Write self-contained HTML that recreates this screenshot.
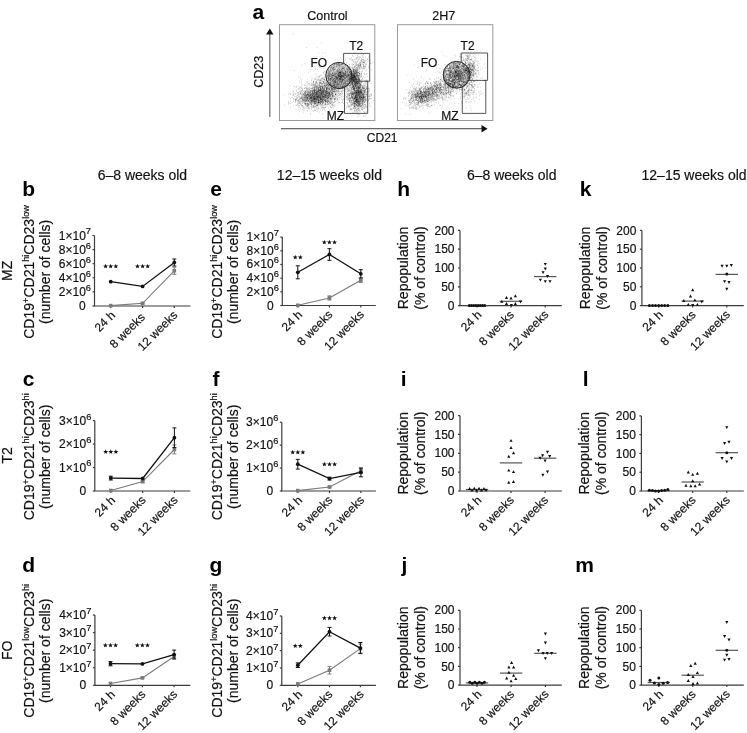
<!DOCTYPE html>
<html><head><meta charset="utf-8"><style>
html,body{margin:0;padding:0;background:#fff;}
body{width:747px;height:733px;overflow:hidden;}
svg{display:block;will-change:transform;}
</style></head><body>
<svg width="747" height="733" viewBox="0 0 747 733" font-family='"Liberation Sans", sans-serif'>
<rect width="747" height="733" fill="#fff"/>
<text x="258.30" y="18.50" font-size="21" text-anchor="middle" font-weight="bold" fill="#000">a</text>
<text x="327.50" y="20.10" font-size="12.5" text-anchor="middle" fill="#111" stroke="#111" stroke-width="0.18">Control</text>
<text x="443.80" y="20.10" font-size="12.5" text-anchor="middle" fill="#111" stroke="#111" stroke-width="0.18">2H7</text>
<rect x="279.5" y="24.7" width="95.3" height="95.8" fill="none" stroke="#999" stroke-width="1"/>
<rect x="397.5" y="24.7" width="95.3" height="95.8" fill="none" stroke="#999" stroke-width="1"/>
<path d="M269.8 117 V33" stroke="#777" stroke-width="1.3"/>
<path d="M269.8 28.6 L273.5 34.6 L266.1 34.6Z" fill="#111"/>
<path d="M281 128.7 H482" stroke="#666" stroke-width="1.3"/>
<path d="M487.6 128.7 L481.5 125 L481.5 132.4Z" fill="#111"/>
<text x="263.30" y="71.80" font-size="12.5" text-anchor="middle" fill="#111" stroke="#111" stroke-width="0.18" transform="rotate(-90 263.3 71.8)">CD23</text>
<text x="382.20" y="142.20" font-size="12" text-anchor="middle" fill="#111" stroke="#111" stroke-width="0.18">CD21</text>
<path transform="scale(0.1)" d="M3696 499h6m-156 24h6m-327 8h6m280 59h6m72 0h6m42 2h6m-18 4h6m44 0h6m-101 1h6m-6 2h6m33 13h6m-97 2h6m19 7h6m8 2h6m42 0h6m-236 11h6m27 0h6m-57 1h6m10 0h6m-30 4h6m2 1h6m-7 3h6m6 2h6m24 0h6m-34 5h6m44 0h6m40 1h6m-135 1h6m231 0h6m-143 1h6m-75 2h6m-15 1h6m257 0h6m-58 3h6m-229 1h6m216 1h6m-226 2h6m21 0h6m-33 3h6m271 0h6m-188 1h6m191 1h6m-344 2h6m28 1h6m189 0h6m91 0h6m-173 1h6m104 0h6m100 0h6m-205 1h6m-39 1h6m3 2h6m90 0h6m-195 2h6m-62 1h6m6 1h6m12 0h6m89 0h6m25 1h6m116 1h6m-269 2h6m93 1h6m44 0h6m84 0h6m-180 1h6m-43 1h6m99 2h6m-162 1h6m11 0h6m111 0h6m-58 2h6m22 0h6m127 0h6m-1 0h6m8 0h6m-130 1h6m-78 1h6m182 0h6m-95 1h6m-173 1h6m225 1h6m41 0h6m-311 1h6m124 0h6m1 1h6m-6 0h6m38 1h6m75 0h6m2 2h6m-130 1h6m55 0h6m75 0h6m-28 1h6m-234 1h6m72 0h6m152 0h6m-258 1h6m112 1h6m142 0h6m-295 1h6m219 0h6m25 0h6m-262 1h6m92 0h6m28 0h6m67 0h6m1 0h6m-206 1h6m1 2h6m67 0h6m199 0h6m-48 2h6m15 1h6m-51 1h6m-280 1h6m214 0h6m-82 1h6m10 0h6m103 0h6m-17 1h6m68 0h6m-150 1h6m112 0h6m20 0h6m-225 1h6m77 1h6m135 0h6m-177 1h6m-4 0h6m18 0h6m128 0h6m-280 1h6m109 1h6m-52 1h6m130 0h6m-86 2h6m-120 2h6m43 0h6m31 0h6m23 0h6m123 0h6m13 0h6m-152 1h6m-17 1h6m128 0h6m2 0h6m-53 1h6m-2 1h6m-162 1h6m216 1h6m34 0h6m-294 1h6m39 0h6m168 0h6m-121 1h6m4 0h6m-82 1h6m79 0h6m20 1h6m187 0h6m-158 1h6m-220 1h6m62 0h6m87 0h6m15 0h6m30 0h6m-234 1h6m138 0h6m-34 1h6m64 0h6m75 0h6m-237 1h6m9 0h6m172 0h6m-131 1h6m94 0h6m36 1h6m28 0h6m-5 0h6m70 0h6m-163 1h6m-247 1h6m279 0h6m-154 1h6m58 0h6m-171 1h6m27 0h6m89 0h6m100 0h6m-4 0h6m12 0h6m-97 1h6m-32 1h6m-4 0h6m43 0h6m0 0h6m59 0h6m18 0h6m6 0h6m-287 1h6m27 0h6m80 0h6m36 0h6m77 0h6m2 0h6m11 0h6m-283 1h6m104 0h6m79 0h6m40 0h6m-127 1h6m3 0h6m118 0h6m-283 1h6m238 0h6m60 0h6m-299 1h6m141 0h6m-74 1h6m135 0h6m43 0h6m-175 1h6m47 0h6m25 0h6m54 0h6m-186 1h6m29 0h6m148 0h6m-243 1h6m-1 0h6m99 0h6m8 0h6m4 0h6m-28 1h6m-29 1h6m35 0h6m69 0h6m-208 1h6m74 0h6m163 0h6m-260 1h6m94 0h6m104 0h6m-325 1h6m156 0h6m-2 0h6m35 0h6m-3 0h6m45 0h6m89 0h6m-271 1h6m101 0h6m14 0h6m-173 1h6m149 0h6m32 0h6m125 0h6m-159 1h6m32 0h6m81 0h6m-273 1h6m7 0h6m171 0h6m100 0h6m-420 1h6m224 0h6m129 0h6m-84 1h6m88 0h6m-2 0h6m0 0h6m-296 1h6m236 0h6m30 0h6m15 0h6m4 0h6m15 0h6m-261 1h6m70 0h6m111 0h6m-153 1h6m22 0h6m117 0h6m-1 0h6m-224 1h6m41 0h6m32 1h6m115 0h6m-155 1h6m0 0h6m79 0h6m95 0h6m-261 1h6m114 0h6m129 0h6m-342 2h6m-5 0h6m59 0h6m-5 0h6m12 0h6m51 0h6m129 0h6m80 0h6m-291 1h6m15 0h6m99 0h6m69 0h6m0 0h6m-213 1h6m88 0h6m10 0h6m96 0h6m9 0h6m-257 1h6m26 0h6m87 0h6m98 0h6m6 0h6m1 0h6m-121 2h6m101 0h6m39 0h6m58 0h6m-491 1h6m234 0h6m150 0h6m30 0h6m20 0h6m-448 1h6m275 0h6m79 0h6m-194 1h6m147 0h6m6 0h6m46 0h6m-217 1h6m44 0h6m-5 0h6m-3 0h6m-140 1h6m40 0h6m-1 0h6m68 0h6m185 0h6m-144 1h6m-69 1h6m109 0h6m60 0h6m-274 1h6m141 0h6m82 0h6m2 0h6m9 0h6m10 0h6m-169 1h6m-6 0h6m14 0h6m-156 1h6m109 0h6m197 0h6m-65 1h6m-16 1h6m-335 1h6m51 0h6m265 0h6m25 0h6m0 0h6m17 0h6m-258 1h6m92 0h6m-166 1h6m99 0h6m139 0h6m9 0h6m-177 1h6m-65 1h6m254 0h6m-132 1h6m-6 0h6m10 0h6m99 0h6m5 0h6m-228 1h6m72 0h6m15 1h6m55 0h6m2 0h6m-215 1h6m193 0h6m20 0h6m0 0h6m66 0h6m-18 1h6m-69 1h6m105 0h6m-321 1h6m22 0h6m166 0h6m-369 1h6m202 0h6m154 0h6m43 0h6m11 0h6m-472 1h6m331 0h6m92 0h6m-341 1h6m180 0h6m150 0h6m20 0h6m-320 1h6m85 0h6m67 0h6m124 0h6m-4 0h6m-364 1h6m197 0h6m68 0h6m-203 1h6m245 0h6m117 0h6m-297 1h6m95 0h6m-294 1h6m-210 1h6m319 0h6m221 0h6m13 0h6m-438 1h6m406 0h6m-417 1h6m122 0h6m76 0h6m46 0h6m-122 1h6m0 0h6m22 0h6m100 0h6m-122 1h6m26 0h6m28 0h6m-174 1h6m206 0h6m171 2h6m-464 1h6m363 0h6m-217 1h6m55 0h6m-132 1h6m329 0h6m-400 1h6m76 0h6m89 0h6m60 0h6m131 0h6m-339 1h6m-4 0h6m168 0h6m47 0h6m8 0h6m57 1h6m-322 1h6m33 0h6m223 0h6m90 0h6m0 0h6m-426 1h6m17 0h6m148 0h6m152 0h6m35 0h6m26 0h6m-151 1h6m-85 1h6m261 0h6m-500 1h6m98 0h6m87 0h6m155 0h6m-138 1h6m179 0h6m-399 1h6m108 0h6m127 0h6m141 0h6m-317 1h6m145 0h6m103 0h6m88 0h6m-189 1h6m141 0h6m-165 1h6m23 1h6m52 0h6m-3 0h6m-89 1h6m28 0h6m82 0h6m35 0h6m4 0h6m-241 1h6m-1 0h6m-219 1h6m452 0h6m-200 1h6m33 0h6m65 1h6m56 0h6m0 1h6m-232 1h6m25 0h6m102 0h6m-89 1h6m173 0h6m105 0h6m-526 1h6m308 1h6m131 0h6m-365 1h6m60 0h6m63 0h6m68 0h6m-86 1h6m182 0h6m32 0h6m-708 3h6m252 0h6m119 0h6m69 0h6m87 0h6m33 0h6m-375 1h6m386 0h6m30 0h6m-162 1h6m6 0h6m-33 1h6m227 0h6m16 0h6m-417 1h6m101 1h6m233 0h6m-360 1h6m214 0h6m-2 0h6m20 0h6m-307 1h6m76 0h6m0 0h6m39 0h6m-94 1h6m135 0h6m-4 0h6m4 0h6m10 0h6m43 0h6m-37 1h6m36 1h6m12 0h6m110 0h6m4 0h6m84 0h6m-422 1h6m268 0h6m3 0h6m47 0h6m-450 1h6m22 0h6m134 0h6m107 0h6m12 0h6m55 0h6m18 0h6m2 0h6m-376 1h6m477 0h6m-291 1h6m-218 1h6m157 0h6m226 0h6m83 0h6m-417 1h6m190 0h6m-5 0h6m-168 1h6m60 0h6m21 0h6m56 0h6m13 0h6m126 0h6m-422 1h6m35 0h6m10 0h6m28 0h6m89 0h6m41 0h6m191 0h6m9 0h6m-432 1h6m184 0h6m-137 1h6m143 0h6m197 0h6m-455 1h6m426 0h6m65 0h6m-348 1h6m-2 0h6m287 0h6m-467 1h6m146 0h6m35 0h6m265 0h6m-257 1h6m221 0h6m69 0h6m38 0h6m-511 1h6m84 0h6m5 0h6m51 0h6m249 0h6m74 0h6m-692 1h6m48 0h6m509 0h6m12 0h6m41 0h6m-549 1h6m24 0h6m30 0h6m29 0h6m36 0h6m247 0h6m57 0h6m-377 1h6m139 0h6m81 0h6m125 0h6m103 0h6m-529 1h6m210 0h6m222 0h6m-584 1h6m87 0h6m57 0h6m38 1h6m-163 1h6m205 0h6m47 0h6m244 0h6m41 0h6m-461 1h6m127 0h6m25 1h6m358 0h6m-426 1h6m426 0h6m-464 2h6m129 0h6m167 0h6m130 0h6m-488 2h6m432 0h6m-433 1h6m151 0h6m256 0h6m-386 1h6m213 0h6m74 0h6m108 0h6m-334 1h6m14 0h6m219 0h6m37 0h6m-639 1h6m121 0h6m106 0h6m19 0h6m31 0h6m55 0h6m11 0h6m33 0h6m91 0h6m1 0h6m7 0h6m-253 1h6m105 0h6m234 0h6m26 0h6m-338 1h6m-201 1h6m5 0h6m355 0h6m-474 1h6m161 0h6m126 0h6m58 0h6m190 0h6m-469 1h6m399 0h6m61 0h6m2 0h6m-381 1h6m16 0h6m321 0h6m-294 1h6m296 0h6m4 0h6m30 0h6m-448 1h6m507 0h6m-470 1h6m5 0h6m79 0h6m28 0h6m237 0h6m-564 1h6m-3 0h6m172 0h6m7 0h6m310 0h6m28 0h6m-601 1h6m162 0h6m164 0h6m-6 0h6m-4 0h6m237 0h6m56 0h6m-457 1h6m11 0h6m21 0h6m1 0h6m29 0h6m233 0h6m100 0h6m-467 1h6m-2 0h6m4 0h6m-93 1h6m397 0h6m-483 1h6m147 0h6m193 0h6m-275 1h6m11 0h6m4 0h6m110 0h6m265 0h6m94 0h6m-407 1h6m331 0h6m-3 0h6m35 0h6m12 0h6m-390 1h6m-137 1h6m23 0h6m54 0h6m66 0h6m23 0h6m98 0h6m263 0h6m12 0h6m-524 1h6m79 0h6m421 0h6m-476 1h6m58 0h6m57 0h6m201 0h6m54 0h6m46 0h6m-521 1h6m483 0h6m-472 1h6m67 0h6m322 1h6m8 0h6m-401 1h6m165 0h6m72 0h6m123 0h6m-574 1h6m231 0h6m34 0h6m333 0h6m79 0h6m-760 1h6m270 0h6m-2 0h6m100 0h6m-430 1h6m253 0h6m384 0h6m7 0h6m46 0h6m-51 1h6m-353 1h6m307 0h6m-2 0h6m-320 1h6m80 0h6m51 0h6m38 0h6m-294 1h6m83 0h6m51 0h6m1 0h6m17 0h6m274 0h6m-676 1h6m231 0h6m42 0h6m102 0h6m16 0h6m294 0h6m0 0h6m-567 1h6m168 0h6m17 0h6m3 0h6m0 0h6m0 0h6m104 0h6m97 0h6m61 0h6m0 0h6m6 0h6m16 0h6m-247 1h6m176 1h6m-506 1h6m157 0h6m201 0h6m-431 1h6m80 0h6m65 0h6m8 0h6m127 0h6m30 0h6m5 0h6m230 0h6m30 0h6m-355 1h6m10 0h6m197 0h6m-333 1h6m143 0h6m61 0h6m124 0h6m-286 1h6m25 0h6m263 0h6m76 0h6m2 0h6m27 0h6m-759 1h6m277 0h6m117 0h6m314 0h6m-445 1h6m118 0h6m52 0h6m37 0h6m61 0h6m200 0h6m-481 1h6m-4 0h6m9 0h6m17 0h6m387 0h6m-476 1h6m-172 1h6m36 0h6m1 0h6m20 0h6m13 0h6m431 0h6m50 0h6m-1 0h6m-548 1h6m87 0h6m104 0h6m-174 1h6m24 0h6m104 0h6m37 0h6m303 0h6m1 0h6m6 0h6m-510 1h6m69 0h6m38 0h6m15 0h6m54 0h6m304 0h6m65 0h6m-472 1h6m61 0h6m18 0h6m-319 1h6m110 0h6m47 0h6m28 0h6m-20 1h6m0 0h6m114 0h6m63 0h6m215 0h6m-499 1h6m242 0h6m170 0h6m38 0h6m146 0h6m-562 1h6m-4 0h6m65 0h6m89 0h6m181 0h6m82 0h6m-480 1h6m15 0h6m405 0h6m-510 1h6m161 0h6m-156 1h6m18 0h6m125 0h6m73 0h6m185 0h6m-327 1h6m33 0h6m51 0h6m74 0h6m292 0h6m-601 1h6m227 0h6m298 0h6m35 0h6m8 0h6m-563 1h6m20 0h6m176 0h6m32 0h6m-246 1h6m139 0h6m4 0h6m51 0h6m-173 1h6m6 0h6m76 0h6m65 0h6m256 0h6m-367 1h6m10 0h6m12 0h6m130 0h6m213 0h6m-482 1h6m95 0h6m349 0h6m-2 0h6m-457 1h6m116 0h6m8 0h6m-182 1h6m47 0h6m21 0h6m81 0h6m-1 0h6m253 0h6m79 0h6m3 0h6m-518 1h6m107 0h6m345 0h6m-334 1h6m279 0h6m-633 1h6m265 0h6m298 0h6m169 0h6m-605 1h6m89 0h6m101 0h6m-183 1h6m137 0h6m263 0h6m92 1h6m-351 1h6m20 0h6m372 0h6m-601 1h6m52 0h6m-5 0h6m48 0h6m15 0h6m210 0h6m137 0h6m-390 1h6m-47 1h6m166 0h6m40 0h6m-170 1h6m80 0h6m57 0h6m-134 1h6m68 0h6m3 0h6m97 0h6m-280 1h6m9 0h6m-1 0h6m17 0h6m112 0h6m27 0h6m244 0h6m45 0h6m-549 1h6m21 0h6m-5 0h6m23 0h6m90 0h6m323 0h6m14 0h6m0 0h6m-552 1h6m105 0h6m18 0h6m-152 1h6m108 0h6m86 0h6m319 0h6m-577 1h6m189 0h6m170 0h6m356 0h6m5 0h6m-583 1h6m84 0h6m63 0h6m15 0h6m186 0h6m-419 1h6m44 0h6m5 0h6m166 0h6m-230 1h6m104 0h6m103 0h6m208 0h6m142 0h6m-471 1h6m406 0h6m-659 1h6m235 0h6m3 0h6m112 0h6m239 0h6m28 0h6m31 0h6m-475 1h6m-3 0h6m37 0h6m343 0h6m7 0h6m-284 1h6m246 0h6m76 0h6m-507 1h6m50 0h6m10 0h6m312 0h6m-488 1h6m121 0h6m50 0h6m107 0h6m211 0h6m-543 1h6m305 0h6m187 0h6m27 0h6m-548 1h6m204 0h6m9 0h6m336 0h6m19 0h6m-50 1h6m21 0h6m-472 1h6m437 0h6m4 0h6m-571 1h6m-3 0h6m500 0h6m-498 1h6m107 0h6m22 0h6m242 0h6m118 0h6m52 0h6m-644 1h6m221 0h6m351 0h6m-1 0h6m-466 1h6m51 0h6m129 0h6m296 1h6m-600 1h6m132 0h6m169 0h6m207 0h6m4 0h6m91 0h6m-686 1h6m193 0h6m391 0h6m19 0h6m-603 2h6m55 0h6m67 0h6m63 0h6m27 0h6m-6 0h6m447 0h6m-525 1h6m29 0h6m95 0h6m346 0h6m-4 0h6m-550 1h6m23 0h6m12 0h6m455 0h6m-479 1h6m67 0h6m-100 1h6m14 0h6m87 0h6m26 0h6m11 0h6m45 0h6m226 0h6m14 0h6m6 0h6m-602 1h6m213 0h6m356 0h6m33 0h6m-382 1h6m-161 1h6m101 0h6m23 0h6m321 0h6m51 0h6m20 0h6m-98 2h6m60 0h6m-520 1h6m5 0h6m29 0h6m114 0h6m-221 1h6m70 0h6m30 0h6m388 0h6m48 0h6m-13 1h6m-488 1h6m69 0h6m91 0h6m63 0h6m235 0h6m25 0h6m-300 2h6m-339 1h6m171 0h6m98 0h6m16 0h6m170 0h6m-291 1h6m84 0h6m-115 1h6m316 0h6m25 0h6m-345 1h6m11 1h6m122 0h6m5 0h6m196 0h6m146 1h6m-678 1h6m134 0h6m416 0h6m-692 1h6m638 0h6m-663 1h6m256 1h6m16 0h6m439 1h6m-591 1h6m44 0h6m144 0h6m24 0h6m329 0h6m-607 1h6m158 0h6m368 0h6m-377 1h6m373 0h6m28 0h6m-523 1h6m490 1h6m-356 2h6m307 1h6m-378 1h6m447 0h6m-2 0h6m-541 3h6m173 0h6m13 0h6m301 0h6m83 0h6m-550 1h6m133 0h6m-71 1h6m359 1h6m-304 2h6m371 0h6m-421 1h6m-141 1h6m476 0h6m-558 1h6m606 0h6m-29 1h6m-435 1h6m-79 2h6m66 1h6m-157 1h6m553 0h6m15 0h6m-669 1h6m228 0h6m371 4h6m154 1h6m-169 1h6m60 1h6m-468 1h6m0 2h6m143 2h6m-177 1h6m78 0h6m12 0h6m299 1h6m-290 1h6m400 0h6m-17 1h6m-476 4h6m150 3h6m192 0h6m-301 1h6m262 1h6m35 1h6m0 0h6m27 1h6m-506 2h6m466 0h6m56 3h6m-678 1h6m190 8h6m407 0h6m-498 1h6m56 5h6m429 0h6m-11 6h6m38 0h6m41 1h6m-459 6h6m361 21h6m-466 2h6m481 1h6m52 19h6m-19 2h6m-64 2h6m-311 11h6" stroke="#000" stroke-width="6" stroke-opacity="0.44" fill="none"/>
<path transform="scale(0.1)" d="M3626 561h6m-106 1h6m59 7h6m25 1h6m-116 4h6m45 3h6m-67 7h6m161 0h6m-100 5h6m94 5h6m-65 3h6m-125 1h6m155 0h6m36 2h6m-73 3h6m-30 1h6m71 3h6m-47 1h6m-35 11h6m103 1h6m-167 1h6m24 0h6m31 1h6m-9 3h6m-28 2h6m32 2h6m-266 8h6m-4 2h6m57 2h6m103 0h6m-4 1h6m-224 2h6m52 0h6m9 0h6m-81 3h6m61 0h6m-85 2h6m78 0h6m19 1h6m84 0h6m46 2h6m-12 1h6m-247 2h6m133 1h6m127 1h6m46 0h6m-193 1h6m132 0h6m-144 1h6m-7 1h6m-88 4h6m1 1h6m50 1h6m-110 1h6m148 0h6m43 1h6m-247 2h6m253 1h6m66 0h6m-210 1h6m-5 2h6m-135 1h6m73 1h6m-98 2h6m26 1h6m-40 1h6m280 0h6m-145 1h6m-119 1h6m-101 1h6m148 0h6m41 0h6m-133 1h6m13 1h6m82 0h6m65 0h6m44 0h6m-118 1h6m-4 2h6m123 0h6m-1 1h6m66 0h6m-355 1h6m148 0h6m-2 0h6m21 0h6m-122 1h6m110 0h6m21 0h6m146 0h6m-238 2h6m-86 1h6m201 1h6m26 0h6m21 0h6m-66 1h6m-69 2h6m5 0h6m38 0h6m-4 0h6m-218 1h6m185 1h6m25 0h6m-93 1h6m21 0h6m-87 1h6m29 0h6m101 0h6m7 1h6m2 0h6m6 0h6m-113 1h6m58 0h6m-132 3h6m-82 1h6m36 1h6m60 0h6m47 1h6m-361 1h6m331 0h6m-181 1h6m164 0h6m-23 1h6m-170 1h6m254 1h6m-151 1h6m6 1h6m85 0h6m-58 1h6m-95 2h6m6 0h6m227 0h6m-224 1h6m11 0h6m67 0h6m87 0h6m-179 1h6m45 0h6m-162 1h6m24 0h6m75 0h6m99 0h6m-435 1h6m462 1h6m-219 1h6m-17 1h6m19 0h6m114 0h6m-172 2h6m156 1h6m21 0h6m-5 1h6m15 0h6m22 0h6m-270 1h6m92 0h6m207 0h6m-153 1h6m-165 1h6m41 0h6m208 0h6m-1 1h6m-201 2h6m144 0h6m-174 1h6m77 0h6m129 0h6m29 0h6m-573 1h6m270 0h6m72 0h6m35 0h6m18 0h6m103 0h6m-93 1h6m46 0h6m-32 1h6m9 0h6m-57 1h6m69 0h6m-54 1h6m84 0h6m-234 1h6m-64 1h6m46 0h6m-33 1h6m120 0h6m-155 1h6m143 0h6m-58 1h6m101 0h6m-227 1h6m80 0h6m43 0h6m89 0h6m-9 1h6m4 0h6m21 0h6m7 0h6m-252 1h6m-153 1h6m125 0h6m81 0h6m120 0h6m39 0h6m-216 1h6m45 0h6m87 0h6m32 0h6m-5 1h6m-4 0h6m62 0h6m-271 1h6m50 0h6m-1 0h6m13 0h6m-121 1h6m130 0h6m6 0h6m76 0h6m-136 1h6m20 0h6m89 0h6m63 0h6m-389 1h6m90 0h6m108 0h6m-1 0h6m62 0h6m57 0h6m-377 1h6m256 0h6m-235 1h6m158 0h6m39 0h6m63 0h6m58 0h6m-3 0h6m-142 1h6m3 0h6m-134 1h6m85 0h6m-17 1h6m157 0h6m0 0h6m-139 1h6m45 0h6m-3 0h6m109 0h6m-394 1h6m85 2h6m117 0h6m119 0h6m-212 1h6m28 0h6m34 0h6m86 0h6m-115 1h6m66 0h6m6 0h6m6 0h6m-5 1h6m-299 1h6m215 0h6m88 0h6m-4 0h6m77 0h6m10 0h6m-263 1h6m141 0h6m44 0h6m42 0h6m-51 1h6m-173 1h6m25 0h6m5 0h6m4 0h6m97 0h6m-1 0h6m-250 1h6m84 0h6m99 0h6m38 1h6m-303 1h6m314 0h6m13 0h6m-295 1h6m27 0h6m3 0h6m-5 0h6m100 0h6m116 1h6m-5 0h6m17 0h6m-44 1h6m-249 1h6m70 0h6m151 0h6m-130 1h6m13 0h6m11 0h6m-164 1h6m106 0h6m49 0h6m-86 1h6m123 0h6m20 0h6m-191 1h6m25 0h6m11 0h6m122 0h6m27 0h6m25 0h6m-294 1h6m23 0h6m64 0h6m117 0h6m13 1h6m-241 1h6m32 0h6m55 0h6m33 0h6m95 0h6m48 0h6m-207 1h6m-5 0h6m18 0h6m127 0h6m-126 1h6m73 0h6m-447 1h6m190 0h6m15 0h6m81 0h6m22 0h6m132 0h6m22 0h6m8 0h6m-284 1h6m26 0h6m161 0h6m-98 1h6m-3 0h6m24 0h6m57 0h6m15 0h6m58 0h6m-269 1h6m102 0h6m76 0h6m53 0h6m-88 1h6m-139 1h6m32 0h6m12 0h6m146 0h6m-366 1h6m22 0h6m186 0h6m24 1h6m17 0h6m17 0h6m-1 0h6m30 0h6m-535 1h6m261 0h6m221 0h6m-164 1h6m110 0h6m-235 1h6m17 0h6m297 0h6m-166 1h6m8 0h6m167 0h6m-401 1h6m1 0h6m82 0h6m222 0h6m13 1h6m35 0h6m-384 1h6m78 0h6m228 0h6m10 0h6m25 1h6m-290 1h6m92 0h6m0 0h6m79 0h6m119 0h6m-297 1h6m178 0h6m34 0h6m-202 1h6m-78 1h6m11 0h6m307 1h6m-365 1h6m117 0h6m46 1h6m64 0h6m33 0h6m24 0h6m7 0h6m-4 0h6m-169 1h6m85 0h6m42 0h6m5 1h6m-96 1h6m18 0h6m17 0h6m4 0h6m-5 0h6m-116 1h6m-10 1h6m-4 0h6m26 0h6m-108 1h6m58 0h6m46 0h6m49 0h6m-355 1h6m78 0h6m293 0h6m63 0h6m-271 1h6m163 0h6m-1 0h6m3 0h6m8 0h6m27 0h6m-349 1h6m63 0h6m31 0h6m8 0h6m-103 1h6m98 0h6m218 0h6m-289 1h6m150 0h6m103 0h6m-218 1h6m178 0h6m46 0h6m-404 1h6m248 0h6m122 0h6m-507 1h6m315 0h6m184 0h6m-262 1h6m110 0h6m110 0h6m-3 0h6m-116 2h6m11 0h6m15 0h6m54 0h6m-5 0h6m-447 1h6m8 0h6m244 0h6m16 0h6m77 1h6m39 1h6m-366 1h6m283 0h6m28 0h6m13 0h6m1 1h6m5 0h6m52 0h6m125 0h6m-258 1h6m1 0h6m-418 1h6m273 0h6m5 0h6m171 0h6m4 0h6m-284 1h6m255 0h6m20 0h6m4 0h6m-240 1h6m18 0h6m165 0h6m-219 1h6m82 0h6m12 0h6m178 0h6m-360 1h6m137 0h6m155 0h6m65 0h6m-288 1h6m192 1h6m-237 1h6m181 0h6m-190 1h6m126 0h6m166 0h6m-391 1h6m118 0h6m-89 1h6m129 0h6m-43 1h6m-320 1h6m248 0h6m142 0h6m-117 1h6m142 0h6m151 0h6m-357 1h6m88 0h6m126 0h6m67 0h6m-55 1h6m39 0h6m-428 1h6m163 0h6m103 0h6m1 0h6m-337 1h6m136 0h6m84 0h6m98 0h6m13 0h6m-136 1h6m280 0h6m-441 1h6m41 0h6m36 0h6m1 0h6m182 0h6m148 0h6m-447 1h6m233 0h6m112 0h6m-55 1h6m-330 1h6m25 0h6m152 0h6m19 0h6m60 0h6m-129 1h6m26 0h6m127 0h6m103 0h6m-539 1h6m78 0h6m279 0h6m161 0h6m-282 1h6m79 0h6m235 0h6m-349 1h6m241 0h6m61 0h6m-346 1h6m149 0h6m8 0h6m90 0h6m-200 1h6m217 0h6m-625 1h6m343 0h6m230 0h6m0 1h6m-134 1h6m-222 1h6m131 0h6m65 0h6m105 0h6m0 0h6m56 0h6m-258 1h6m-1 0h6m-138 1h6m186 0h6m-267 1h6m90 0h6m-84 1h6m-116 1h6m83 0h6m39 0h6m66 0h6m10 0h6m136 0h6m93 0h6m-220 1h6m-4 0h6m-48 1h6m116 0h6m129 0h6m-4 0h6m51 0h6m-57 1h6m30 0h6m-441 1h6m40 0h6m9 0h6m48 0h6m153 0h6m39 0h6m91 1h6m70 0h6m-576 1h6m52 0h6m23 1h6m130 2h6m61 0h6m328 0h6m-577 1h6m164 0h6m41 0h6m178 0h6m-288 1h6m3 0h6m19 0h6m-64 1h6m160 0h6m4 0h6m37 0h6m12 0h6m160 0h6m-550 1h6m255 0h6m213 0h6m-226 1h6m218 0h6m-425 1h6m71 0h6m8 0h6m59 0h6m348 0h6m-328 1h6m5 0h6m13 0h6m176 0h6m133 0h6m-648 1h6m390 0h6m200 0h6m-449 1h6m128 0h6m87 0h6m210 0h6m-449 1h6m107 0h6m16 0h6m186 0h6m69 0h6m-311 1h6m102 0h6m95 0h6m-506 1h6m544 0h6m70 0h6m-542 1h6m62 0h6m382 0h6m-4 0h6m68 0h6m-407 1h6m77 0h6m55 0h6m40 0h6m132 0h6m65 0h6m-273 1h6m333 0h6m-457 1h6m347 0h6m-369 1h6m357 0h6m-399 1h6m9 0h6m428 0h6m-497 1h6m230 0h6m39 0h6m-291 1h6m393 0h6m30 0h6m-522 1h6m21 0h6m97 0h6m38 0h6m297 0h6m-334 1h6m424 0h6m-493 2h6m22 0h6m16 0h6m-2 0h6m333 0h6m2 0h6m-537 1h6m-1 0h6m161 0h6m42 0h6m73 0h6m27 0h6m205 0h6m-1 0h6m-501 1h6m20 0h6m22 0h6m64 0h6m68 0h6m308 0h6m-179 1h6m-82 1h6m212 0h6m23 0h6m-514 1h6m100 0h6m68 0h6m206 0h6m123 0h6m0 0h6m-6 0h6m-537 1h6m590 0h6m-576 1h6m121 0h6m-176 1h6m406 0h6m51 0h6m-122 1h6m-61 1h6m176 0h6m39 0h6m19 0h6m58 0h6m-424 1h6m-4 0h6m-6 0h6m32 0h6m317 0h6m-7 1h6m-498 1h6m16 0h6m384 1h6m89 0h6m-539 1h6m103 0h6m3 0h6m95 0h6m234 0h6m32 0h6m77 0h6m-697 1h6m94 0h6m298 0h6m213 0h6m5 0h6m-534 1h6m28 0h6m22 0h6m47 0h6m85 0h6m287 0h6m-492 1h6m47 0h6m100 0h6m52 0h6m275 0h6m-630 1h6m22 0h6m61 0h6m203 0h6m-1 0h6m269 0h6m24 0h6m-523 1h6m72 0h6m408 0h6m3 0h6m-420 1h6m60 0h6m316 0h6m5 0h6m5 0h6m-531 1h6m170 0h6m2 0h6m-35 1h6m288 0h6m-5 0h6m85 0h6m-462 1h6m-2 0h6m19 2h6m0 0h6m52 0h6m88 0h6m250 0h6m-74 1h6m-573 1h6m7 0h6m165 0h6m154 0h6m245 0h6m8 0h6m-420 1h6m180 0h6m245 0h6m-646 1h6m270 0h6m360 0h6m-495 1h6m120 0h6m340 0h6m-487 1h6m77 0h6m35 0h6m492 0h6m-533 1h6m350 0h6m52 0h6m1 0h6m-488 1h6m51 0h6m-126 1h6m64 0h6m-5 0h6m25 0h6m-3 0h6m-144 1h6m145 0h6m532 0h6m-758 1h6m72 0h6m289 0h6m20 0h6m171 0h6m28 0h6m-373 1h6m53 0h6m33 0h6m232 0h6m-460 1h6m51 0h6m397 0h6m32 0h6m-404 1h6m36 0h6m333 0h6m4 0h6m-480 1h6m165 0h6m8 0h6m319 0h6m-572 1h6m33 0h6m24 0h6m71 0h6m116 0h6m81 0h6m220 0h6m20 0h6m-597 1h6m121 0h6m133 0h6m169 0h6m98 0h6m-672 1h6m71 0h6m119 0h6m54 0h6m433 0h6m-572 1h6m83 0h6m493 0h6m-559 1h6m73 0h6m58 0h6m44 0h6m178 0h6m94 0h6m126 0h6m-224 2h6m52 0h6m-342 1h6m54 0h6m249 0h6m24 0h6m28 0h6m-4 0h6m-437 1h6m1 0h6m-138 1h6m57 0h6m43 0h6m122 0h6m270 0h6m-508 1h6m62 0h6m8 0h6m106 0h6m67 0h6m237 0h6m-5 0h6m-477 1h6m36 0h6m47 0h6m339 0h6m91 0h6m-572 1h6m45 0h6m115 0h6m21 0h6m19 0h6m364 0h6m25 0h6m-556 1h6m140 0h6m41 0h6m-317 1h6m89 0h6m57 0h6m85 0h6m271 0h6m-384 1h6m148 0h6m228 0h6m-432 1h6m33 0h6m5 0h6m246 0h6m188 0h6m-457 1h6m78 0h6m8 0h6m386 0h6m-486 1h6m-1 0h6m393 0h6m54 0h6m-606 1h6m139 0h6m2 0h6m205 0h6m174 0h6m4 1h6m-629 1h6m77 0h6m233 0h6m240 0h6m51 0h6m23 0h6m-682 1h6m89 0h6m563 0h6m-496 1h6m170 0h6m292 0h6m27 0h6m-601 1h6m184 0h6m302 0h6m17 0h6m17 0h6m35 0h6m-726 1h6m5 0h6m144 0h6m23 0h6m40 0h6m27 0h6m91 0h6m32 0h6m28 0h6m250 0h6m-358 1h6m257 0h6m-469 1h6m44 0h6m154 0h6m65 0h6m160 0h6m-392 1h6m-3 0h6m160 0h6m-202 1h6m112 0h6m8 0h6m23 0h6m-246 1h6m-5 0h6m115 0h6m61 0h6m88 0h6m256 0h6m53 0h6m-520 1h6m33 0h6m36 0h6m13 0h6m289 0h6m-508 1h6m121 0h6m42 0h6m56 0h6m344 0h6m5 0h6m-330 1h6m77 0h6m174 0h6m175 0h6m-583 1h6m-133 1h6m173 0h6m280 0h6m156 0h6m-448 1h6m422 0h6m-398 1h6m196 0h6m91 0h6m-483 1h6m96 0h6m12 0h6m24 0h6m96 0h6m235 0h6m-521 1h6m210 0h6m252 0h6m-435 1h6m488 0h6m-557 1h6m89 0h6m36 0h6m437 0h6m-562 1h6m187 0h6m408 0h6m-698 1h6m239 0h6m57 0h6m-218 1h6m39 0h6m40 0h6m-3 0h6m433 0h6m41 0h6m54 0h6m-496 1h6m184 0h6m-333 1h6m29 0h6m100 0h6m426 0h6m-455 1h6m28 0h6m280 0h6m-559 1h6m226 0h6m382 0h6m36 0h6m-529 1h6m61 0h6m-117 1h6m68 0h6m37 0h6m-2 0h6m37 0h6m41 0h6m307 0h6m-629 1h6m57 0h6m14 0h6m86 0h6m-1 0h6m343 0h6m4 0h6m-418 1h6m-4 0h6m467 0h6m1 0h6m40 0h6m-576 2h6m145 0h6m53 0h6m310 0h6m86 1h6m-577 1h6m14 0h6m0 0h6m-84 1h6m1 1h6m478 0h6m79 0h6m-489 1h6m19 0h6m407 0h6m25 0h6m29 0h6m-584 1h6m13 0h6m148 1h6m453 0h6m-532 1h6m345 0h6m0 0h6m51 0h6m-531 1h6m93 0h6m9 0h6m15 0h6m442 0h6m-563 1h6m56 0h6m400 0h6m21 0h6m11 0h6m-364 1h6m336 0h6m-424 1h6m1 0h6m93 0h6m3 0h6m284 0h6m10 0h6m-450 1h6m123 0h6m362 0h6m13 0h6m-514 1h6m438 0h6m60 0h6m-639 1h6m193 0h6m10 1h6m4 0h6m61 0h6m40 0h6m217 0h6m24 0h6m-435 1h6m139 0h6m302 0h6m-431 1h6m140 0h6m-265 1h6m91 0h6m189 0h6m174 0h6m16 0h6m-591 1h6m99 0h6m33 0h6m-6 0h6m36 0h6m83 0h6m114 0h6m92 0h6m37 0h6m33 0h6m-397 1h6m-215 1h6m219 0h6m-14 1h6m100 0h6m287 0h6m-406 1h6m-4 0h6m15 0h6m371 0h6m2 0h6m-404 1h6m466 0h6m-399 2h6m-131 1h6m459 0h6m-467 1h6m459 0h6m-41 1h6m-594 1h6m149 0h6m422 1h6m21 0h6m-5 0h6m-633 1h6m70 0h6m8 0h6m62 0h6m157 0h6m278 0h6m-693 1h6m378 0h6m283 0h6m-465 1h6m156 1h6m-188 1h6m485 0h6m-583 1h6m531 0h6m52 0h6m11 1h6m-500 1h6m384 0h6m-294 1h6m61 0h6m-141 2h6m457 0h6m12 0h6m-476 2h6m390 1h6m26 0h6m-638 1h6m38 0h6m117 0h6m400 0h6m17 0h6m38 0h6m-113 3h6m-485 1h6m52 0h6m529 0h6m-642 1h6m598 0h6m-599 3h6m234 0h6m-209 1h6m139 0h6m338 0h6m-178 1h6m223 0h6m75 1h6m39 0h6m-137 1h6m28 1h6m-280 1h6m255 0h6m8 0h6m-578 1h6m118 0h6m329 1h6m81 0h6m-472 1h6m480 3h6m-484 1h6m485 0h6m-558 1h6m476 2h6m-67 1h6m78 0h6m-588 1h6m241 0h6m46 1h6m262 0h6m37 1h6m11 1h6m26 0h6m-460 1h6m348 0h6m88 1h6m-552 1h6m-63 4h6m8 0h6m594 0h6m-461 2h6m433 1h6m-577 3h6m505 1h6m-67 1h6m93 5h6m-388 4h6m-77 3h6m380 0h6m24 2h6m-502 1h6m29 3h6m478 2h6m-607 3h6m547 0h6m115 5h6m-93 5h6m-478 7h6m519 5h6m-67 4h6" stroke="#000" stroke-width="6" stroke-opacity="0.44" fill="none"/>
<path transform="scale(0.1)" d="M3255 527h6m-81 2h6m363 3h6m76 7h6m-3 6h6m-25 2h6m2 7h6m-55 8h6m70 8h6m28 2h6m-289 6h6m181 4h6m-224 9h6m163 6h6m13 2h6m49 4h6m-18 2h6m7 5h6m48 0h6m-135 3h6m30 0h6m-28 6h6m142 9h6m-114 4h6m-42 3h6m63 1h6m-44 2h6m-85 3h6m-166 1h6m225 2h6m-181 1h6m11 0h6m204 1h6m-309 1h6m7 0h6m-15 3h6m150 0h6m-480 1h6m527 0h6m-159 1h6m192 0h6m7 0h6m-221 1h6m50 0h6m-73 2h6m59 0h6m-110 2h6m45 0h6m-69 1h6m251 0h6m-183 2h6m-7 2h6m171 0h6m-53 1h6m52 0h6m-422 1h6m330 0h6m106 3h6m60 0h6m-304 1h6m156 1h6m69 2h6m-198 2h6m-252 1h6m176 0h6m216 0h6m10 0h6m-284 1h6m133 1h6m-149 2h6m24 0h6m219 4h6m-111 1h6m38 1h6m-109 1h6m-2 0h6m176 0h6m4 0h6m-214 1h6m180 1h6m-279 1h6m68 0h6m-103 2h6m34 1h6m46 0h6m87 0h6m73 0h6m-180 3h6m196 0h6m-116 2h6m-145 2h6m127 0h6m-188 1h6m68 0h6m-55 1h6m1 0h6m22 1h6m-4 0h6m-69 2h6m214 0h6m-246 3h6m103 0h6m23 0h6m131 1h6m-60 1h6m24 0h6m125 1h6m-85 1h6m-156 1h6m5 1h6m8 0h6m91 0h6m7 0h6m-74 1h6m51 0h6m-215 1h6m182 0h6m-250 1h6m59 1h6m25 1h6m33 1h6m39 0h6m24 0h6m53 0h6m-242 1h6m40 1h6m97 0h6m17 0h6m-207 1h6m3 0h6m93 0h6m118 0h6m10 0h6m-70 1h6m-4 0h6m-91 1h6m-23 1h6m90 0h6m-83 1h6m181 0h6m-197 1h6m109 0h6m-229 1h6m130 0h6m12 0h6m66 0h6m61 0h6m-118 1h6m-186 1h6m140 0h6m-72 1h6m193 0h6m-191 1h6m257 0h6m-367 1h6m62 0h6m6 0h6m17 1h6m17 0h6m23 0h6m104 0h6m30 0h6m-264 1h6m37 0h6m191 0h6m-265 1h6m2 0h6m64 0h6m203 0h6m-58 1h6m11 0h6m-124 1h6m8 0h6m135 0h6m-297 1h6m78 0h6m11 0h6m0 0h6m116 0h6m-216 1h6m36 0h6m135 0h6m-92 1h6m40 0h6m78 0h6m-166 1h6m-67 1h6m124 0h6m26 0h6m-124 1h6m102 0h6m43 0h6m-235 1h6m9 1h6m180 0h6m-113 1h6m101 0h6m51 0h6m38 0h6m-265 1h6m23 0h6m52 0h6m46 0h6m-186 1h6m145 0h6m21 0h6m-198 1h6m49 0h6m52 0h6m-5 0h6m-68 1h6m101 0h6m34 0h6m-225 1h6m109 0h6m42 0h6m16 0h6m-252 1h6m178 0h6m19 0h6m144 0h6m-130 1h6m-70 1h6m3 0h6m20 0h6m-133 1h6m195 0h6m-222 1h6m53 0h6m179 0h6m27 0h6m-5 0h6m-132 1h6m-93 1h6m40 0h6m8 0h6m122 0h6m79 0h6m-286 1h6m64 0h6m6 0h6m86 0h6m-188 1h6m93 0h6m16 0h6m114 0h6m-564 1h6m449 0h6m81 0h6m-283 1h6m91 0h6m2 0h6m-87 1h6m64 0h6m172 0h6m19 1h6m-228 1h6m0 0h6m215 0h6m-184 1h6m145 0h6m3 0h6m-278 1h6m121 0h6m-3 0h6m95 0h6m25 0h6m-74 1h6m8 0h6m43 0h6m13 0h6m55 0h6m-224 1h6m24 0h6m98 0h6m-81 1h6m72 0h6m37 0h6m-274 1h6m222 0h6m-83 1h6m-186 1h6m109 0h6m101 0h6m9 0h6m-417 1h6m52 0h6m296 0h6m-65 1h6m78 0h6m-230 2h6m111 0h6m21 0h6m-1 0h6m19 0h6m65 0h6m32 0h6m-238 1h6m19 0h6m10 0h6m44 0h6m163 0h6m-247 1h6m24 0h6m-4 0h6m30 0h6m92 0h6m-1 0h6m-29 1h6m49 0h6m3 0h6m-140 1h6m64 0h6m-91 1h6m44 0h6m67 0h6m-225 2h6m159 0h6m72 0h6m-549 1h6m248 0h6m126 0h6m6 0h6m12 0h6m69 0h6m57 0h6m-356 1h6m149 0h6m-97 1h6m309 1h6m-440 1h6m216 0h6m17 0h6m87 0h6m66 0h6m-332 1h6m36 0h6m30 0h6m158 0h6m20 0h6m0 0h6m19 0h6m-279 1h6m128 0h6m75 0h6m25 0h6m-299 1h6m55 0h6m135 0h6m193 0h6m-257 1h6m51 0h6m101 0h6m12 0h6m-4 0h6m-2 0h6m-404 1h6m148 0h6m8 1h6m-5 0h6m-2 0h6m84 0h6m129 0h6m2 1h6m23 0h6m-126 1h6m136 0h6m-288 1h6m7 0h6m51 0h6m15 0h6m56 0h6m91 0h6m-229 1h6m-3 0h6m19 0h6m31 0h6m49 0h6m-315 1h6m327 0h6m80 0h6m-294 1h6m219 0h6m14 0h6m40 0h6m-297 2h6m148 0h6m4 0h6m24 0h6m40 0h6m-360 1h6m109 0h6m24 0h6m130 0h6m58 0h6m44 0h6m-57 1h6m38 0h6m1 0h6m-315 1h6m45 0h6m20 0h6m14 0h6m66 0h6m-1 0h6m17 0h6m32 0h6m22 1h6m-224 1h6m-4 0h6m92 0h6m40 0h6m63 0h6m13 0h6m28 0h6m-338 1h6m150 0h6m50 0h6m48 0h6m16 0h6m109 0h6m-339 1h6m10 0h6m245 0h6m-465 1h6m134 0h6m16 0h6m57 0h6m84 0h6m-28 1h6m-6 0h6m19 0h6m-146 2h6m16 0h6m17 0h6m5 0h6m20 0h6m163 0h6m56 0h6m-469 1h6m129 0h6m1 0h6m-76 1h6m127 0h6m108 0h6m-95 1h6m135 0h6m-466 1h6m335 0h6m51 0h6m35 0h6m19 0h6m6 0h6m25 0h6m-452 1h6m221 0h6m190 0h6m-127 1h6m107 0h6m5 0h6m-375 1h6m153 0h6m43 0h6m119 0h6m25 0h6m-128 1h6m-162 1h6m260 0h6m-189 1h6m-104 1h6m170 0h6m141 0h6m-76 1h6m40 0h6m-209 1h6m32 0h6m-164 1h6m172 0h6m95 0h6m55 0h6m7 0h6m-427 1h6m428 0h6m-2 0h6m-408 1h6m17 0h6m35 0h6m42 0h6m26 0h6m8 0h6m50 0h6m-215 1h6m292 0h6m49 0h6m2 1h6m2 0h6m-335 1h6m285 0h6m-280 1h6m20 0h6m138 0h6m-349 1h6m226 0h6m-135 1h6m349 0h6m-176 1h6m-2 0h6m185 0h6m-280 2h6m7 0h6m111 0h6m134 0h6m12 0h6m-514 2h6m185 0h6m115 0h6m114 1h6m32 0h6m11 0h6m-428 1h6m229 1h6m97 0h6m-421 1h6m227 0h6m244 0h6m45 0h6m-108 2h6m14 0h6m67 0h6m-5 0h6m-256 1h6m150 0h6m-230 1h6m11 0h6m73 1h6m189 0h6m-311 1h6m265 0h6m58 0h6m-140 1h6m124 0h6m11 0h6m-371 1h6m-4 0h6m52 0h6m48 0h6m59 0h6m42 0h6m46 0h6m59 0h6m-278 1h6m138 0h6m58 0h6m-490 1h6m275 0h6m71 0h6m97 0h6m101 0h6m-286 1h6m95 0h6m-46 1h6m-225 1h6m132 0h6m106 0h6m9 1h6m132 0h6m-248 1h6m173 0h6m5 0h6m5 0h6m82 0h6m-417 2h6m92 0h6m235 0h6m-404 1h6m114 0h6m25 0h6m233 0h6m38 0h6m-230 2h6m32 0h6m13 0h6m102 0h6m-311 1h6m-41 1h6m103 0h6m239 0h6m-264 1h6m69 0h6m76 0h6m15 0h6m60 0h6m-298 1h6m63 0h6m271 0h6m-329 1h6m267 0h6m60 0h6m-1 0h6m-231 1h6m27 0h6m24 0h6m72 0h6m-1 0h6m59 1h6m-547 1h6m218 0h6m131 0h6m61 0h6m-525 1h6m132 1h6m466 0h6m14 0h6m1 0h6m-248 1h6m25 0h6m207 0h6m17 0h6m24 0h6m-28 1h6m-107 1h6m30 0h6m58 0h6m34 0h6m-452 1h6m202 1h6m-340 1h6m211 0h6m251 0h6m87 0h6m-672 1h6m80 0h6m356 0h6m115 0h6m-258 1h6m50 0h6m0 0h6m4 0h6m33 0h6m213 0h6m-436 1h6m41 0h6m202 0h6m144 0h6m-611 1h6m180 0h6m331 0h6m4 0h6m95 0h6m-263 1h6m134 1h6m7 1h6m4 0h6m6 0h6m-308 1h6m28 0h6m23 0h6m131 0h6m192 0h6m-484 1h6m121 0h6m19 0h6m203 0h6m-290 1h6m-26 1h6m208 0h6m186 1h6m0 0h6m-519 1h6m96 0h6m122 0h6m300 0h6m-165 1h6m-383 1h6m-4 0h6m327 0h6m-279 1h6m357 0h6m1 0h6m2 0h6m-584 1h6m140 0h6m27 0h6m10 0h6m4 0h6m33 0h6m325 0h6m-304 1h6m9 0h6m-94 1h6m29 0h6m251 1h6m-345 1h6m17 0h6m304 0h6m191 0h6m-670 1h6m93 0h6m476 0h6m-467 1h6m-5 0h6m84 0h6m2 0h6m185 0h6m-263 1h6m-4 0h6m70 0h6m348 1h6m-564 2h6m79 0h6m344 0h6m94 0h6m-533 1h6m81 0h6m27 0h6m23 0h6m13 0h6m17 0h6m49 0h6m-207 1h6m31 0h6m33 0h6m194 0h6m213 0h6m38 0h6m-484 1h6m51 0h6m44 0h6m123 0h6m-77 1h6m42 0h6m197 0h6m-468 2h6m43 0h6m-1 0h6m8 0h6m23 0h6m14 0h6m97 0h6m33 0h6m155 0h6m21 0h6m11 0h6m5 0h6m-544 1h6m84 0h6m457 0h6m-607 1h6m37 0h6m60 0h6m142 0h6m84 0h6m52 0h6m-370 1h6m21 0h6m59 0h6m431 0h6m1 0h6m-404 1h6m27 0h6m16 0h6m49 0h6m281 0h6m10 0h6m33 0h6m-355 1h6m50 0h6m173 0h6m50 0h6m9 0h6m41 0h6m-359 1h6m319 0h6m-442 1h6m150 0h6m-166 1h6m432 0h6m37 0h6m-21 1h6m-473 1h6m16 0h6m22 0h6m67 0h6m278 0h6m-3 0h6m-6 0h6m-321 1h6m294 0h6m84 0h6m-597 2h6m50 0h6m437 0h6m-379 1h6m-3 0h6m77 0h6m240 0h6m37 0h6m30 0h6m-450 1h6m-3 0h6m152 0h6m254 0h6m-568 1h6m19 0h6m24 0h6m108 0h6m49 0h6m312 0h6m-559 1h6m194 0h6m-2 0h6m258 0h6m44 0h6m19 0h6m-368 1h6m76 0h6m48 0h6m250 0h6m79 0h6m-579 1h6m29 0h6m126 0h6m3 0h6m316 0h6m56 0h6m-605 1h6m31 0h6m24 0h6m133 0h6m340 0h6m-355 1h6m15 0h6m225 0h6m73 0h6m-1 0h6m-547 1h6m66 0h6m78 1h6m308 0h6m-355 1h6m392 0h6m11 0h6m-361 1h6m19 0h6m240 0h6m113 0h6m-1 0h6m-6 0h6m36 0h6m-572 1h6m-42 1h6m157 0h6m111 0h6m260 0h6m-412 1h6m281 0h6m39 0h6m-418 1h6m217 0h6m219 0h6m-507 1h6m55 0h6m11 0h6m57 0h6m372 0h6m8 0h6m-398 1h6m4 0h6m8 0h6m6 0h6m53 0h6m278 0h6m30 0h6m28 0h6m-590 1h6m120 0h6m50 0h6m242 0h6m-591 1h6m223 0h6m50 0h6m12 0h6m76 0h6m170 0h6m-327 1h6m122 0h6m251 0h6m-386 1h6m36 0h6m72 0h6m56 0h6m184 0h6m-517 1h6m197 0h6m84 0h6m185 0h6m89 0h6m-575 2h6m73 0h6m57 0h6m-3 0h6m71 0h6m332 0h6m-539 1h6m26 0h6m14 0h6m61 0h6m43 0h6m33 0h6m-1 0h6m-225 1h6m25 0h6m15 0h6m139 0h6m346 0h6m16 0h6m-334 1h6m273 0h6m-306 1h6m87 0h6m105 0h6m-297 1h6m12 0h6m106 0h6m235 0h6m10 0h6m28 0h6m-777 1h6m193 0h6m115 0h6m63 0h6m14 0h6m283 0h6m-510 1h6m47 0h6m119 0h6m4 0h6m4 0h6m289 1h6m-403 1h6m58 0h6m-4 0h6m342 0h6m11 0h6m-622 1h6m193 0h6m14 0h6m332 0h6m36 0h6m-613 1h6m87 0h6m35 0h6m121 0h6m-122 1h6m229 0h6m197 0h6m47 0h6m94 0h6m-591 1h6m34 0h6m113 0h6m305 0h6m39 0h6m-598 1h6m124 0h6m69 0h6m89 0h6m143 0h6m126 0h6m24 0h6m-570 1h6m96 0h6m43 0h6m9 0h6m45 0h6m258 0h6m-428 1h6m388 0h6m101 0h6m3 0h6m-557 1h6m142 0h6m372 0h6m-605 1h6m266 0h6m225 0h6m-334 1h6m-3 0h6m362 0h6m76 0h6m-627 1h6m26 0h6m188 0h6m-2 0h6m23 0h6m257 0h6m0 0h6m1 0h6m30 0h6m19 0h6m-406 1h6m41 0h6m31 0h6m281 0h6m62 0h6m-557 1h6m-6 0h6m88 0h6m34 0h6m319 0h6m-452 1h6m69 0h6m-27 1h6m145 0h6m237 0h6m49 0h6m-552 1h6m129 0h6m57 0h6m-231 1h6m109 0h6m447 0h6m-517 1h6m12 0h6m-4 0h6m120 0h6m-207 1h6m5 0h6m17 0h6m25 0h6m146 0h6m246 0h6m101 0h6m-523 1h6m18 0h6m455 0h6m-553 1h6m81 0h6m218 0h6m177 0h6m47 0h6m-527 1h6m124 0h6m28 0h6m35 0h6m221 0h6m32 0h6m34 0h6m-563 1h6m337 0h6m135 0h6m-360 1h6m9 0h6m101 0h6m60 0h6m139 0h6m58 0h6m102 0h6m-629 1h6m632 0h6m-561 1h6m39 0h6m43 0h6m410 0h6m-485 1h6m67 0h6m258 0h6m48 0h6m41 0h6m27 0h6m-566 1h6m42 0h6m131 0h6m54 0h6m34 0h6m280 0h6m-636 1h6m155 0h6m8 0h6m34 0h6m-76 1h6m-58 1h6m496 0h6m39 0h6m-621 1h6m58 0h6m71 0h6m57 0h6m64 0h6m-168 1h6m62 0h6m361 0h6m-460 1h6m93 0h6m211 0h6m28 0h6m139 0h6m62 0h6m-432 1h6m355 0h6m-631 1h6m142 0h6m12 0h6m19 0h6m20 0h6m12 0h6m-93 1h6m430 0h6m-2 0h6m83 0h6m-600 1h6m85 0h6m0 0h6m45 0h6m125 0h6m270 0h6m3 0h6m-86 1h6m-521 1h6m33 0h6m139 0h6m419 0h6m-672 1h6m198 0h6m69 0h6m310 0h6m4 0h6m-461 1h6m118 0h6m314 0h6m-549 1h6m90 0h6m21 0h6m52 0h6m119 0h6m154 0h6m144 0h6m72 0h6m-676 1h6m20 0h6m209 0h6m-55 1h6m-150 1h6m-1 0h6m65 0h6m361 0h6m-474 1h6m31 0h6m113 0h6m27 0h6m352 0h6m-88 1h6m-653 1h6m607 0h6m65 0h6m-376 1h6m-53 1h6m406 0h6m-331 1h6m-121 1h6m136 0h6m-2 0h6m-286 1h6m13 0h6m345 0h6m-235 1h6m114 0h6m4 0h6m252 0h6m-354 2h6m403 0h6m26 0h6m40 0h6m-800 1h6m318 1h6m104 0h6m239 0h6m-530 1h6m496 0h6m93 0h6m-494 1h6m1 0h6m5 0h6m456 0h6m-37 1h6m-465 2h6m37 0h6m400 0h6m-492 1h6m3 0h6m99 1h6m6 0h6m279 1h6m-2 0h6m-399 3h6m-1 0h6m-2 1h6m67 0h6m-103 1h6m-67 1h6m173 0h6m309 0h6m1 0h6m-259 1h6m251 0h6m2 1h6m69 0h6m-464 1h6m0 0h6m-167 1h6m570 0h6m-531 1h6m85 0h6m435 0h6m-67 1h6m87 0h6m-603 1h6m41 0h6m432 0h6m-389 1h6m378 0h6m0 0h6m108 0h6m-565 1h6m469 0h6m-458 1h6m509 0h6m-381 1h6m304 0h6m-468 1h6m7 0h6m34 2h6m59 0h6m370 0h6m-440 1h6m-99 1h6m102 0h6m128 1h6m256 0h6m-522 1h6m462 0h6m11 0h6m24 0h6m-464 1h6m479 0h6m-529 1h6m492 0h6m-504 1h6m480 1h6m-91 1h6m6 0h6m40 1h6m48 0h6m-14 2h6m-511 1h6m182 0h6m326 0h6m65 0h6m-343 1h6m313 0h6m-55 1h6m-100 1h6m-344 4h6m312 1h6m-401 2h6m150 2h6m421 0h6m-546 2h6m-55 1h6m120 2h6m7 2h6m419 3h6m-472 6h6m-72 1h6m468 5h6m28 3h6m-469 2h6m35 2h6m292 7h6m73 11h6m-63 2h6m39 8h6m-40 3h6m-312 2h6m346 5h6m-81 4h6m9 17h6" stroke="#000" stroke-width="6" stroke-opacity="0.44" fill="none"/>
<path transform="scale(0.1)" d="M3212 427h6m379 142h6m-46 16h6m-41 13h6m-2 0h6m-23 11h6m18 3h6m30 0h6m61 7h6m-9 3h6m0 2h6m-11 2h6m-177 2h6m-87 2h6m8 2h6m144 0h6m-161 1h6m309 3h6m-335 1h6m40 0h6m235 2h6m-309 2h6m26 0h6m47 0h6m67 0h6m77 0h6m-236 1h6m283 2h6m-137 1h6m-2 0h6m40 0h6m-202 1h6m105 0h6m-109 1h6m-4 0h6m199 1h6m47 0h6m-298 1h6m7 1h6m315 0h6m-280 1h6m24 1h6m-77 1h6m205 0h6m-238 2h6m-37 2h6m188 1h6m114 1h6m-284 4h6m55 0h6m2 0h6m30 1h6m131 0h6m-193 1h6m220 1h6m36 1h6m-215 1h6m-165 2h6m145 0h6m-140 1h6m48 0h6m158 0h6m13 0h6m-98 2h6m-142 1h6m63 0h6m27 0h6m134 2h6m-274 1h6m53 0h6m133 0h6m133 1h6m-337 1h6m13 0h6m70 1h6m183 0h6m-135 1h6m34 0h6m161 1h6m-344 1h6m74 1h6m134 3h6m-204 2h6m80 0h6m105 0h6m-86 2h6m-2 0h6m-30 1h6m-188 1h6m210 0h6m-185 1h6m12 0h6m-44 3h6m167 1h6m-182 1h6m138 1h6m44 1h6m85 0h6m-280 1h6m66 0h6m133 0h6m-154 1h6m20 2h6m-24 1h6m9 0h6m96 1h6m-177 1h6m235 0h6m-42 1h6m79 0h6m-175 2h6m76 0h6m-235 1h6m78 0h6m16 0h6m0 1h6m-56 1h6m-60 1h6m153 0h6m-196 1h6m138 0h6m108 0h6m-302 1h6m23 0h6m137 0h6m79 0h6m-124 1h6m33 0h6m103 0h6m30 0h6m-236 2h6m113 0h6m-149 1h6m243 0h6m-176 1h6m40 0h6m149 0h6m-191 1h6m40 0h6m92 0h6m-110 1h6m11 0h6m-174 1h6m105 0h6m-3 0h6m-6 0h6m85 0h6m65 0h6m-32 1h6m-223 1h6m71 0h6m14 0h6m140 0h6m5 0h6m-359 1h6m58 0h6m98 0h6m-3 0h6m33 0h6m-4 0h6m106 1h6m-284 1h6m152 0h6m32 0h6m-88 1h6m1 0h6m132 0h6m-91 3h6m53 0h6m26 0h6m-222 1h6m267 0h6m-38 1h6m-217 1h6m79 0h6m126 0h6m15 0h6m-225 1h6m28 0h6m-3 2h6m8 0h6m78 0h6m25 0h6m-183 1h6m84 0h6m83 0h6m-226 1h6m44 0h6m134 0h6m-5 0h6m6 0h6m-173 1h6m10 0h6m6 0h6m127 0h6m90 0h6m-121 1h6m56 0h6m-152 1h6m87 0h6m28 0h6m-260 1h6m155 1h6m105 0h6m92 0h6m-311 1h6m70 0h6m20 0h6m-211 1h6m81 0h6m12 0h6m19 0h6m-2 0h6m129 0h6m0 0h6m-267 1h6m241 0h6m-239 1h6m25 0h6m197 0h6m-73 1h6m-2 0h6m-6 0h6m62 0h6m9 0h6m-223 1h6m-2 1h6m152 0h6m-3 0h6m-16 1h6m-47 1h6m19 0h6m53 0h6m-196 1h6m256 0h6m-202 1h6m-2 0h6m90 0h6m86 0h6m-281 1h6m81 0h6m131 0h6m-245 1h6m165 1h6m48 0h6m57 0h6m-294 1h6m102 0h6m128 0h6m-285 1h6m101 0h6m25 1h6m79 0h6m15 0h6m7 0h6m96 0h6m-350 1h6m135 0h6m219 0h6m-312 1h6m60 0h6m193 0h6m-286 1h6m43 0h6m134 0h6m9 0h6m19 0h6m-196 1h6m116 0h6m-103 1h6m32 0h6m108 0h6m8 0h6m-188 1h6m67 0h6m-454 1h6m317 0h6m53 0h6m177 0h6m-6 0h6m-268 1h6m140 0h6m46 1h6m-169 1h6m27 0h6m54 0h6m100 0h6m-8 1h6m0 0h6m-3 0h6m14 0h6m-105 1h6m14 0h6m-5 0h6m90 0h6m-291 1h6m75 0h6m154 0h6m-81 1h6m79 0h6m-141 1h6m139 0h6m-4 1h6m0 1h6m-36 1h6m-244 1h6m19 0h6m28 0h6m15 0h6m78 0h6m52 0h6m24 0h6m-204 2h6m179 0h6m-149 1h6m202 0h6m-474 1h6m414 0h6m-371 1h6m218 0h6m37 0h6m38 0h6m67 0h6m-1 0h6m1 1h6m-56 1h6m25 0h6m-269 1h6m15 0h6m177 0h6m-5 0h6m2 0h6m-269 1h6m44 0h6m34 0h6m145 0h6m42 0h6m-4 0h6m1 0h6m48 0h6m-366 1h6m278 0h6m4 0h6m-2 0h6m-193 1h6m106 1h6m68 0h6m51 0h6m-191 1h6m133 0h6m-402 1h6m34 0h6m387 0h6m-229 1h6m116 0h6m85 0h6m89 0h6m-290 1h6m36 0h6m122 0h6m45 0h6m10 0h6m-443 1h6m222 0h6m-2 0h6m-92 2h6m111 0h6m-120 1h6m-45 1h6m91 1h6m119 0h6m18 0h6m30 0h6m-66 1h6m17 0h6m-2 0h6m4 0h6m55 0h6m-501 1h6m143 0h6m73 0h6m-183 1h6m179 0h6m84 0h6m-161 1h6m30 0h6m100 0h6m-182 1h6m214 0h6m17 0h6m-5 0h6m-294 1h6m1 0h6m275 0h6m38 0h6m2 0h6m13 0h6m-167 1h6m62 0h6m59 0h6m-20 1h6m1 0h6m-184 1h6m173 0h6m40 0h6m-79 1h6m35 0h6m-211 1h6m-2 0h6m181 1h6m-381 1h6m354 0h6m61 0h6m-5 0h6m-578 1h6m41 0h6m272 0h6m135 0h6m16 0h6m54 0h6m-153 3h6m152 0h6m-417 1h6m355 0h6m83 0h6m-381 1h6m303 0h6m3 0h6m-215 1h6m193 0h6m23 0h6m-201 1h6m136 0h6m55 0h6m-392 1h6m176 0h6m27 0h6m110 0h6m-3 0h6m4 0h6m18 0h6m119 0h6m-243 1h6m196 0h6m-362 1h6m57 0h6m199 0h6m-173 1h6m239 0h6m-311 1h6m102 0h6m-22 1h6m10 0h6m-160 1h6m14 0h6m110 0h6m58 0h6m62 0h6m29 0h6m-307 1h6m9 0h6m122 0h6m112 0h6m39 0h6m-155 1h6m80 0h6m-63 1h6m76 0h6m-303 1h6m229 1h6m-2 0h6m47 0h6m-293 1h6m101 0h6m-183 1h6m166 0h6m259 0h6m-344 1h6m37 0h6m14 0h6m158 0h6m51 0h6m80 0h6m-374 1h6m89 0h6m149 0h6m10 0h6m17 0h6m-446 1h6m146 0h6m60 0h6m31 0h6m50 0h6m46 0h6m62 0h6m-313 1h6m129 0h6m10 0h6m-301 1h6m3 0h6m309 0h6m65 0h6m-281 1h6m181 0h6m-257 1h6m194 0h6m27 0h6m8 0h6m174 0h6m-425 1h6m94 0h6m-16 1h6m282 0h6m-556 1h6m267 0h6m256 0h6m42 0h6m-477 1h6m156 0h6m126 0h6m63 0h6m81 0h6m-324 1h6m-123 1h6m6 0h6m31 0h6m140 1h6m-23 1h6m73 0h6m28 0h6m-180 1h6m264 0h6m-335 1h6m120 0h6m153 0h6m-169 1h6m46 0h6m62 0h6m111 0h6m58 0h6m-495 1h6m47 0h6m273 0h6m-94 1h6m198 0h6m-579 1h6m125 0h6m73 0h6m116 0h6m63 0h6m-215 1h6m54 0h6m49 0h6m2 0h6m217 0h6m-67 1h6m-333 1h6m359 0h6m48 0h6m-276 1h6m60 0h6m204 0h6m2 0h6m58 0h6m-679 1h6m353 0h6m202 0h6m-245 1h6m27 0h6m-3 0h6m38 0h6m183 0h6m-432 1h6m265 0h6m30 0h6m87 0h6m-202 1h6m139 1h6m-321 1h6m200 0h6m130 0h6m11 0h6m16 0h6m-6 0h6m43 0h6m-499 1h6m339 0h6m-353 2h6m223 0h6m-46 1h6m55 0h6m205 0h6m-412 1h6m80 0h6m76 0h6m212 0h6m-315 1h6m280 0h6m-392 1h6m47 0h6m56 0h6m38 0h6m254 0h6m-572 1h6m148 0h6m266 0h6m-136 1h6m-143 1h6m30 0h6m30 0h6m1 0h6m24 0h6m223 0h6m82 0h6m31 0h6m-614 1h6m121 0h6m71 0h6m240 0h6m103 0h6m7 0h6m43 0h6m-240 1h6m116 0h6m41 0h6m-4 0h6m18 0h6m51 0h6m-631 1h6m152 0h6m380 0h6m-326 1h6m137 0h6m216 0h6m59 0h6m-153 1h6m-487 1h6m37 0h6m50 0h6m28 0h6m107 0h6m165 1h6m41 0h6m8 0h6m24 0h6m-286 1h6m31 1h6m199 0h6m49 0h6m-328 1h6m-184 2h6m248 0h6m266 0h6m-355 1h6m39 0h6m250 0h6m29 0h6m-276 1h6m174 0h6m23 0h6m-322 1h6m59 0h6m31 0h6m-93 1h6m-68 1h6m-52 1h6m311 0h6m80 0h6m57 0h6m-432 1h6m55 0h6m368 0h6m-518 1h6m44 0h6m88 0h6m116 0h6m220 0h6m56 0h6m-502 1h6m4 0h6m27 0h6m422 0h6m-437 1h6m16 0h6m351 0h6m7 0h6m-288 1h6m185 0h6m1 0h6m51 0h6m17 0h6m59 0h6m-1 1h6m-490 1h6m-177 1h6m115 0h6m95 0h6m246 0h6m83 0h6m64 0h6m-377 1h6m53 0h6m230 0h6m44 0h6m-394 2h6m3 0h6m48 0h6m-75 1h6m169 0h6m131 0h6m37 0h6m28 0h6m42 0h6m-393 1h6m129 0h6m141 0h6m-514 1h6m93 0h6m-4 0h6m156 0h6m291 0h6m8 0h6m-563 1h6m503 0h6m88 0h6m24 0h6m-506 1h6m395 0h6m25 0h6m-387 1h6m-59 1h6m128 0h6m163 0h6m-328 1h6m59 0h6m213 0h6m105 0h6m-485 1h6m71 0h6m111 0h6m20 0h6m57 0h6m-54 1h6m237 0h6m-291 1h6m243 0h6m26 0h6m54 0h6m-389 1h6m25 0h6m242 0h6m61 0h6m-475 1h6m469 0h6m13 0h6m0 0h6m-512 1h6m490 0h6m81 0h6m-504 1h6m370 0h6m-274 1h6m11 0h6m245 0h6m32 0h6m-350 1h6m24 0h6m319 0h6m-519 1h6m-3 0h6m81 0h6m320 0h6m6 0h6m4 0h6m-487 1h6m115 0h6m43 0h6m50 0h6m-165 1h6m98 0h6m53 0h6m23 0h6m228 0h6m50 0h6m1 0h6m-484 1h6m-4 0h6m50 0h6m19 0h6m66 0h6m-333 1h6m190 0h6m110 0h6m259 0h6m70 0h6m-501 1h6m33 0h6m67 0h6m187 0h6m95 0h6m23 0h6m-561 1h6m118 0h6m103 0h6m261 0h6m81 0h6m-444 1h6m118 0h6m253 0h6m6 0h6m-283 1h6m19 0h6m-5 0h6m239 0h6m85 0h6m-453 1h6m10 0h6m286 0h6m126 0h6m-623 1h6m69 0h6m12 0h6m106 0h6m339 0h6m-584 1h6m182 0h6m20 0h6m86 0h6m99 0h6m85 0h6m40 0h6m24 0h6m1 0h6m10 0h6m70 0h6m-557 1h6m74 0h6m130 0h6m217 0h6m33 0h6m-498 1h6m1 0h6m13 0h6m99 0h6m29 0h6m309 0h6m-398 1h6m227 0h6m159 0h6m13 0h6m18 0h6m85 0h6m-642 1h6m-2 0h6m23 0h6m31 0h6m66 0h6m14 0h6m128 0h6m143 0h6m20 0h6m143 0h6m-635 1h6m11 0h6m48 0h6m25 0h6m72 0h6m409 0h6m-564 1h6m152 0h6m43 0h6m168 0h6m-252 1h6m379 0h6m-558 1h6m-4 0h6m77 0h6m143 0h6m-256 2h6m73 0h6m61 0h6m9 0h6m59 0h6m0 0h6m-272 2h6m658 0h6m-500 1h6m191 0h6m100 0h6m49 0h6m40 0h6m34 0h6m-517 1h6m34 0h6m13 0h6m131 0h6m264 0h6m-189 2h6m153 0h6m-464 1h6m423 0h6m-397 1h6m120 0h6m0 0h6m226 0h6m91 0h6m58 0h6m-703 1h6m143 0h6m143 0h6m24 0h6m221 0h6m80 0h6m72 0h6m-737 1h6m62 0h6m46 0h6m465 0h6m-5 0h6m13 0h6m-480 1h6m152 0h6m-181 1h6m56 0h6m15 0h6m104 0h6m34 0h6m3 0h6m221 1h6m50 0h6m0 0h6m9 0h6m-379 1h6m343 0h6m-559 1h6m60 0h6m16 0h6m12 0h6m175 0h6m311 0h6m-528 1h6m85 0h6m3 0h6m204 0h6m-375 1h6m67 0h6m14 0h6m2 0h6m114 0h6m222 0h6m-410 1h6m43 0h6m32 0h6m386 0h6m-3 0h6m-51 1h6m-505 1h6m161 0h6m-1 0h6m28 0h6m93 0h6m155 0h6m24 0h6m19 0h6m-543 1h6m32 0h6m87 0h6m-5 0h6m22 0h6m20 0h6m6 0h6m373 0h6m-650 1h6m87 0h6m109 0h6m31 0h6m332 0h6m39 0h6m-607 1h6m101 0h6m-4 0h6m480 0h6m-510 1h6m464 0h6m-286 1h6m233 0h6m18 0h6m27 0h6m-356 1h6m170 0h6m159 0h6m20 0h6m-526 1h6m114 0h6m34 0h6m257 0h6m-474 1h6m107 0h6m9 0h6m60 0h6m25 0h6m351 0h6m-655 1h6m53 0h6m50 0h6m26 0h6m54 0h6m52 0h6m-219 1h6m172 0h6m10 0h6m301 0h6m44 0h6m99 0h6m-549 1h6m27 0h6m41 0h6m310 0h6m34 0h6m1 0h6m-517 1h6m154 0h6m30 0h6m265 0h6m55 0h6m-3 0h6m39 0h6m-536 1h6m345 0h6m100 0h6m-4 0h6m21 0h6m26 0h6m-485 1h6m-3 0h6m121 0h6m207 0h6m47 0h6m20 0h6m-475 1h6m3 0h6m64 0h6m29 0h6m290 0h6m24 0h6m-5 0h6m-4 0h6m-446 1h6m194 0h6m219 0h6m-447 1h6m8 0h6m27 0h6m138 0h6m325 0h6m-677 1h6m189 0h6m60 0h6m1 0h6m-309 1h6m189 0h6m47 0h6m50 0h6m30 0h6m-3 0h6m54 0h6m241 0h6m-332 1h6m372 0h6m-2 0h6m-485 1h6m-3 0h6m167 0h6m-281 1h6m136 0h6m386 1h6m-25 1h6m14 0h6m-459 1h6m10 0h6m93 0h6m255 0h6m-528 1h6m143 0h6m44 0h6m203 0h6m249 0h6m-382 1h6m19 0h6m321 0h6m-4 0h6m-318 1h6m78 0h6m184 0h6m-516 1h6m9 0h6m46 0h6m46 0h6m18 0h6m41 0h6m-1 0h6m260 0h6m-467 1h6m72 0h6m10 0h6m69 0h6m23 0h6m38 0h6m-345 1h6m308 0h6m212 0h6m83 0h6m24 0h6m-149 1h6m17 0h6m127 0h6m-444 1h6m282 0h6m-374 1h6m6 0h6m116 0h6m116 0h6m75 0h6m69 0h6m36 1h6m-582 1h6m647 0h6m-590 1h6m6 0h6m120 0h6m49 0h6m25 1h6m-70 1h6m53 0h6m307 0h6m-410 1h6m161 0h6m191 0h6m-534 2h6m166 0h6m9 0h6m-97 1h6m32 0h6m44 1h6m1 0h6m402 0h6m-574 1h6m144 0h6m378 0h6m-453 1h6m2 0h6m411 0h6m14 0h6m22 0h6m-685 1h6m261 0h6m389 0h6m51 0h6m-529 1h6m32 0h6m118 0h6m21 0h6m241 0h6m-564 1h6m87 0h6m33 0h6m126 0h6m279 1h6m-450 1h6m200 0h6m233 0h6m67 0h6m-2 0h6m-489 1h6m45 1h6m212 0h6m0 0h6m111 0h6m-407 1h6m423 0h6m-500 1h6m128 0h6m13 0h6m284 0h6m38 0h6m11 0h6m-565 1h6m592 0h6m18 0h6m-3 0h6m-529 1h6m205 0h6m-291 1h6m58 0h6m2 0h6m99 0h6m-49 1h6m48 0h6m-17 1h6m-86 2h6m426 0h6m-534 1h6m96 0h6m68 0h6m393 0h6m-457 1h6m-25 1h6m46 0h6m325 0h6m84 0h6m-5 0h6m-532 1h6m447 0h6m-127 1h6m254 1h6m-700 1h6m73 0h6m499 0h6m30 3h6m2 0h6m-576 1h6m519 0h6m-75 1h6m69 0h6m56 1h6m-440 1h6m279 0h6m-185 1h6m259 0h6m-109 1h6m-133 1h6m-519 1h6m435 0h6m-331 2h6m218 0h6m329 0h6m69 0h6m91 0h6m-183 1h6m87 0h6m-31 1h6m86 0h6m-508 1h6m-19 3h6m70 0h6m-92 2h6m144 0h6m185 1h6m-5 0h6m-192 1h6m226 1h6m2 0h6m-5 0h6m-487 1h6m144 0h6m125 0h6m223 0h6m41 0h6m-141 1h6m49 0h6m-472 1h6m533 0h6m-546 3h6m143 3h6m-201 2h6m212 1h6m-350 1h6m716 1h6m-17 3h6m-115 2h6m61 0h6m-3 3h6m-508 2h6m169 0h6m280 0h6m47 0h6m25 4h6m-380 2h6m248 0h6m115 7h6m-84 2h6m48 2h6m-21 2h6m-9 2h6m64 21h6m3 26h6m-433 26h6" stroke="#000" stroke-width="6" stroke-opacity="0.44" fill="none"/>
<path transform="scale(0.1)" d="M2929 340h6m126 135h6m100 1h6m439 48h6m-33 20h6m-21 13h6m7 15h6m40 1h6m-34 1h6m-31 1h6m53 6h6m-151 8h6m52 6h6m71 0h6m-180 3h6m66 5h6m84 11h6m26 4h6m-80 2h6m24 0h6m61 1h6m-54 3h6m-479 2h6m484 2h6m-39 1h6m-196 4h6m285 0h6m-349 2h6m221 1h6m-549 1h6m383 1h6m-87 1h6m52 1h6m180 0h6m48 0h6m-98 1h6m-229 2h6m263 0h6m-267 1h6m6 0h6m45 3h6m-1 0h6m-45 2h6m224 0h6m-155 1h6m-41 2h6m126 1h6m-89 2h6m85 0h6m-113 2h6m146 2h6m23 1h6m-38 1h6m-208 1h6m-45 1h6m223 0h6m-455 1h6m165 0h6m1 0h6m307 0h6m-63 1h6m-232 1h6m71 0h6m-97 1h6m204 0h6m-190 1h6m31 0h6m48 0h6m12 0h6m-354 1h6m306 0h6m212 0h6m-303 2h6m250 2h6m-199 1h6m62 0h6m29 1h6m-132 1h6m192 0h6m-195 1h6m158 2h6m-32 1h6m-123 3h6m26 1h6m55 0h6m-192 2h6m132 0h6m17 0h6m-120 1h6m161 0h6m-153 1h6m-100 1h6m72 0h6m-104 2h6m95 0h6m130 0h6m-378 1h6m196 0h6m114 0h6m15 0h6m-168 1h6m195 0h6m-4 1h6m-195 1h6m45 0h6m11 0h6m4 0h6m72 1h6m152 1h6m-492 1h6m185 1h6m64 1h6m-64 1h6m55 0h6m18 0h6m49 0h6m52 4h6m-642 1h6m334 0h6m76 0h6m1 1h6m76 0h6m-174 1h6m40 0h6m8 0h6m-63 1h6m196 1h6m21 0h6m-271 1h6m52 0h6m63 0h6m24 0h6m178 0h6m-64 1h6m27 0h6m-282 2h6m106 0h6m101 0h6m13 0h6m90 0h6m-260 1h6m160 0h6m-169 1h6m122 0h6m85 1h6m-135 1h6m-67 1h6m19 0h6m130 0h6m31 0h6m-226 1h6m120 0h6m-149 2h6m58 0h6m69 0h6m-256 1h6m138 0h6m124 0h6m47 0h6m-353 3h6m219 0h6m-189 1h6m216 0h6m53 0h6m-35 1h6m-2 0h6m-208 1h6m135 0h6m17 0h6m-151 1h6m199 0h6m-277 1h6m138 0h6m112 0h6m65 0h6m-179 1h6m80 0h6m3 0h6m-212 1h6m73 0h6m72 0h6m-203 1h6m96 0h6m55 0h6m55 0h6m29 0h6m-3 0h6m-251 1h6m98 0h6m38 0h6m152 0h6m-384 1h6m234 0h6m44 0h6m38 0h6m17 0h6m-305 1h6m-6 0h6m57 0h6m25 0h6m7 0h6m-32 3h6m137 0h6m69 1h6m-185 1h6m-64 1h6m44 0h6m132 0h6m8 0h6m-286 2h6m117 0h6m64 0h6m-76 1h6m55 0h6m69 0h6m41 1h6m-241 1h6m86 0h6m93 0h6m51 0h6m-280 1h6m193 0h6m-84 1h6m-17 1h6m-154 1h6m24 0h6m19 0h6m88 0h6m-86 1h6m-20 1h6m28 0h6m37 0h6m33 0h6m6 0h6m100 0h6m1 0h6m-276 1h6m170 0h6m0 0h6m-16 1h6m4 0h6m31 0h6m82 0h6m-277 1h6m81 0h6m59 0h6m109 0h6m-346 1h6m77 0h6m20 0h6m82 0h6m-2 0h6m21 0h6m36 0h6m-58 1h6m24 0h6m-169 1h6m82 0h6m14 0h6m71 0h6m15 0h6m-4 0h6m2 0h6m-100 1h6m68 0h6m-281 1h6m64 0h6m170 0h6m77 0h6m-183 1h6m31 0h6m29 0h6m8 0h6m14 0h6m-253 1h6m105 0h6m96 0h6m41 0h6m-248 1h6m34 0h6m0 0h6m64 0h6m11 0h6m105 0h6m-205 1h6m146 0h6m163 0h6m-358 1h6m92 0h6m13 0h6m-44 1h6m57 0h6m81 0h6m-26 1h6m5 0h6m-232 1h6m220 0h6m36 0h6m-148 1h6m34 0h6m-170 1h6m52 0h6m-1 0h6m160 0h6m-361 1h6m70 0h6m90 0h6m152 0h6m-1 0h6m71 0h6m-63 2h6m-109 1h6m74 0h6m-5 0h6m-211 1h6m72 0h6m31 0h6m98 0h6m-183 1h6m48 0h6m132 0h6m67 1h6m-346 1h6m203 0h6m23 0h6m-313 1h6m131 0h6m11 0h6m107 0h6m4 0h6m-289 1h6m170 0h6m140 0h6m48 0h6m-174 1h6m87 0h6m16 0h6m-259 1h6m103 0h6m101 0h6m-33 1h6m38 0h6m-5 0h6m-178 1h6m47 0h6m-50 1h6m119 0h6m-172 1h6m83 0h6m132 0h6m77 0h6m-38 1h6m-296 1h6m160 0h6m-273 1h6m150 0h6m25 0h6m-89 1h6m63 0h6m194 0h6m-272 1h6m43 0h6m6 0h6m118 0h6m-255 1h6m147 0h6m1 0h6m27 0h6m78 0h6m-3 0h6m27 0h6m6 0h6m-282 1h6m61 0h6m180 0h6m42 0h6m-12 1h6m-475 1h6m313 0h6m105 0h6m-168 1h6m64 0h6m106 0h6m-166 1h6m79 0h6m62 0h6m-3 0h6m-1 0h6m-275 1h6m9 0h6m228 0h6m154 0h6m-325 1h6m3 0h6m190 0h6m-210 1h6m139 0h6m-208 1h6m39 0h6m105 0h6m90 1h6m-199 1h6m133 0h6m-272 1h6m311 1h6m-235 1h6m155 0h6m-171 1h6m102 0h6m85 0h6m-138 1h6m3 0h6m-13 1h6m-13 1h6m236 0h6m-332 1h6m11 0h6m19 0h6m80 1h6m44 0h6m79 0h6m-260 1h6m61 2h6m144 0h6m-166 1h6m26 0h6m-3 0h6m69 0h6m-171 2h6m167 0h6m11 0h6m-182 1h6m22 0h6m24 0h6m24 0h6m31 0h6m71 0h6m-238 1h6m50 1h6m-5 0h6m-30 2h6m39 0h6m90 0h6m-2 0h6m47 0h6m-1 0h6m-4 0h6m16 0h6m25 0h6m-413 1h6m73 0h6m120 0h6m72 0h6m117 0h6m-251 1h6m153 0h6m-353 1h6m20 0h6m115 0h6m157 0h6m168 1h6m-19 1h6m-287 1h6m54 0h6m18 0h6m131 0h6m-94 1h6m-494 1h6m279 0h6m-3 0h6m29 0h6m207 0h6m21 0h6m13 0h6m-395 1h6m89 0h6m258 0h6m-2 0h6m-166 1h6m35 0h6m56 0h6m22 0h6m-329 1h6m189 0h6m137 0h6m-170 1h6m77 0h6m-258 1h6m44 0h6m-11 1h6m83 0h6m122 0h6m59 0h6m-365 1h6m43 0h6m102 0h6m11 0h6m205 0h6m-191 2h6m72 0h6m-215 1h6m142 0h6m113 0h6m71 0h6m-462 1h6m127 0h6m259 0h6m-242 1h6m-196 1h6m147 0h6m33 0h6m26 0h6m1 0h6m54 0h6m141 0h6m-124 1h6m119 0h6m31 0h6m-334 1h6m10 0h6m79 0h6m76 0h6m-138 1h6m5 0h6m146 0h6m28 0h6m-1 0h6m37 0h6m-265 1h6m13 1h6m-213 1h6m151 0h6m26 0h6m47 0h6m124 0h6m48 0h6m-421 1h6m2 0h6m86 0h6m100 0h6m211 0h6m-217 1h6m171 0h6m32 0h6m-407 1h6m98 0h6m196 0h6m99 0h6m-331 1h6m154 0h6m18 0h6m118 0h6m3 0h6m7 0h6m-217 1h6m152 0h6m117 0h6m-465 1h6m106 0h6m104 0h6m235 0h6m-303 1h6m57 0h6m112 0h6m37 0h6m-158 1h6m69 0h6m-254 1h6m169 0h6m172 0h6m35 0h6m-457 1h6m270 0h6m40 0h6m-590 1h6m125 0h6m105 0h6m39 0h6m-6 0h6m307 0h6m-4 0h6m32 0h6m-240 1h6m-398 1h6m251 0h6m39 0h6m182 0h6m1 0h6m102 0h6m42 0h6m23 0h6m-513 1h6m49 0h6m71 0h6m65 0h6m88 0h6m184 0h6m-361 2h6m78 1h6m62 0h6m-182 1h6m214 0h6m-312 1h6m436 0h6m-193 1h6m-3 0h6m-408 1h6m-2 0h6m232 0h6m48 0h6m66 0h6m304 0h6m-455 1h6m310 0h6m-347 1h6m283 0h6m7 0h6m107 0h6m-430 1h6m65 0h6m117 0h6m152 0h6m9 1h6m-501 1h6m128 0h6m434 0h6m-378 1h6m125 0h6m106 0h6m-349 1h6m135 0h6m107 0h6m128 1h6m-494 1h6m130 0h6m-4 0h6m9 0h6m-2 0h6m125 0h6m300 0h6m-271 1h6m-73 1h6m345 0h6m-505 1h6m54 0h6m-103 1h6m8 0h6m-1 0h6m174 0h6m72 0h6m163 0h6m-3 0h6m-374 1h6m2 0h6m48 0h6m-35 1h6m2 0h6m-66 1h6m25 0h6m33 0h6m244 0h6m13 0h6m15 1h6m-117 2h6m114 0h6m-233 1h6m133 0h6m-233 1h6m85 0h6m181 0h6m-447 1h6m88 0h6m65 0h6m51 0h6m-160 1h6m30 0h6m119 0h6m199 0h6m111 0h6m-586 1h6m114 1h6m120 0h6m-167 2h6m7 0h6m56 0h6m1 0h6m-1 0h6m120 0h6m162 0h6m32 0h6m-440 1h6m532 0h6m-378 2h6m9 0h6m284 0h6m23 0h6m-584 1h6m519 0h6m19 0h6m-500 1h6m136 1h6m297 0h6m-438 2h6m429 0h6m-321 1h6m24 1h6m-356 1h6m273 0h6m86 0h6m-11 1h6m25 0h6m264 0h6m-3 0h6m72 0h6m-543 1h6m424 0h6m90 0h6m-165 1h6m-585 1h6m185 0h6m191 0h6m17 0h6m1 0h6m-175 1h6m161 0h6m293 0h6m-542 1h6m309 0h6m-218 1h6m62 0h6m21 0h6m58 0h6m207 0h6m22 0h6m-493 1h6m17 0h6m64 0h6m38 0h6m281 0h6m-471 1h6m166 0h6m-1 0h6m51 0h6m-180 1h6m15 0h6m7 0h6m1 0h6m268 0h6m41 0h6m25 0h6m15 0h6m-539 1h6m165 0h6m104 0h6m201 0h6m-387 1h6m41 0h6m277 0h6m91 0h6m58 0h6m-541 1h6m51 0h6m44 0h6m334 0h6m91 0h6m-474 1h6m114 0h6m274 0h6m-517 1h6m82 0h6m413 0h6m0 0h6m5 0h6m36 0h6m-4 0h6m18 0h6m-644 1h6m589 0h6m-458 1h6m15 0h6m59 0h6m-200 1h6m457 0h6m29 0h6m20 0h6m-323 1h6m75 0h6m207 0h6m50 0h6m-529 1h6m96 0h6m41 0h6m293 0h6m34 0h6m8 0h6m17 0h6m38 0h6m-293 1h6m216 0h6m16 0h6m-566 1h6m41 0h6m154 0h6m84 0h6m235 0h6m28 0h6m-456 1h6m5 0h6m34 0h6m-167 1h6m71 1h6m25 0h6m58 0h6m45 0h6m191 0h6m-281 1h6m361 0h6m11 0h6m-558 1h6m284 0h6m-305 1h6m486 0h6m38 0h6m-428 1h6m90 0h6m73 0h6m248 0h6m59 0h6m-473 1h6m133 0h6m203 0h6m115 0h6m6 1h6m-563 1h6m72 0h6m412 0h6m1 0h6m71 0h6m3 0h6m-570 1h6m157 0h6m226 0h6m116 0h6m12 0h6m-580 1h6m61 0h6m77 0h6m422 0h6m-605 1h6m128 0h6m14 0h6m313 0h6m-6 0h6m34 0h6m-467 1h6m455 0h6m27 0h6m-4 0h6m-577 1h6m255 0h6m177 0h6m-380 1h6m230 0h6m56 0h6m175 0h6m-378 1h6m211 0h6m98 0h6m-2 0h6m100 0h6m-520 1h6m116 0h6m5 0h6m-99 1h6m62 0h6m21 0h6m61 0h6m145 0h6m-397 1h6m8 0h6m503 0h6m7 0h6m45 0h6m-620 1h6m3 0h6m51 0h6m6 1h6m4 0h6m70 0h6m378 0h6m-549 1h6m32 0h6m199 0h6m144 0h6m112 0h6m-393 1h6m75 0h6m-153 1h6m91 0h6m391 0h6m-374 1h6m383 0h6m-529 1h6m438 0h6m-494 1h6m23 0h6m88 0h6m28 0h6m37 0h6m-171 1h6m108 0h6m13 0h6m110 0h6m277 0h6m-504 1h6m38 0h6m51 0h6m-133 1h6m44 1h6m346 0h6m28 0h6m149 0h6m-548 1h6m0 0h6m16 0h6m-95 1h6m60 0h6m59 0h6m46 0h6m39 0h6m298 0h6m39 0h6m-694 1h6m1 0h6m180 0h6m34 0h6m298 0h6m122 0h6m-664 1h6m10 0h6m128 0h6m36 0h6m439 0h6m-435 1h6m88 0h6m172 0h6m94 0h6m92 0h6m-535 1h6m43 0h6m438 0h6m-537 1h6m526 0h6m-502 1h6m37 0h6m450 0h6m-462 1h6m404 0h6m45 0h6m5 0h6m15 0h6m-661 1h6m164 0h6m355 0h6m4 0h6m44 0h6m-461 1h6m8 0h6m87 0h6m0 0h6m276 0h6m56 0h6m10 0h6m0 0h6m-480 1h6m8 0h6m101 0h6m183 0h6m122 0h6m-536 1h6m77 0h6m184 0h6m204 0h6m-488 1h6m34 0h6m126 0h6m250 0h6m54 0h6m50 0h6m-5 0h6m-587 1h6m33 0h6m116 0h6m84 0h6m335 0h6m-578 1h6m119 0h6m-119 1h6m188 0h6m108 0h6m185 0h6m59 0h6m7 0h6m-586 1h6m67 0h6m54 0h6m81 0h6m-288 1h6m136 0h6m164 0h6m281 0h6m-5 0h6m-6 0h6m-597 1h6m120 0h6m436 0h6m-509 1h6m65 0h6m118 0h6m288 0h6m-4 0h6m-26 1h6m1 0h6m37 0h6m-457 1h6m-5 0h6m24 0h6m38 0h6m3 0h6m87 0h6m309 0h6m-546 1h6m108 0h6m-126 1h6m19 0h6m120 0h6m92 0h6m194 0h6m23 0h6m-505 1h6m76 0h6m-226 1h6m18 0h6m534 0h6m59 0h6m-529 2h6m87 0h6m20 0h6m44 0h6m367 0h6m-432 1h6m404 0h6m91 0h6m-525 1h6m47 0h6m62 0h6m251 0h6m34 0h6m-3 0h6m-415 1h6m1 0h6m117 0h6m327 0h6m-505 1h6m154 0h6m263 0h6m10 0h6m-5 0h6m-9 1h6m29 0h6m18 0h6m-548 1h6m25 0h6m56 0h6m471 0h6m-602 1h6m491 0h6m-608 1h6m41 0h6m25 0h6m94 0h6m141 0h6m293 1h6m100 0h6m-708 1h6m138 0h6m91 0h6m62 0h6m244 0h6m19 0h6m-320 1h6m-2 0h6m-121 1h6m43 0h6m365 0h6m-448 1h6m99 0h6m284 0h6m54 0h6m31 0h6m-372 1h6m365 0h6m-554 1h6m33 0h6m380 0h6m-454 1h6m15 0h6m-4 0h6m44 0h6m385 0h6m92 0h6m-586 1h6m536 0h6m-2 0h6m-445 1h6m5 0h6m38 0h6m55 0h6m331 0h6m-449 2h6m349 0h6m-544 1h6m202 0h6m385 0h6m12 0h6m-420 1h6m37 0h6m42 0h6m339 0h6m-338 1h6m14 0h6m-309 1h6m103 0h6m491 0h6m-535 1h6m147 0h6m14 0h6m342 0h6m64 0h6m13 0h6m-634 1h6m247 0h6m-136 1h6m12 0h6m30 0h6m8 0h6m376 0h6m53 0h6m-682 1h6m96 0h6m2 0h6m310 0h6m33 0h6m42 0h6m37 0h6m62 0h6m-435 1h6m365 0h6m-3 0h6m-373 1h6m369 0h6m-630 1h6m439 0h6m164 0h6m-533 1h6m82 2h6m127 0h6m11 0h6m241 0h6m-354 1h6m4 0h6m1 0h6m58 0h6m277 0h6m-146 1h6m168 0h6m-483 1h6m16 0h6m381 0h6m34 0h6m-641 1h6m287 0h6m366 0h6m-527 1h6m17 0h6m202 1h6m254 0h6m7 0h6m-587 1h6m59 0h6m14 0h6m80 0h6m395 0h6m-486 1h6m8 0h6m289 0h6m189 0h6m-374 1h6m46 0h6m342 0h6m-509 1h6m44 0h6m-108 1h6m272 0h6m245 0h6m-527 1h6m17 0h6m385 0h6m-391 1h6m104 0h6m40 0h6m295 0h6m-328 1h6m113 0h6m-347 1h6m273 0h6m-231 1h6m82 0h6m439 0h6m-515 1h6m-3 0h6m439 0h6m-208 1h6m-151 2h6m362 0h6m-7 1h6m41 0h6m-516 1h6m236 0h6m227 1h6m64 0h6m-65 1h6m-257 1h6m-299 1h6m28 0h6m484 0h6m-596 2h6m371 0h6m242 0h6m-320 2h6m-72 1h6m278 0h6m-423 1h6m561 0h6m14 0h6m-478 1h6m362 0h6m-9 1h6m0 0h6m-425 2h6m435 0h6m-39 1h6m-524 2h6m566 2h6m-52 2h6m-473 1h6m222 2h6m301 0h6m-640 1h6m171 0h6m63 1h6m88 1h6m221 0h6m-513 1h6m475 1h6m-69 3h6m-464 1h6m544 1h6m-397 1h6m413 1h6m-419 5h6m-172 1h6m438 0h6m68 0h6m46 0h6m-560 4h6m486 1h6m-5 1h6m-349 4h6m-192 1h6m46 1h6m91 7h6m28 4h6m461 0h6m-65 2h6m-553 5h6m560 23h6" stroke="#000" stroke-width="6" stroke-opacity="0.44" fill="none"/>
<path transform="scale(0.1)" d="M3626 535h6m-84 14h6m-32 7h6m39 21h6m-10 11h6m40 0h6m-5 1h6m11 4h6m-282 10h6m279 0h6m9 5h6m-1 3h6m-20 10h6m-111 5h6m56 3h6m40 2h6m-228 2h6m-2 0h6m-53 3h6m35 1h6m190 2h6m-250 4h6m250 0h6m-31 1h6m-185 1h6m6 0h6m128 0h6m-189 2h6m237 0h6m-267 1h6m85 1h6m84 0h6m-196 1h6m234 0h6m-219 2h6m182 0h6m-178 2h6m-23 2h6m171 0h6m24 1h6m-257 2h6m49 0h6m-87 1h6m222 0h6m-138 2h6m-45 3h6m-23 1h6m129 0h6m-193 3h6m109 2h6m18 0h6m92 0h6m-239 1h6m80 0h6m-103 1h6m26 0h6m91 1h6m53 0h6m41 1h6m-207 2h6m249 0h6m-292 1h6m195 0h6m-192 1h6m246 0h6m-245 1h6m88 0h6m-116 4h6m120 0h6m185 0h6m4 1h6m-219 1h6m196 2h6m-281 1h6m137 0h6m-29 1h6m21 0h6m-65 1h6m-107 3h6m145 0h6m63 1h6m-191 1h6m14 0h6m308 1h6m-387 1h6m1 0h6m-235 1h6m175 1h6m173 0h6m60 0h6m-228 1h6m129 0h6m-119 1h6m283 0h6m-242 4h6m154 0h6m-211 1h6m78 0h6m40 0h6m-34 1h6m99 0h6m6 0h6m-53 2h6m-207 1h6m204 0h6m40 0h6m-184 1h6m-41 2h6m88 0h6m23 1h6m-152 1h6m112 0h6m15 0h6m63 0h6m-40 2h6m-118 1h6m136 0h6m2 0h6m-242 1h6m138 0h6m105 0h6m-177 1h6m86 0h6m44 1h6m-194 1h6m44 1h6m131 0h6m21 0h6m16 1h6m-213 1h6m7 0h6m-1 0h6m92 0h6m80 0h6m-203 1h6m12 0h6m-3 1h6m-132 1h6m40 0h6m232 0h6m-226 1h6m55 0h6m108 0h6m-126 1h6m29 0h6m-60 1h6m15 0h6m32 0h6m-2 0h6m-17 1h6m138 0h6m-188 1h6m139 0h6m-383 1h6m158 0h6m151 0h6m182 0h6m-169 1h6m22 0h6m-102 1h6m10 0h6m65 0h6m-250 1h6m55 0h6m62 0h6m39 0h6m-164 1h6m157 0h6m21 0h6m14 0h6m-112 1h6m195 0h6m-298 1h6m185 0h6m21 0h6m28 0h6m6 1h6m-184 1h6m-1 0h6m117 0h6m-44 1h6m-83 2h6m-27 1h6m39 0h6m99 0h6m-4 0h6m-1 2h6m-154 1h6m-5 0h6m36 0h6m22 0h6m8 0h6m24 0h6m22 0h6m-5 0h6m-331 1h6m353 0h6m-245 1h6m-5 0h6m130 0h6m100 0h6m-262 1h6m186 0h6m12 0h6m21 0h6m15 0h6m-288 1h6m19 0h6m95 0h6m163 0h6m-210 1h6m9 0h6m79 0h6m37 0h6m7 0h6m20 0h6m-198 1h6m126 0h6m17 0h6m-5 0h6m-229 1h6m13 0h6m1 0h6m44 0h6m197 0h6m-234 1h6m8 2h6m196 0h6m-127 1h6m102 0h6m10 0h6m-312 1h6m57 1h6m35 0h6m18 0h6m9 0h6m136 0h6m-293 1h6m49 0h6m77 0h6m62 0h6m112 0h6m-202 1h6m28 0h6m-41 1h6m82 0h6m25 0h6m-208 1h6m82 0h6m11 0h6m-65 1h6m147 0h6m-98 1h6m14 0h6m10 0h6m69 0h6m31 0h6m-4 0h6m-176 1h6m5 0h6m233 0h6m-83 1h6m-96 1h6m-73 1h6m78 0h6m-174 1h6m-58 1h6m20 0h6m2 0h6m124 0h6m10 0h6m37 0h6m6 0h6m67 0h6m-244 1h6m-3 0h6m1 0h6m79 0h6m10 0h6m66 0h6m2 0h6m87 0h6m-127 1h6m-278 2h6m23 0h6m54 0h6m2 0h6m65 0h6m124 0h6m-182 1h6m4 0h6m3 0h6m98 1h6m-136 1h6m-51 1h6m16 0h6m228 0h6m-216 1h6m87 0h6m33 0h6m47 0h6m-210 2h6m5 0h6m16 0h6m67 0h6m109 0h6m-345 1h6m75 0h6m147 1h6m-2 0h6m92 0h6m-269 1h6m117 0h6m16 0h6m-3 0h6m-6 0h6m138 0h6m-240 1h6m111 0h6m80 0h6m1 0h6m12 0h6m-401 1h6m54 0h6m85 0h6m17 0h6m217 0h6m-177 1h6m85 0h6m-6 0h6m-274 1h6m39 0h6m42 0h6m66 0h6m88 0h6m43 0h6m-266 1h6m240 0h6m-330 1h6m221 0h6m22 0h6m61 0h6m-164 1h6m-63 1h6m109 0h6m92 0h6m-123 1h6m132 0h6m-259 1h6m193 1h6m-5 0h6m-141 1h6m119 0h6m36 0h6m-140 1h6m7 0h6m80 0h6m9 0h6m21 0h6m-342 2h6m327 1h6m0 0h6m-320 1h6m146 0h6m39 0h6m-85 1h6m74 0h6m33 0h6m-193 1h6m6 0h6m46 1h6m28 0h6m51 0h6m51 0h6m6 0h6m-196 1h6m38 0h6m43 0h6m150 0h6m34 0h6m-289 1h6m27 0h6m120 0h6m74 0h6m5 0h6m-352 1h6m172 0h6m-19 1h6m1 0h6m149 0h6m-213 1h6m14 0h6m82 1h6m86 0h6m-5 0h6m34 0h6m31 0h6m-378 1h6m62 0h6m-129 1h6m37 0h6m230 0h6m-94 1h6m72 0h6m108 0h6m-4 0h6m-319 1h6m303 0h6m0 0h6m-202 1h6m134 0h6m-189 1h6m183 1h6m87 0h6m-464 1h6m96 0h6m79 1h6m115 0h6m115 0h6m-305 1h6m55 0h6m86 0h6m-151 1h6m3 0h6m21 0h6m111 0h6m32 0h6m67 0h6m-332 1h6m183 0h6m59 0h6m63 0h6m2 0h6m-105 1h6m49 0h6m-159 1h6m124 0h6m92 0h6m-111 1h6m107 0h6m-377 1h6m109 0h6m77 0h6m-286 1h6m303 0h6m-302 1h6m54 1h6m86 0h6m-134 1h6m50 0h6m95 0h6m26 0h6m47 0h6m136 0h6m1 0h6m-5 0h6m-261 1h6m43 0h6m17 0h6m52 0h6m109 0h6m-198 1h6m31 0h6m-336 1h6m351 0h6m23 0h6m-379 2h6m410 0h6m24 0h6m17 0h6m16 0h6m-247 1h6m211 0h6m-377 1h6m102 0h6m215 0h6m13 0h6m-209 1h6m28 0h6m274 0h6m-390 1h6m15 0h6m64 0h6m-216 1h6m264 0h6m23 0h6m15 0h6m65 0h6m-378 1h6m269 0h6m-168 1h6m191 0h6m-130 1h6m210 0h6m-125 1h6m-238 1h6m137 0h6m169 0h6m53 0h6m-552 1h6m185 0h6m8 0h6m125 0h6m139 0h6m-431 1h6m165 0h6m54 0h6m250 0h6m-510 1h6m120 0h6m56 0h6m56 0h6m150 0h6m49 0h6m-290 1h6m198 0h6m71 0h6m-312 1h6m84 0h6m105 0h6m86 1h6m-292 1h6m149 0h6m-276 1h6m47 0h6m65 0h6m-57 1h6m92 0h6m83 0h6m94 0h6m51 0h6m119 0h6m-335 1h6m202 0h6m26 0h6m-366 1h6m-73 1h6m204 1h6m201 0h6m-379 1h6m19 0h6m305 0h6m23 0h6m-303 1h6m107 0h6m142 0h6m-334 1h6m10 0h6m195 0h6m-108 1h6m19 0h6m23 0h6m-99 1h6m139 0h6m100 0h6m-203 1h6m20 0h6m23 0h6m-217 1h6m202 0h6m38 0h6m30 0h6m131 0h6m-183 1h6m153 0h6m-433 1h6m211 0h6m-1 0h6m-203 1h6m437 0h6m-460 1h6m41 0h6m318 0h6m37 0h6m-135 1h6m114 0h6m-365 1h6m73 0h6m107 0h6m200 0h6m-377 1h6m189 0h6m63 0h6m79 0h6m2 0h6m-469 1h6m121 0h6m266 0h6m53 0h6m-382 1h6m337 0h6m-446 1h6m52 0h6m9 0h6m287 0h6m81 0h6m-230 1h6m173 0h6m5 0h6m82 0h6m-516 1h6m168 0h6m277 0h6m-500 1h6m277 0h6m205 0h6m-78 2h6m-2 0h6m-461 1h6m178 0h6m76 0h6m205 0h6m1 0h6m11 0h6m14 0h6m-318 1h6m24 0h6m97 0h6m71 0h6m110 0h6m34 0h6m-373 1h6m116 0h6m-268 1h6m37 0h6m179 1h6m256 0h6m-409 1h6m-11 1h6m46 1h6m118 0h6m144 0h6m54 0h6m-299 1h6m-97 1h6m51 0h6m-118 2h6m5 0h6m172 0h6m240 0h6m-397 1h6m78 0h6m1 0h6m-214 1h6m38 0h6m63 0h6m17 0h6m39 0h6m315 0h6m-427 1h6m399 0h6m-371 1h6m-1 0h6m145 0h6m93 0h6m50 0h6m82 0h6m88 0h6m-558 1h6m47 0h6m-5 0h6m25 0h6m31 0h6m280 0h6m39 0h6m-59 2h6m70 0h6m-499 1h6m-3 0h6m11 0h6m-4 0h6m46 0h6m106 0h6m224 0h6m73 0h6m8 0h6m-531 1h6m77 0h6m-5 0h6m55 0h6m165 0h6m-358 1h6m108 0h6m24 1h6m34 0h6m303 0h6m-444 1h6m6 0h6m14 0h6m96 0h6m271 0h6m21 0h6m72 0h6m-394 1h6m2 0h6m76 0h6m213 0h6m-288 1h6m42 0h6m214 0h6m-599 1h6m306 0h6m273 0h6m-2 0h6m15 0h6m62 0h6m-463 1h6m384 0h6m5 0h6m-471 1h6m11 0h6m50 0h6m-194 1h6m64 0h6m17 0h6m153 0h6m370 0h6m-422 1h6m22 0h6m-76 1h6m198 0h6m180 0h6m-368 1h6m393 0h6m-516 1h6m121 0h6m32 0h6m-64 1h6m3 0h6m31 0h6m-6 0h6m14 0h6m309 0h6m6 0h6m-539 1h6m439 0h6m-261 1h6m13 0h6m93 0h6m-174 1h6m4 0h6m-6 0h6m74 0h6m251 0h6m38 0h6m-550 1h6m94 0h6m83 0h6m321 0h6m-333 1h6m335 0h6m-611 1h6m61 0h6m40 0h6m51 0h6m10 0h6m69 0h6m-5 0h6m104 0h6m-294 1h6m103 0h6m-3 0h6m81 0h6m15 0h6m297 0h6m-362 1h6m412 0h6m-503 1h6m29 0h6m35 0h6m280 0h6m101 0h6m21 0h6m-508 1h6m0 0h6m159 0h6m227 0h6m-545 1h6m517 0h6m-405 1h6m73 0h6m81 0h6m334 0h6m-263 1h6m-346 1h6m221 0h6m20 0h6m22 0h6m74 0h6m109 0h6m-352 1h6m504 0h6m-538 1h6m151 0h6m-277 1h6m75 0h6m334 0h6m22 0h6m-384 1h6m91 0h6m40 0h6m170 0h6m180 0h6m7 0h6m-636 1h6m95 0h6m11 0h6m52 0h6m13 0h6m101 0h6m62 0h6m38 0h6m218 0h6m77 0h6m-646 1h6m215 0h6m141 0h6m70 0h6m-619 1h6m137 0h6m89 0h6m-3 0h6m-144 1h6m150 0h6m127 0h6m-60 1h6m306 0h6m-448 1h6m6 0h6m27 0h6m188 0h6m262 0h6m-558 1h6m234 0h6m40 0h6m171 0h6m-628 1h6m104 0h6m148 0h6m101 0h6m-5 0h6m246 0h6m-398 1h6m54 0h6m40 0h6m-2 0h6m-2 0h6m91 0h6m164 0h6m39 0h6m4 0h6m5 0h6m34 0h6m-697 1h6m645 0h6m-526 1h6m-6 0h6m38 0h6m50 0h6m186 0h6m-315 1h6m249 0h6m-325 1h6m651 0h6m-530 1h6m128 0h6m127 0h6m126 0h6m-270 1h6m-332 1h6m86 0h6m75 0h6m90 0h6m48 0h6m294 0h6m-4 0h6m4 0h6m-498 1h6m48 0h6m69 0h6m50 0h6m323 0h6m-391 1h6m51 0h6m359 0h6m-66 1h6m4 0h6m48 0h6m-578 1h6m129 0h6m130 0h6m6 0h6m133 0h6m7 0h6m17 0h6m-363 1h6m117 0h6m-87 1h6m5 0h6m37 0h6m13 0h6m344 0h6m-59 1h6m13 0h6m99 0h6m-556 1h6m-2 0h6m30 0h6m331 0h6m68 0h6m-349 1h6m124 0h6m27 0h6m138 0h6m27 0h6m-408 1h6m299 0h6m-433 1h6m520 0h6m-444 1h6m2 0h6m104 0h6m66 0h6m-319 1h6m52 0h6m82 0h6m63 0h6m210 0h6m-3 0h6m-366 1h6m21 0h6m1 0h6m50 0h6m93 0h6m5 0h6m224 0h6m10 0h6m0 0h6m13 0h6m13 0h6m39 0h6m-474 1h6m306 0h6m132 0h6m8 0h6m51 0h6m-583 1h6m423 0h6m-538 1h6m13 0h6m111 0h6m21 0h6m-123 1h6m48 0h6m399 0h6m77 0h6m-430 1h6m35 0h6m58 0h6m-164 1h6m158 0h6m-224 1h6m83 0h6m366 0h6m35 0h6m-514 1h6m66 0h6m-5 0h6m106 0h6m271 0h6m20 0h6m59 0h6m14 0h6m-573 1h6m52 0h6m70 0h6m364 0h6m-420 1h6m12 0h6m207 0h6m97 0h6m62 0h6m58 0h6m-424 1h6m390 0h6m4 0h6m-111 1h6m121 0h6m-667 1h6m150 0h6m40 0h6m-5 0h6m400 0h6m18 0h6m10 0h6m-556 1h6m35 0h6m24 0h6m22 0h6m15 0h6m6 0h6m285 0h6m39 0h6m-1 0h6m63 0h6m-550 1h6m149 0h6m41 0h6m297 0h6m111 0h6m-670 1h6m341 0h6m247 0h6m-473 1h6m392 0h6m-271 1h6m350 0h6m-357 1h6m-306 1h6m139 0h6m2 0h6m331 0h6m50 0h6m-237 1h6m49 0h6m-332 1h6m8 0h6m284 0h6m203 0h6m-455 1h6m-4 0h6m89 0h6m145 0h6m100 0h6m107 0h6m23 0h6m42 0h6m-517 1h6m69 0h6m53 0h6m62 0h6m67 0h6m119 0h6m7 0h6m-492 1h6m14 0h6m46 0h6m4 0h6m54 0h6m-278 1h6m43 0h6m325 0h6m16 0h6m195 0h6m79 0h6m26 1h6m-597 1h6m109 0h6m374 1h6m-475 1h6m73 0h6m18 0h6m21 0h6m192 0h6m-281 1h6m84 0h6m-3 0h6m72 0h6m362 0h6m-736 1h6m161 0h6m494 0h6m-603 1h6m76 0h6m62 0h6m23 0h6m92 0h6m253 0h6m-404 1h6m37 0h6m301 0h6m-235 1h6m81 0h6m228 0h6m15 0h6m-477 1h6m24 0h6m-2 0h6m431 0h6m43 0h6m-632 1h6m29 0h6m403 0h6m35 0h6m13 0h6m79 0h6m-583 1h6m43 0h6m64 0h6m4 0h6m464 0h6m-601 1h6m181 0h6m-2 0h6m0 0h6m239 0h6m22 0h6m-471 1h6m7 0h6m28 0h6m126 0h6m-78 1h6m46 0h6m335 0h6m10 0h6m-566 1h6m57 0h6m18 0h6m46 0h6m34 0h6m20 0h6m-265 1h6m253 0h6m314 0h6m-330 1h6m22 0h6m300 0h6m-1 0h6m-80 1h6m91 0h6m28 0h6m-576 1h6m61 0h6m-11 1h6m99 0h6m316 0h6m8 0h6m-305 1h6m310 0h6m-527 1h6m22 0h6m513 0h6m-315 1h6m52 0h6m204 0h6m-407 1h6m371 0h6m2 0h6m105 0h6m-676 1h6m7 0h6m56 0h6m96 0h6m28 0h6m73 0h6m28 0h6m185 0h6m53 0h6m26 0h6m-638 1h6m185 0h6m148 0h6m-211 1h6m159 0h6m279 0h6m165 0h6m-154 1h6m0 0h6m-409 1h6m7 0h6m24 0h6m222 0h6m-272 1h6m318 1h6m93 2h6m-368 1h6m-6 0h6m361 0h6m-356 1h6m270 0h6m47 0h6m-590 1h6m96 0h6m437 0h6m-5 0h6m-496 1h6m78 0h6m-2 0h6m146 0h6m-76 1h6m71 0h6m-3 1h6m278 0h6m-3 0h6m-395 1h6m102 0h6m156 0h6m-297 1h6m335 0h6m17 0h6m-348 2h6m380 0h6m-425 1h6m157 0h6m-459 1h6m225 0h6m68 0h6m-81 1h6m137 0h6m303 0h6m-596 1h6m331 0h6m235 0h6m31 0h6m-616 2h6m91 0h6m189 0h6m0 0h6m-84 1h6m380 2h6m1 1h6m-387 1h6m-55 2h6m78 0h6m285 0h6m18 1h6m-369 1h6m18 0h6m352 0h6m24 0h6m-452 1h6m-91 1h6m49 1h6m472 0h6m-626 1h6m128 0h6m517 0h6m-541 2h6m336 0h6m149 0h6m-538 1h6m49 0h6m369 0h6m121 0h6m-6 1h6m-522 1h6m10 0h6m3 1h6m429 2h6m-121 3h6m-353 1h6m19 0h6m106 1h6m-203 1h6m65 0h6m520 0h6m-347 4h6m-288 3h6m452 0h6m81 0h6m-436 2h6m432 2h6m-483 4h6m97 0h6m321 0h6m-34 1h6m-424 2h6m-109 1h6m514 1h6m-16 2h6m108 0h6m-393 1h6m330 1h6m12 3h6m-294 2h6m297 0h6m-448 1h6m386 1h6m-522 1h6m110 2h6m397 3h6m11 0h6m-319 1h6m-186 2h6m476 11h6m83 4h6m-65 34h6" stroke="#000" stroke-width="6" stroke-opacity="0.44" fill="none"/>
<path transform="scale(0.1)" d="M4571 483h6m-160 32h6m274 27h6m-9 7h6m-32 15h6m-68 1h6m105 1h6m-91 8h6m33 9h6m123 9h6m-198 2h6m64 0h6m-105 1h6m130 3h6m-87 4h6m104 0h6m-54 8h6m72 1h6m3 3h6m-239 2h6m170 2h6m-173 1h6m33 3h6m-48 3h6m16 0h6m68 0h6m-148 2h6m13 2h6m71 1h6m-41 1h6m20 0h6m-47 4h6m173 2h6m-254 3h6m23 0h6m80 0h6m79 1h6m-6 0h6m-4 0h6m-165 2h6m141 1h6m-93 2h6m98 0h6m-73 2h6m96 1h6m-108 1h6m93 0h6m-100 1h6m-162 1h6m167 0h6m88 1h6m-245 1h6m112 0h6m43 0h6m-145 1h6m102 2h6m-150 1h6m65 0h6m117 0h6m24 0h6m9 0h6m-3 1h6m-203 1h6m9 0h6m-28 1h6m20 0h6m75 0h6m-66 1h6m16 0h6m40 0h6m-32 1h6m17 0h6m-187 1h6m103 0h6m157 1h6m-7 1h6m-6 0h6m-247 1h6m64 0h6m70 0h6m19 0h6m134 0h6m-534 1h6m318 1h6m138 0h6m-169 2h6m92 0h6m-82 2h6m-51 1h6m182 0h6m-245 2h6m83 0h6m71 0h6m-156 1h6m1 0h6m-4 0h6m175 0h6m17 1h6m-291 1h6m76 0h6m124 1h6m-203 1h6m29 0h6m75 0h6m45 0h6m5 2h6m-2 0h6m-2 0h6m26 1h6m10 0h6m-2 0h6m-182 1h6m2 0h6m132 3h6m2 0h6m-189 1h6m78 0h6m-41 1h6m31 0h6m24 0h6m85 0h6m42 0h6m-120 1h6m21 0h6m12 0h6m-86 1h6m191 0h6m-214 1h6m-94 1h6m153 1h6m-39 1h6m25 1h6m-193 4h6m56 0h6m-66 1h6m104 0h6m38 0h6m16 0h6m-207 1h6m44 1h6m146 0h6m67 0h6m-4 0h6m-251 1h6m167 0h6m-135 1h6m10 1h6m66 1h6m19 0h6m-192 1h6m15 0h6m87 0h6m100 0h6m-185 1h6m105 0h6m-56 1h6m18 0h6m-6 0h6m-2 0h6m185 0h6m-348 1h6m40 0h6m70 0h6m73 0h6m22 0h6m-16 1h6m-6 0h6m-216 1h6m222 0h6m-105 1h6m61 0h6m-98 1h6m128 0h6m-1 0h6m-134 1h6m116 0h6m4 0h6m-148 1h6m25 0h6m4 0h6m7 0h6m94 0h6m-6 1h6m-164 1h6m3 0h6m0 0h6m98 0h6m4 0h6m-333 1h6m199 0h6m37 0h6m-85 1h6m39 0h6m87 0h6m7 0h6m7 0h6m40 0h6m-205 1h6m23 0h6m45 0h6m25 0h6m18 0h6m-164 2h6m87 0h6m109 0h6m-286 1h6m53 0h6m14 0h6m88 0h6m55 0h6m-117 2h6m119 0h6m-184 1h6m138 1h6m-5 0h6m53 0h6m-149 1h6m12 0h6m109 0h6m-106 1h6m3 0h6m-168 2h6m139 0h6m17 0h6m42 0h6m-194 1h6m8 0h6m118 0h6m-37 2h6m16 0h6m-30 1h6m-10 1h6m-146 1h6m14 0h6m271 0h6m-217 1h6m0 1h6m47 0h6m57 0h6m-149 1h6m174 0h6m7 0h6m-188 1h6m14 0h6m-97 1h6m130 0h6m9 0h6m81 0h6m-175 1h6m32 0h6m51 0h6m68 0h6m-250 2h6m64 0h6m159 0h6m-176 1h6m78 1h6m114 0h6m22 0h6m-266 3h6m13 0h6m144 0h6m60 0h6m-141 1h6m4 0h6m-62 2h6m-24 1h6m15 0h6m33 0h6m16 0h6m15 0h6m-165 2h6m43 0h6m194 0h6m-140 1h6m74 0h6m-24 1h6m-200 1h6m298 1h6m-265 1h6m171 0h6m-182 1h6m11 0h6m58 0h6m35 0h6m-3 0h6m-73 1h6m-30 1h6m155 0h6m-2 0h6m11 0h6m-191 1h6m60 0h6m184 0h6m-177 1h6m9 0h6m-97 1h6m50 0h6m-109 1h6m20 1h6m92 0h6m11 0h6m-77 1h6m0 0h6m14 0h6m-131 1h6m131 0h6m100 0h6m-109 1h6m36 0h6m-69 1h6m39 1h6m102 0h6m-207 1h6m96 0h6m29 1h6m16 0h6m21 0h6m-208 1h6m-6 0h6m-3 0h6m-17 1h6m12 0h6m174 0h6m-77 1h6m14 0h6m-6 1h6m14 0h6m-63 1h6m19 0h6m32 0h6m18 0h6m-237 1h6m98 0h6m24 0h6m20 0h6m-166 2h6m20 0h6m63 0h6m79 1h6m-187 1h6m164 0h6m13 0h6m-305 1h6m227 0h6m66 3h6m64 0h6m-238 2h6m147 0h6m-241 2h6m296 0h6m-283 1h6m131 0h6m-233 1h6m146 0h6m-5 1h6m40 1h6m-84 1h6m52 0h6m4 0h6m-1 0h6m60 1h6m-4 0h6m-57 1h6m-125 1h6m46 0h6m37 0h6m8 0h6m81 0h6m-109 1h6m106 1h6m-150 1h6m-49 1h6m65 0h6m85 0h6m4 0h6m67 1h6m-219 1h6m32 0h6m-169 1h6m-2 0h6m94 0h6m26 0h6m213 0h6m-204 1h6m-18 1h6m27 0h6m29 0h6m-73 1h6m3 0h6m52 0h6m100 0h6m65 0h6m-251 1h6m74 0h6m-258 1h6m39 0h6m70 0h6m151 0h6m-154 1h6m126 1h6m60 0h6m-306 1h6m223 0h6m-4 0h6m-263 1h6m375 0h6m-255 1h6m-279 2h6m344 1h6m21 0h6m1 0h6m-142 1h6m89 0h6m-38 1h6m26 0h6m26 0h6m-321 1h6m281 0h6m62 0h6m-73 1h6m111 1h6m-1 0h6m-199 1h6m50 1h6m-69 2h6m0 0h6m120 0h6m62 0h6m-493 1h6m502 0h6m-444 1h6m196 0h6m50 0h6m-67 1h6m68 0h6m46 0h6m-19 1h6m27 0h6m-141 1h6m79 0h6m104 0h6m-141 1h6m71 0h6m-363 1h6m128 0h6m25 0h6m120 0h6m90 0h6m12 0h6m7 0h6m-115 1h6m111 0h6m-46 1h6m-191 1h6m208 1h6m94 0h6m-381 1h6m214 0h6m41 0h6m69 0h6m-193 1h6m50 0h6m54 0h6m92 0h6m-346 1h6m88 0h6m274 0h6m-290 1h6m-209 1h6m242 0h6m25 0h6m-233 1h6m183 0h6m102 0h6m-191 1h6m80 0h6m41 0h6m-283 2h6m59 0h6m160 0h6m-212 1h6m143 0h6m139 0h6m-145 1h6m86 0h6m108 1h6m-581 1h6m187 0h6m56 0h6m146 1h6m84 0h6m-293 1h6m288 2h6m4 0h6m28 1h6m-139 1h6m0 0h6m51 0h6m-5 0h6m-165 1h6m79 0h6m24 0h6m-272 1h6m380 0h6m-165 1h6m-204 1h6m55 0h6m34 0h6m222 0h6m-305 2h6m118 0h6m100 0h6m-13 1h6m-97 3h6m74 0h6m-187 1h6m138 0h6m42 0h6m-291 3h6m173 0h6m-311 1h6m179 0h6m236 0h6m109 0h6m-375 1h6m42 0h6m141 0h6m-6 0h6m149 0h6m-541 4h6m332 1h6m246 0h6m-450 1h6m38 0h6m-209 1h6m192 0h6m-56 2h6m27 1h6m-126 1h6m197 0h6m-179 1h6m-35 1h6m127 1h6m118 0h6m-180 1h6m49 0h6m219 0h6m44 0h6m-312 1h6m-114 1h6m56 0h6m62 0h6m13 0h6m-119 1h6m151 0h6m88 0h6m-332 1h6m0 0h6m97 0h6m494 0h6m-618 2h6m372 1h6m-146 1h6m-78 1h6m113 0h6m-49 1h6m239 0h6m-354 1h6m-1 0h6m91 0h6m-10 2h6m-223 1h6m50 0h6m-78 2h6m157 0h6m307 0h6m-547 1h6m77 1h6m19 0h6m28 0h6m-4 0h6m45 0h6m-85 1h6m73 0h6m152 0h6m-206 1h6m270 0h6m-329 1h6m44 0h6m87 0h6m-83 1h6m-3 0h6m53 1h6m303 2h6m-438 1h6m48 0h6m-4 0h6m110 0h6m-112 1h6m70 0h6m104 1h6m-236 2h6m13 0h6m10 0h6m33 0h6m102 0h6m-273 1h6m54 0h6m34 0h6m412 0h6m-3 0h6m-198 1h6m183 1h6m-458 2h6m299 0h6m-370 1h6m92 1h6m-39 1h6m428 0h6m-448 1h6m189 0h6m-206 1h6m46 0h6m24 0h6m6 0h6m116 0h6m44 0h6m-233 1h6m435 0h6m-505 1h6m96 0h6m-121 1h6m23 0h6m608 0h6m-618 1h6m47 0h6m-138 1h6m113 0h6m-125 1h6m336 0h6m-240 1h6m127 0h6m-76 1h6m393 0h6m-517 2h6m-23 1h6m23 0h6m28 0h6m170 0h6m-238 2h6m129 0h6m-146 1h6m67 1h6m84 0h6m-104 1h6m21 0h6m42 0h6m56 0h6m133 1h6m-356 1h6m70 0h6m41 0h6m-68 2h6m102 0h6m203 1h6m-455 1h6m65 0h6m27 0h6m87 0h6m65 0h6m6 0h6m76 0h6m338 0h6m-601 1h6m170 0h6m-162 1h6m-102 1h6m17 0h6m46 0h6m-18 1h6m172 1h6m234 0h6m-246 1h6m82 0h6m180 0h6m-478 1h6m32 0h6m12 0h6m28 0h6m-14 1h6m82 0h6m5 0h6m185 0h6m-380 1h6m66 0h6m23 0h6m-31 1h6m-45 2h6m116 1h6m431 0h6m-585 1h6m32 0h6m175 0h6m-246 1h6m51 0h6m19 1h6m-95 1h6m335 0h6m-289 1h6m22 0h6m10 0h6m12 0h6m12 0h6m-137 1h6m49 1h6m147 0h6m-156 1h6m209 0h6m-178 2h6m-94 1h6m14 0h6m104 0h6m-155 1h6m75 0h6m-20 1h6m-107 1h6m94 0h6m204 0h6m-220 1h6m124 2h6m253 1h6m-402 1h6m15 2h6m-132 1h6m178 0h6m-9 1h6m46 0h6m244 1h6m-249 1h6m-206 2h6m18 0h6m118 1h6m158 0h6m-263 1h6m60 0h6m87 1h6m-234 2h6m130 0h6m-120 3h6m18 0h6m-3 1h6m111 1h6m-58 2h6m11 0h6m-147 1h6m104 0h6m-145 1h6m0 0h6m154 0h6m9 0h6m-155 2h6m107 0h6m428 0h6m-362 1h6m-127 1h6m87 0h6m-152 1h6m-41 5h6m274 0h6m-223 3h6m34 1h6m-4 0h6m4 1h6m71 2h6m-175 6h6m87 0h6m389 0h6m-435 2h6m-129 1h6m81 3h6m-46 5h6m144 0h6m-89 1h6m91 1h6m-126 11h6m64 0h6m64 8h6m-162 9h6m-49 3h6m310 2h6m-255 9h6" stroke="#000" stroke-width="6" stroke-opacity="0.44" fill="none"/>
<path transform="scale(0.1)" d="M4690 462h6m109 47h6m-149 30h6m14 1h6m-84 4h6m72 13h6m-29 2h6m69 0h6m-52 10h6m47 1h6m-143 7h6m61 0h6m-62 2h6m64 1h6m-34 4h6m86 2h6m-84 1h6m5 0h6m22 1h6m-3 0h6m-17 10h6m-23 4h6m-42 7h6m-103 6h6m7 0h6m163 1h6m-44 2h6m-122 1h6m-30 1h6m-31 1h6m10 0h6m47 0h6m69 0h6m-26 1h6m-97 2h6m47 4h6m122 0h6m-99 1h6m-131 1h6m208 2h6m-208 1h6m154 1h6m-154 1h6m43 0h6m46 1h6m72 2h6m-2 1h6m-175 1h6m70 2h6m-140 1h6m29 2h6m83 1h6m10 0h6m27 0h6m51 1h6m-167 1h6m-443 2h6m468 0h6m59 0h6m-62 1h6m-57 2h6m81 0h6m69 1h6m-190 3h6m63 0h6m13 2h6m-2 1h6m-134 2h6m38 0h6m123 0h6m-196 1h6m117 0h6m7 0h6m-101 1h6m158 0h6m-109 1h6m87 0h6m-64 1h6m-19 1h6m-154 5h6m218 0h6m-195 1h6m32 0h6m82 1h6m21 0h6m-201 2h6m104 0h6m22 0h6m1 1h6m15 0h6m-71 1h6m165 0h6m-221 1h6m-21 1h6m134 0h6m-275 1h6m128 0h6m13 0h6m58 0h6m-5 0h6m59 1h6m8 0h6m63 0h6m-183 2h6m-67 2h6m35 0h6m-95 1h6m189 0h6m4 0h6m13 0h6m-232 3h6m168 0h6m64 2h6m-255 2h6m86 0h6m97 0h6m28 0h6m23 0h6m14 0h6m-289 1h6m57 0h6m113 1h6m-132 2h6m126 0h6m79 0h6m-233 1h6m47 0h6m74 0h6m82 0h6m3 0h6m-67 1h6m-104 1h6m21 0h6m11 0h6m112 0h6m-135 2h6m125 0h6m44 0h6m-329 1h6m16 0h6m-12 1h6m184 0h6m-130 1h6m57 0h6m-114 1h6m59 0h6m-82 1h6m165 1h6m63 1h6m-116 1h6m17 0h6m-83 1h6m-4 0h6m26 1h6m10 0h6m-174 1h6m24 0h6m-3 0h6m202 0h6m5 0h6m33 0h6m-220 1h6m49 0h6m20 0h6m-108 1h6m34 0h6m15 0h6m53 1h6m77 0h6m-32 2h6m26 0h6m-214 1h6m56 0h6m20 0h6m-54 1h6m65 0h6m120 0h6m-275 1h6m215 0h6m-240 1h6m41 1h6m-3 0h6m193 1h6m-126 1h6m94 0h6m100 0h6m-193 1h6m-136 1h6m146 0h6m-13 1h6m-180 1h6m149 0h6m-139 1h6m79 1h6m66 0h6m1 0h6m-42 1h6m-5 0h6m111 0h6m-212 2h6m16 0h6m48 0h6m72 0h6m-195 1h6m50 0h6m65 1h6m47 0h6m41 0h6m60 0h6m-194 1h6m-5 0h6m55 0h6m-87 1h6m28 0h6m91 0h6m-197 1h6m29 0h6m25 0h6m137 0h6m12 0h6m-216 1h6m149 0h6m117 0h6m-171 1h6m92 0h6m25 0h6m23 0h6m-325 1h6m4 1h6m-3 1h6m50 0h6m111 0h6m-192 1h6m145 0h6m-11 1h6m27 0h6m-4 0h6m-78 1h6m126 0h6m-246 1h6m17 0h6m59 0h6m137 0h6m-60 1h6m-212 1h6m111 0h6m-51 1h6m49 0h6m5 0h6m66 0h6m-581 1h6m365 0h6m12 1h6m95 0h6m-1 0h6m153 0h6m4 0h6m-213 1h6m44 1h6m22 0h6m21 0h6m11 0h6m-147 1h6m28 0h6m84 0h6m-200 1h6m38 0h6m2 0h6m111 0h6m57 0h6m-132 1h6m-73 1h6m100 0h6m4 0h6m-72 1h6m30 0h6m35 0h6m-54 1h6m21 0h6m12 0h6m41 0h6m-75 1h6m-86 1h6m94 0h6m-74 1h6m149 1h6m-103 1h6m98 0h6m-159 1h6m27 0h6m48 0h6m49 1h6m-144 1h6m-106 1h6m11 0h6m246 0h6m-103 1h6m-112 1h6m192 0h6m-85 1h6m-112 1h6m125 0h6m41 0h6m-269 1h6m35 0h6m121 0h6m-223 1h6m-35 1h6m230 0h6m81 0h6m-133 1h6m53 0h6m-84 1h6m65 0h6m111 0h6m-275 1h6m126 0h6m-153 1h6m104 0h6m51 0h6m-423 1h6m240 0h6m240 0h6m-54 1h6m41 1h6m-88 2h6m44 0h6m45 0h6m-98 1h6m-314 1h6m330 0h6m27 0h6m-154 1h6m64 0h6m78 0h6m-233 1h6m6 0h6m61 0h6m31 0h6m103 0h6m-545 1h6m97 0h6m410 0h6m30 0h6m-173 1h6m5 0h6m-138 1h6m132 0h6m137 0h6m5 0h6m-215 1h6m-3 0h6m44 0h6m-3 0h6m20 1h6m4 0h6m100 0h6m-214 1h6m185 0h6m-221 2h6m27 0h6m112 0h6m-205 1h6m46 0h6m25 0h6m2 2h6m101 0h6m-76 1h6m137 0h6m32 1h6m17 1h6m7 0h6m-290 1h6m24 1h6m9 0h6m54 1h6m40 0h6m-33 1h6m124 2h6m-551 1h6m270 0h6m-2 0h6m156 0h6m88 1h6m-199 2h6m96 0h6m31 0h6m-138 1h6m84 0h6m-63 1h6m50 0h6m23 0h6m14 0h6m-145 1h6m-180 1h6m169 0h6m-187 1h6m142 0h6m97 0h6m163 0h6m-295 1h6m34 2h6m116 0h6m-5 1h6m71 1h6m-257 1h6m6 0h6m247 1h6m-424 1h6m94 1h6m256 0h6m-321 1h6m164 0h6m15 0h6m-68 1h6m160 0h6m33 0h6m-340 1h6m276 1h6m-233 1h6m76 0h6m-4 2h6m-3 1h6m2 0h6m87 0h6m23 0h6m45 2h6m6 0h6m-233 1h6m327 0h6m-224 1h6m6 0h6m-6 0h6m-1 0h6m29 0h6m109 0h6m-267 1h6m-237 1h6m213 0h6m24 0h6m22 0h6m-49 1h6m33 0h6m-44 1h6m31 0h6m40 0h6m17 0h6m-111 1h6m4 0h6m213 0h6m-589 1h6m390 0h6m162 2h6m8 0h6m-304 1h6m59 0h6m54 1h6m93 0h6m-5 1h6m-531 1h6m511 0h6m-261 1h6m17 0h6m193 0h6m-331 2h6m208 0h6m116 0h6m-241 1h6m225 0h6m-83 2h6m218 0h6m-399 1h6m115 0h6m23 0h6m202 0h6m-311 1h6m144 0h6m32 1h6m14 0h6m114 0h6m-358 1h6m-31 1h6m269 2h6m-303 1h6m4 0h6m116 0h6m210 0h6m38 1h6m-350 1h6m156 0h6m55 0h6m-3 0h6m-99 1h6m241 0h6m-339 2h6m278 0h6m-249 1h6m55 0h6m-272 1h6m328 0h6m-399 1h6m144 0h6m132 0h6m-192 1h6m231 0h6m243 0h6m-501 1h6m92 0h6m116 0h6m20 0h6m-174 2h6m276 0h6m48 0h6m-485 1h6m147 0h6m51 0h6m-8 1h6m45 0h6m3 0h6m-148 1h6m127 0h6m17 0h6m-161 1h6m366 0h6m-481 1h6m101 0h6m83 0h6m192 0h6m-467 1h6m-10 2h6m407 0h6m-352 2h6m25 0h6m191 1h6m-112 1h6m66 0h6m-143 1h6m-53 1h6m8 0h6m138 1h6m27 0h6m29 0h6m-225 1h6m123 0h6m229 0h6m-386 1h6m142 0h6m95 1h6m191 0h6m-322 1h6m245 0h6m-397 1h6m259 0h6m-372 1h6m206 0h6m26 1h6m125 0h6m121 1h6m-489 1h6m540 0h6m-43 1h6m58 0h6m-343 1h6m271 0h6m-581 1h6m79 0h6m204 0h6m-213 1h6m499 0h6m-547 2h6m114 0h6m385 0h6m-489 1h6m82 1h6m0 1h6m110 0h6m21 0h6m100 0h6m-222 1h6m-210 1h6m89 1h6m464 0h6m-517 1h6m97 0h6m-73 1h6m153 0h6m-85 2h6m2 0h6m202 0h6m180 0h6m-545 1h6m38 0h6m547 0h6m-358 1h6m91 0h6m-253 1h6m21 0h6m143 0h6m-247 1h6m73 0h6m106 0h6m62 0h6m297 0h6m-442 1h6m147 0h6m-294 1h6m74 1h6m99 0h6m-243 1h6m243 0h6m57 0h6m222 0h6m-484 3h6m152 0h6m451 0h6m30 1h6m-368 1h6m-301 1h6m50 1h6m30 0h6m59 0h6m-4 0h6m-145 1h6m60 0h6m54 0h6m-2 0h6m-2 0h6m-160 1h6m261 0h6m-291 1h6m47 0h6m254 0h6m191 0h6m-541 1h6m147 0h6m-60 1h6m-34 1h6m303 0h6m118 0h6m-303 1h6m-171 2h6m65 0h6m74 0h6m45 1h6m-239 1h6m33 0h6m5 0h6m23 0h6m195 1h6m236 0h6m72 0h6m-520 1h6m53 0h6m179 0h6m208 0h6m-404 1h6m155 0h6m-341 1h6m298 0h6m11 0h6m-343 2h6m191 0h6m-1 0h6m-24 1h6m19 0h6m381 0h6m-353 1h6m161 1h6m-315 1h6m64 0h6m94 0h6m278 0h6m-343 1h6m-151 1h6m63 0h6m23 0h6m-19 1h6m4 0h6m-58 1h6m399 0h6m-388 1h6m-3 0h6m-71 2h6m45 0h6m15 0h6m-34 1h6m38 0h6m21 0h6m30 0h6m146 0h6m-299 1h6m30 1h6m52 0h6m59 1h6m-140 1h6m109 0h6m-144 1h6m63 0h6m10 0h6m31 1h6m379 0h6m-317 1h6m73 0h6m-209 1h6m-82 1h6m-23 1h6m32 0h6m47 0h6m382 0h6m-501 1h6m78 1h6m5 0h6m65 0h6m-109 3h6m-3 0h6m-29 1h6m438 1h6m-272 2h6m-15 1h6m0 0h6m-183 1h6m131 0h6m-75 1h6m271 0h6m-358 1h6m501 0h6m-564 1h6m103 2h6m-195 2h6m448 0h6m158 0h6m-472 1h6m99 0h6m-161 1h6m108 0h6m32 1h6m-218 1h6m692 0h6m-580 1h6m-61 1h6m60 1h6m-79 1h6m-32 1h6m82 0h6m16 1h6m11 0h6m3 0h6m-49 2h6m-79 1h6m59 0h6m24 0h6m27 1h6m-207 1h6m76 0h6m19 0h6m7 2h6m70 0h6m159 0h6m-202 3h6m22 1h6m40 0h6m-122 1h6m17 1h6m41 1h6m-48 2h6m37 1h6m-55 1h6m-14 1h6m83 1h6m-91 1h6m136 2h6m-344 1h6m60 0h6m18 3h6m56 1h6m-139 1h6m106 1h6m67 0h6m-1 0h6m-96 1h6m27 0h6m-7 1h6m357 5h6m-380 7h6m147 5h6m-137 1h6m127 2h6m-184 7h6m-62 2h6m33 13h6m74 24h6" stroke="#000" stroke-width="6" stroke-opacity="0.44" fill="none"/>
<path transform="scale(0.1)" d="M4768 512h6m-97 8h6m-62 19h6m70 20h6m-32 5h6m7 7h6m55 4h6m-101 12h6m-6 2h6m11 9h6m45 4h6m-96 2h6m12 0h6m7 1h6m7 1h6m-134 10h6m92 0h6m97 0h6m-125 1h6m-19 2h6m-49 2h6m124 3h6m-176 1h6m119 2h6m80 0h6m-235 1h6m105 0h6m100 3h6m-206 1h6m150 1h6m-25 1h6m34 0h6m-154 1h6m64 1h6m-84 2h6m171 0h6m-170 1h6m134 1h6m-178 1h6m140 0h6m-64 3h6m66 0h6m-316 1h6m160 0h6m90 1h6m-13 1h6m-197 1h6m41 0h6m58 0h6m126 1h6m24 0h6m-380 1h6m221 0h6m-34 3h6m13 0h6m110 0h6m-190 2h6m15 1h6m22 0h6m27 0h6m112 0h6m-12 1h6m3 0h6m-200 1h6m56 0h6m39 0h6m51 0h6m-112 1h6m62 0h6m27 0h6m-5 0h6m21 1h6m28 0h6m-2 0h6m-118 2h6m-151 3h6m-9 1h6m46 0h6m53 1h6m3 0h6m-89 1h6m76 0h6m72 1h6m108 0h6m-275 1h6m75 0h6m39 0h6m54 0h6m-193 1h6m46 0h6m4 1h6m158 0h6m-243 2h6m74 1h6m96 0h6m0 2h6m-331 1h6m285 0h6m-77 2h6m73 0h6m0 0h6m12 0h6m-74 2h6m-162 3h6m53 0h6m59 0h6m71 0h6m15 0h6m14 0h6m-19 1h6m-239 1h6m12 0h6m90 0h6m146 1h6m-75 1h6m33 0h6m-165 2h6m96 0h6m6 0h6m-93 1h6m1 0h6m171 0h6m-230 2h6m34 0h6m100 0h6m-220 2h6m113 1h6m69 0h6m98 0h6m-309 1h6m213 0h6m-177 1h6m46 0h6m138 1h6m-193 1h6m140 0h6m-111 1h6m27 0h6m63 0h6m5 0h6m6 0h6m41 0h6m-131 1h6m-93 1h6m118 0h6m51 0h6m-209 1h6m290 0h6m-129 1h6m1 0h6m10 0h6m-241 1h6m5 0h6m14 0h6m178 0h6m2 0h6m56 0h6m31 0h6m-291 1h6m21 1h6m30 1h6m3 0h6m-112 1h6m93 0h6m56 0h6m-127 1h6m85 0h6m105 0h6m-242 1h6m141 0h6m64 0h6m-97 1h6m115 0h6m-14 1h6m-147 1h6m25 0h6m-200 1h6m141 0h6m-4 2h6m39 0h6m-26 1h6m143 0h6m-176 3h6m84 0h6m25 0h6m47 0h6m-215 1h6m34 1h6m165 0h6m-272 2h6m55 0h6m29 0h6m-26 1h6m91 0h6m-186 1h6m48 0h6m68 0h6m113 0h6m65 0h6m-325 1h6m200 0h6m-123 1h6m-1 0h6m5 0h6m-22 1h6m53 0h6m9 1h6m58 0h6m-126 1h6m102 1h6m-145 1h6m31 0h6m25 0h6m69 0h6m-6 0h6m-201 1h6m75 0h6m127 0h6m-105 1h6m-127 1h6m62 0h6m96 0h6m32 0h6m4 0h6m-253 1h6m199 0h6m91 0h6m-124 1h6m39 0h6m90 0h6m-196 2h6m0 0h6m-49 1h6m51 0h6m4 0h6m-145 1h6m35 0h6m84 0h6m63 0h6m-125 1h6m25 1h6m41 0h6m91 0h6m0 0h6m-204 1h6m38 0h6m55 0h6m-149 1h6m39 0h6m68 0h6m-50 1h6m17 0h6m9 0h6m20 1h6m-147 2h6m135 0h6m14 0h6m29 0h6m13 0h6m-176 1h6m9 1h6m14 0h6m-74 1h6m40 1h6m-95 1h6m32 0h6m120 0h6m-82 2h6m23 0h6m-57 1h6m-6 0h6m5 1h6m18 0h6m58 0h6m33 0h6m-163 1h6m23 0h6m23 0h6m-130 1h6m90 0h6m15 0h6m31 0h6m47 0h6m40 0h6m-242 1h6m-5 0h6m65 2h6m49 0h6m98 0h6m-148 1h6m12 0h6m4 0h6m-411 1h6m277 0h6m98 0h6m141 1h6m-238 1h6m99 1h6m-163 1h6m59 0h6m171 0h6m-203 1h6m211 0h6m-134 1h6m98 0h6m55 0h6m-48 1h6m-242 1h6m92 1h6m5 0h6m13 1h6m68 0h6m32 0h6m1 0h6m-99 2h6m54 0h6m28 0h6m-2 0h6m8 0h6m-207 1h6m184 1h6m126 0h6m-387 1h6m77 0h6m148 0h6m-315 1h6m92 0h6m48 0h6m27 0h6m0 0h6m-78 3h6m9 0h6m76 0h6m33 1h6m-82 1h6m22 0h6m20 0h6m67 0h6m26 0h6m-281 3h6m99 0h6m153 0h6m-115 1h6m-127 1h6m0 0h6m61 1h6m42 0h6m-27 1h6m80 0h6m-243 1h6m176 0h6m-64 2h6m10 0h6m52 0h6m15 0h6m-271 2h6m219 0h6m-3 1h6m-57 1h6m-84 1h6m54 0h6m-86 1h6m37 0h6m52 0h6m50 0h6m-162 1h6m58 0h6m-68 1h6m149 0h6m47 0h6m10 0h6m-208 1h6m37 1h6m-57 1h6m-204 1h6m226 0h6m77 0h6m27 0h6m1 2h6m-93 1h6m90 0h6m107 0h6m-242 1h6m1 1h6m122 0h6m-162 1h6m132 0h6m25 0h6m-22 1h6m-130 1h6m28 0h6m43 1h6m-132 1h6m73 0h6m59 0h6m38 0h6m-99 1h6m69 1h6m-257 1h6m91 0h6m68 0h6m86 0h6m-169 1h6m137 0h6m-10 1h6m-150 1h6m203 0h6m-23 1h6m-473 1h6m131 0h6m101 1h6m159 0h6m28 0h6m-169 1h6m50 0h6m13 0h6m55 0h6m-360 1h6m207 0h6m94 0h6m-81 3h6m22 0h6m100 0h6m6 0h6m-383 1h6m195 0h6m187 1h6m-152 2h6m60 0h6m30 0h6m-466 1h6m279 0h6m-17 1h6m157 0h6m-173 1h6m35 0h6m205 0h6m-215 2h6m215 0h6m-108 1h6m-9 1h6m-127 1h6m25 0h6m50 1h6m50 0h6m-147 1h6m1 0h6m98 0h6m-3 0h6m-101 1h6m0 0h6m12 0h6m139 0h6m-61 1h6m52 0h6m-3 0h6m-346 1h6m344 0h6m-208 1h6m79 0h6m-268 2h6m402 0h6m-352 1h6m151 0h6m-173 2h6m-6 0h6m243 0h6m0 0h6m-276 1h6m265 0h6m-223 1h6m209 0h6m44 0h6m-148 1h6m92 0h6m-48 1h6m-6 1h6m32 0h6m-274 1h6m157 0h6m56 0h6m-48 1h6m23 0h6m-250 1h6m94 0h6m103 0h6m-224 1h6m101 1h6m40 0h6m67 0h6m-1 0h6m-110 1h6m140 0h6m196 0h6m-289 1h6m34 0h6m189 0h6m-410 1h6m146 0h6m-119 1h6m106 0h6m111 0h6m-345 1h6m100 0h6m156 0h6m-128 1h6m146 0h6m-3 0h6m41 0h6m-175 1h6m-133 1h6m75 0h6m-212 2h6m0 1h6m5 0h6m83 0h6m-15 1h6m356 0h6m47 0h6m-325 1h6m-74 1h6m-35 1h6m-84 1h6m40 0h6m3 0h6m97 0h6m91 1h6m-226 2h6m37 0h6m15 0h6m4 1h6m-4 0h6m313 1h6m20 1h6m-274 1h6m132 0h6m163 0h6m-457 1h6m82 0h6m16 0h6m77 0h6m-183 1h6m38 0h6m10 0h6m47 1h6m34 0h6m174 0h6m6 0h6m31 0h6m-282 1h6m-12 1h6m202 0h6m-338 1h6m-145 1h6m147 0h6m127 0h6m-80 1h6m3 0h6m101 0h6m163 0h6m-348 1h6m88 0h6m-73 3h6m174 0h6m39 0h6m-45 1h6m-4 0h6m-163 1h6m53 0h6m-70 1h6m417 0h6m-552 1h6m522 0h6m-453 1h6m401 0h6m-543 1h6m260 0h6m-203 1h6m105 0h6m69 1h6m156 0h6m91 0h6m-143 1h6m-299 1h6m68 0h6m70 0h6m-4 0h6m130 0h6m276 0h6m-451 1h6m-61 1h6m-149 1h6m118 0h6m293 0h6m-235 1h6m-84 1h6m59 1h6m153 0h6m29 0h6m-327 1h6m37 0h6m169 0h6m260 0h6m-506 1h6m104 0h6m0 0h6m89 0h6m-151 1h6m-129 1h6m279 0h6m197 0h6m-326 1h6m21 0h6m82 0h6m-318 1h6m116 0h6m15 0h6m166 0h6m42 0h6m-145 1h6m176 0h6m-413 1h6m33 0h6m204 1h6m56 0h6m89 0h6m219 0h6m-400 2h6m-70 1h6m42 0h6m166 0h6m-315 2h6m111 0h6m355 0h6m-489 1h6m24 0h6m42 0h6m101 1h6m-91 1h6m68 0h6m-89 1h6m37 3h6m111 0h6m332 0h6m-572 1h6m89 0h6m40 0h6m-157 1h6m45 1h6m-102 2h6m102 0h6m120 0h6m-256 1h6m186 0h6m21 0h6m89 0h6m-15 2h6m54 0h6m-211 1h6m-2 0h6m376 0h6m-553 1h6m245 0h6m-235 1h6m109 0h6m113 0h6m-50 1h6m-101 1h6m165 0h6m-239 1h6m33 1h6m29 0h6m22 0h6m-175 1h6m34 1h6m153 0h6m-98 1h6m121 0h6m175 2h6m-347 1h6m21 0h6m13 0h6m12 0h6m161 0h6m-264 1h6m49 0h6m11 1h6m40 0h6m23 0h6m-175 2h6m38 0h6m30 0h6m-31 1h6m448 0h6m-449 1h6m7 1h6m150 0h6m-188 1h6m-4 0h6m-3 0h6m32 0h6m47 0h6m-128 1h6m27 0h6m-44 3h6m127 0h6m2 0h6m195 0h6m165 0h6m-566 2h6m72 0h6m-28 1h6m45 2h6m200 0h6m333 0h6m-731 1h6m196 0h6m153 0h6m58 0h6m-437 1h6m443 0h6m-262 2h6m-21 1h6m170 0h6m-122 1h6m-177 3h6m99 1h6m-7 1h6m182 0h6m38 1h6m-224 1h6m55 0h6m446 1h6m-552 1h6m-85 1h6m176 1h6m-130 3h6m41 0h6m26 1h6m81 1h6m31 0h6m-266 1h6m27 1h6m36 0h6m13 0h6m18 0h6m-133 2h6m99 0h6m17 0h6m24 2h6m-135 1h6m60 0h6m95 0h6m171 1h6m-257 1h6m51 2h6m49 2h6m-149 2h6m31 0h6m-137 3h6m106 0h6m-69 2h6m30 0h6m-41 1h6m112 0h6m-58 1h6m131 2h6m-146 2h6m-55 1h6m19 1h6m459 0h6m-473 1h6m192 1h6m124 1h6m-415 4h6m158 4h6m1 1h6m-102 2h6m1 0h6m153 5h6m-271 4h6m134 1h6m-53 1h6m134 1h6m-152 12h6m-15 4h6m-39 1h6m292 8h6m-300 1h6m-33 1h6m-7 62h6" stroke="#000" stroke-width="6" stroke-opacity="0.44" fill="none"/>
<path transform="scale(0.1)" d="M4635 485h6m104 33h6m-21 20h6m-19 1h6m-72 12h6m14 1h6m-16 3h6m-114 3h6m124 2h6m-99 2h6m79 5h6m-79 2h6m69 5h6m-21 14h6m36 7h6m-81 3h6m29 0h6m33 1h6m-1 0h6m-3 0h6m-177 4h6m206 3h6m-134 9h6m20 1h6m12 7h6m-96 2h6m-41 3h6m-9 2h6m27 0h6m45 0h6m65 0h6m-47 1h6m-154 1h6m-4 0h6m201 0h6m-158 2h6m20 1h6m-52 1h6m46 0h6m108 0h6m80 0h6m-273 1h6m-4 1h6m93 0h6m45 0h6m-173 1h6m17 0h6m3 1h6m-45 1h6m11 0h6m-36 1h6m90 1h6m84 1h6m-93 1h6m98 0h6m17 0h6m-169 1h6m29 0h6m46 1h6m65 0h6m-241 1h6m137 0h6m58 0h6m-109 1h6m162 0h6m-273 2h6m276 1h6m-286 1h6m37 0h6m118 0h6m47 2h6m-69 2h6m29 0h6m-72 1h6m14 0h6m81 1h6m-251 1h6m42 3h6m219 0h6m-219 2h6m83 0h6m8 0h6m48 0h6m-122 1h6m84 0h6m48 1h6m-256 1h6m89 0h6m14 0h6m-51 1h6m21 0h6m98 0h6m-96 1h6m-86 1h6m66 0h6m47 0h6m14 0h6m87 0h6m-254 2h6m135 0h6m-79 1h6m84 0h6m13 0h6m-152 1h6m44 0h6m122 1h6m6 0h6m17 0h6m-146 2h6m29 1h6m12 0h6m30 0h6m-46 1h6m-161 1h6m1 0h6m112 1h6m21 0h6m-165 1h6m3 0h6m-4 0h6m86 0h6m78 0h6m25 0h6m28 0h6m-265 1h6m51 1h6m128 0h6m-207 1h6m13 1h6m-2 0h6m45 0h6m5 0h6m24 0h6m152 0h6m-117 1h6m46 1h6m-5 0h6m-85 1h6m34 0h6m-111 1h6m152 0h6m4 0h6m0 1h6m-92 1h6m82 0h6m-117 1h6m-349 1h6m301 1h6m77 0h6m3 0h6m-174 2h6m223 1h6m-202 1h6m21 0h6m2 0h6m0 0h6m5 0h6m74 0h6m12 0h6m13 0h6m60 0h6m-158 1h6m94 0h6m-166 2h6m42 0h6m65 0h6m-225 1h6m238 1h6m-130 1h6m102 0h6m9 2h6m-8 1h6m-133 1h6m11 0h6m-83 1h6m8 0h6m-2 0h6m112 0h6m56 0h6m13 0h6m-142 1h6m-32 1h6m-17 2h6m1 0h6m-105 1h6m225 0h6m57 0h6m-248 2h6m93 0h6m-198 1h6m43 0h6m43 0h6m87 0h6m13 1h6m51 0h6m-64 1h6m-187 1h6m79 0h6m33 0h6m9 1h6m41 1h6m-120 1h6m63 0h6m91 0h6m28 0h6m-163 1h6m-6 0h6m135 0h6m-56 1h6m-260 1h6m125 1h6m-122 1h6m72 0h6m148 0h6m54 0h6m13 1h6m-267 1h6m97 0h6m186 0h6m-270 1h6m120 0h6m-1 1h6m-58 1h6m58 0h6m112 1h6m-221 1h6m81 0h6m77 2h6m2 0h6m-171 1h6m20 0h6m122 0h6m-2 0h6m-273 1h6m50 0h6m242 0h6m-197 1h6m-2 0h6m-93 1h6m206 0h6m-190 1h6m0 1h6m-72 1h6m4 0h6m119 0h6m42 0h6m51 0h6m-46 1h6m48 0h6m37 0h6m-9 1h6m-273 1h6m111 0h6m59 0h6m-153 1h6m58 0h6m131 0h6m-168 1h6m114 0h6m21 0h6m-125 1h6m132 0h6m-3 0h6m-218 2h6m122 0h6m47 0h6m44 1h6m-40 1h6m45 1h6m-255 1h6m41 0h6m21 0h6m18 0h6m7 0h6m123 0h6m-232 1h6m77 0h6m7 0h6m15 1h6m18 0h6m111 1h6m-316 1h6m67 0h6m55 0h6m-14 1h6m-5 1h6m28 0h6m18 0h6m0 0h6m71 0h6m-106 1h6m-73 1h6m-60 1h6m42 0h6m112 0h6m4 0h6m-77 1h6m164 0h6m-186 3h6m-123 1h6m117 1h6m-132 1h6m106 0h6m115 0h6m-218 1h6m188 0h6m-160 1h6m-62 1h6m29 0h6m1 1h6m52 0h6m59 0h6m31 1h6m59 0h6m-15 1h6m-278 1h6m59 0h6m130 0h6m-169 2h6m103 0h6m-66 1h6m10 0h6m82 0h6m45 2h6m-275 1h6m278 0h6m-131 1h6m123 0h6m-144 1h6m84 0h6m-128 1h6m-82 1h6m5 0h6m24 0h6m84 0h6m-17 3h6m-202 1h6m192 0h6m157 0h6m-296 1h6m6 0h6m31 0h6m83 0h6m-175 1h6m19 0h6m41 0h6m76 0h6m-98 1h6m123 0h6m-177 1h6m107 0h6m-132 1h6m108 0h6m-106 2h6m196 0h6m13 0h6m-268 2h6m52 1h6m71 0h6m-86 1h6m176 0h6m-174 1h6m102 0h6m-161 1h6m224 0h6m-30 1h6m-121 1h6m50 0h6m35 0h6m0 0h6m13 0h6m-214 1h6m0 0h6m57 1h6m55 0h6m57 0h6m-44 1h6m22 0h6m-122 1h6m10 0h6m85 0h6m-71 1h6m31 0h6m-19 1h6m-209 1h6m351 0h6m-267 1h6m156 0h6m-111 1h6m33 0h6m16 0h6m-332 2h6m178 1h6m10 0h6m49 1h6m11 0h6m7 0h6m64 0h6m8 0h6m-114 1h6m13 0h6m149 0h6m-183 2h6m103 0h6m26 0h6m-207 3h6m-21 1h6m59 0h6m200 0h6m-155 1h6m-310 1h6m203 0h6m-7 1h6m49 0h6m10 1h6m138 0h6m-569 1h6m260 0h6m91 0h6m-4 1h6m-2 0h6m-4 0h6m39 0h6m-85 1h6m107 0h6m-130 1h6m37 0h6m-38 2h6m14 0h6m89 1h6m-193 1h6m57 0h6m-277 1h6m168 1h6m39 1h6m130 0h6m-21 1h6m17 1h6m14 0h6m23 0h6m3 0h6m-419 1h6m237 0h6m204 0h6m67 0h6m-536 1h6m195 0h6m255 0h6m-231 1h6m173 0h6m12 0h6m111 0h6m-380 1h6m-29 1h6m152 0h6m98 0h6m-172 1h6m195 0h6m33 0h6m-282 1h6m83 0h6m23 0h6m-35 1h6m132 0h6m-160 1h6m-83 1h6m-6 0h6m44 1h6m115 0h6m55 0h6m-151 1h6m112 1h6m-75 1h6m2 0h6m27 0h6m-228 1h6m122 0h6m-4 0h6m32 0h6m112 0h6m76 0h6m-360 1h6m140 0h6m-275 1h6m3 0h6m317 0h6m-443 1h6m60 0h6m138 0h6m178 0h6m22 0h6m31 1h6m-378 1h6m17 0h6m139 0h6m271 0h6m-407 1h6m-114 1h6m336 0h6m19 0h6m70 0h6m6 0h6m-388 2h6m179 0h6m-90 1h6m206 0h6m174 0h6m-207 1h6m-163 2h6m25 0h6m148 0h6m-205 1h6m115 0h6m39 0h6m-166 1h6m162 0h6m-160 1h6m-3 0h6m179 0h6m-276 1h6m-5 0h6m139 0h6m2 0h6m48 0h6m10 0h6m22 0h6m107 0h6m-396 1h6m31 0h6m10 0h6m146 0h6m-325 1h6m226 0h6m58 1h6m-208 1h6m40 0h6m19 0h6m20 0h6m37 0h6m65 0h6m14 0h6m-351 2h6m149 4h6m31 0h6m19 0h6m319 0h6m-384 1h6m17 0h6m150 0h6m-87 1h6m6 2h6m92 0h6m3 0h6m-373 1h6m-19 2h6m177 0h6m-79 1h6m16 0h6m146 0h6m-234 1h6m118 0h6m122 0h6m172 0h6m-280 1h6m285 0h6m-165 2h6m-6 1h6m207 0h6m-436 1h6m89 0h6m65 0h6m-164 1h6m141 1h6m256 2h6m-459 2h6m174 1h6m178 0h6m75 0h6m-554 1h6m44 0h6m220 2h6m-155 1h6m-62 1h6m10 1h6m16 0h6m30 0h6m-157 1h6m2 0h6m347 0h6m0 0h6m7 0h6m-393 1h6m154 1h6m103 0h6m-302 1h6m148 0h6m131 0h6m96 0h6m-191 1h6m33 0h6m-161 1h6m264 0h6m-234 1h6m23 0h6m102 0h6m63 0h6m48 0h6m-139 1h6m-4 1h6m339 0h6m-451 2h6m29 0h6m-143 1h6m182 0h6m162 0h6m128 0h6m-258 1h6m-35 1h6m32 0h6m74 0h6m-265 1h6m437 0h6m-471 1h6m105 0h6m-173 2h6m144 0h6m189 1h6m152 0h6m-322 1h6m71 0h6m-6 0h6m-196 1h6m122 0h6m71 1h6m243 0h6m-440 1h6m65 0h6m142 0h6m-343 1h6m555 0h6m-427 2h6m246 0h6m-302 1h6m42 0h6m-49 1h6m43 1h6m-3 0h6m28 0h6m-170 1h6m175 0h6m-140 1h6m193 0h6m-241 1h6m9 0h6m49 0h6m-77 1h6m1 0h6m65 0h6m10 0h6m-134 1h6m28 0h6m102 0h6m-48 1h6m19 0h6m34 0h6m416 0h6m-494 1h6m-42 1h6m317 0h6m-2 0h6m172 1h6m-484 2h6m485 0h6m-527 2h6m146 0h6m24 0h6m-197 1h6m350 0h6m-255 1h6m-143 2h6m68 0h6m2 0h6m44 0h6m121 0h6m-249 4h6m45 0h6m-11 1h6m55 0h6m1 0h6m-12 1h6m-15 1h6m114 0h6m38 2h6m-113 1h6m4 0h6m314 0h6m-360 1h6m-104 1h6m-1 0h6m85 0h6m-95 1h6m36 0h6m24 0h6m182 1h6m-243 3h6m-43 2h6m-124 1h6m63 0h6m80 0h6m-44 1h6m59 0h6m-41 2h6m172 0h6m-283 1h6m146 0h6m-74 1h6m65 0h6m0 0h6m408 0h6m-427 2h6m-233 1h6m284 0h6m92 0h6m17 0h6m-229 1h6m-78 1h6m67 0h6m198 0h6m-135 1h6m-43 5h6m80 0h6m-2 0h6m-224 2h6m163 1h6m47 0h6m-268 2h6m103 1h6m6 0h6m74 0h6m-169 1h6m64 1h6m219 0h6m-258 2h6m23 2h6m-91 1h6m59 3h6m92 1h6m-14 1h6m-81 1h6m18 2h6m19 0h6m452 0h6m-523 3h6m11 1h6m45 0h6m-14 2h6m-17 1h6m-74 1h6m-58 1h6m423 0h6m-446 1h6m469 7h6m-482 7h6m167 0h6m-117 1h6m-32 1h6m71 3h6m197 1h6m-333 5h6m131 0h6m9 0h6m23 0h6m-229 1h6m91 5h6m271 0h6m-124 1h6m-202 7h6m108 9h6m-1 1h6m-144 2h6m70 0h6m95 2h6m430 1h6m-561 1h6m-3 0h6m19 3h6m529 18h6m-145 5h6m-283 21h6m361 10h6m-71 5h6" stroke="#000" stroke-width="6" stroke-opacity="0.44" fill="none"/>
<path transform="scale(0.1)" d="M4667 502h6m33 9h6m36 31h6m-211 4h6m139 6h6m-266 1h6m25 8h6m234 0h6m-111 3h6m13 4h6m-8 4h6m3 0h6m-304 13h6m303 6h6m31 10h6m-1 6h6m5 13h6m-117 1h6m37 4h6m-45 2h6m5 0h6m100 0h6m-48 1h6m-138 1h6m172 0h6m-177 6h6m91 0h6m29 0h6m-79 1h6m12 1h6m36 0h6m-100 1h6m-5 1h6m-27 1h6m304 0h6m-78 1h6m-227 3h6m41 2h6m95 0h6m-222 2h6m114 0h6m100 0h6m-63 1h6m-49 1h6m100 2h6m-360 1h6m199 1h6m1 0h6m-67 1h6m131 0h6m-43 1h6m17 0h6m15 0h6m-191 1h6m79 0h6m37 0h6m-31 1h6m15 0h6m-10 1h6m94 0h6m24 0h6m-57 1h6m46 1h6m-66 1h6m-55 1h6m2 0h6m94 0h6m-231 1h6m71 0h6m-10 1h6m-42 2h6m185 0h6m-225 1h6m61 0h6m135 0h6m-180 3h6m156 0h6m-138 1h6m120 1h6m153 0h6m-313 1h6m101 0h6m19 0h6m5 2h6m-203 1h6m129 0h6m153 0h6m-130 1h6m-179 1h6m80 0h6m119 1h6m33 0h6m-259 1h6m182 1h6m140 0h6m-305 1h6m160 0h6m-169 1h6m137 0h6m-137 1h6m71 0h6m-223 2h6m101 0h6m165 0h6m95 1h6m-335 1h6m19 2h6m11 0h6m59 0h6m32 0h6m-115 1h6m241 0h6m-5 0h6m-151 1h6m15 0h6m117 0h6m-212 1h6m150 0h6m14 0h6m2 2h6m-167 1h6m85 0h6m15 0h6m-31 1h6m9 0h6m49 0h6m0 0h6m-143 1h6m-1 0h6m49 0h6m5 0h6m35 0h6m-251 2h6m209 0h6m-6 0h6m-87 2h6m6 0h6m11 0h6m69 0h6m-214 1h6m40 0h6m86 0h6m101 0h6m18 0h6m-170 1h6m5 0h6m56 0h6m-108 1h6m101 0h6m-20 1h6m37 0h6m-22 1h6m-153 1h6m26 0h6m13 0h6m15 0h6m90 0h6m-185 1h6m107 0h6m32 0h6m49 0h6m-230 1h6m15 0h6m97 0h6m38 0h6m-287 2h6m295 1h6m10 0h6m-6 0h6m7 0h6m-186 1h6m-31 1h6m1 0h6m96 1h6m27 0h6m41 0h6m-94 1h6m14 0h6m10 0h6m-142 1h6m134 0h6m51 0h6m-69 1h6m57 0h6m-205 1h6m46 0h6m128 0h6m5 0h6m-254 1h6m73 0h6m140 0h6m9 0h6m-3 0h6m-261 1h6m212 0h6m18 0h6m24 0h6m-225 1h6m219 0h6m-114 1h6m7 0h6m4 0h6m-49 1h6m47 0h6m29 2h6m-132 1h6m130 1h6m-193 1h6m88 0h6m129 0h6m21 0h6m-254 1h6m55 0h6m61 0h6m-199 1h6m220 0h6m-5 0h6m-127 1h6m192 0h6m-147 1h6m-83 1h6m76 0h6m-121 1h6m78 0h6m-6 0h6m-72 1h6m93 0h6m-136 1h6m35 0h6m37 0h6m-68 1h6m-18 1h6m185 1h6m-182 1h6m138 0h6m-167 1h6m-16 1h6m4 0h6m66 0h6m20 0h6m12 0h6m-110 2h6m173 1h6m-140 1h6m-101 1h6m164 0h6m-3 0h6m-187 1h6m25 0h6m78 0h6m-98 1h6m104 0h6m-36 1h6m55 1h6m5 0h6m-1 0h6m46 1h6m-127 1h6m34 0h6m-168 1h6m122 0h6m26 0h6m31 0h6m72 0h6m-171 1h6m-6 0h6m-4 0h6m33 0h6m74 0h6m1 0h6m-166 1h6m165 0h6m-4 0h6m-101 3h6m-385 1h6m255 0h6m114 0h6m55 0h6m11 0h6m-45 1h6m-156 1h6m15 0h6m11 0h6m210 0h6m-192 1h6m158 0h6m-150 1h6m25 0h6m-61 2h6m143 0h6m-293 1h6m52 1h6m34 0h6m47 0h6m128 0h6m-253 1h6m45 0h6m-66 1h6m159 0h6m-53 1h6m52 0h6m-129 1h6m134 0h6m29 0h6m15 0h6m-179 1h6m1 0h6m74 0h6m30 1h6m-156 1h6m-4 0h6m-280 1h6m166 0h6m116 2h6m88 0h6m203 0h6m-363 1h6m29 0h6m67 0h6m17 1h6m-83 1h6m37 0h6m96 1h6m-363 1h6m376 0h6m-231 1h6m163 0h6m4 0h6m-19 2h6m-114 1h6m78 0h6m-18 1h6m18 0h6m18 0h6m-170 1h6m21 0h6m-3 0h6m74 1h6m-42 1h6m22 0h6m52 0h6m-88 1h6m7 0h6m7 0h6m-277 1h6m274 0h6m106 0h6m-111 1h6m-14 1h6m50 0h6m-81 1h6m92 1h6m-200 1h6m51 0h6m73 0h6m108 0h6m-245 1h6m192 0h6m19 0h6m-142 1h6m54 0h6m74 0h6m-194 2h6m61 0h6m88 1h6m16 0h6m-193 1h6m76 0h6m66 0h6m104 1h6m-311 1h6m206 1h6m-296 1h6m122 0h6m75 1h6m61 0h6m-115 1h6m63 0h6m103 0h6m-472 1h6m153 0h6m-150 3h6m132 0h6m26 0h6m96 0h6m-4 0h6m-206 2h6m-100 1h6m308 0h6m-220 1h6m346 0h6m-239 1h6m1 0h6m68 0h6m95 0h6m-198 1h6m171 0h6m-561 2h6m448 0h6m5 0h6m76 0h6m42 0h6m-158 1h6m108 0h6m-72 1h6m69 0h6m-3 0h6m-104 1h6m-102 1h6m68 0h6m-4 0h6m-89 3h6m39 0h6m63 0h6m-381 1h6m414 1h6m-347 1h6m17 0h6m45 0h6m43 1h6m42 1h6m85 0h6m-205 1h6m151 0h6m-4 0h6m-5 0h6m74 0h6m31 0h6m-114 1h6m6 0h6m89 0h6m-147 1h6m-92 1h6m298 0h6m-230 1h6m46 0h6m-121 1h6m133 1h6m56 0h6m-304 1h6m279 0h6m-131 1h6m71 0h6m84 0h6m-249 2h6m48 0h6m152 0h6m-102 1h6m135 0h6m-47 1h6m-1 0h6m-43 1h6m-199 1h6m141 0h6m44 0h6m-93 1h6m49 0h6m-216 1h6m176 0h6m0 0h6m-189 1h6m56 1h6m74 0h6m-229 1h6m199 0h6m-240 1h6m107 0h6m33 0h6m75 0h6m56 0h6m72 0h6m-428 1h6m441 0h6m-320 1h6m25 0h6m12 1h6m-4 0h6m68 0h6m-101 1h6m155 0h6m-23 1h6m33 0h6m14 0h6m154 0h6m-187 1h6m-104 1h6m11 0h6m59 0h6m163 1h6m-123 1h6m-264 1h6m227 0h6m-49 1h6m47 0h6m71 0h6m-42 1h6m-257 1h6m205 1h6m-4 0h6m-156 1h6m318 0h6m-514 1h6m-99 1h6m122 0h6m144 0h6m15 0h6m-1 0h6m28 1h6m101 0h6m-363 1h6m151 0h6m113 0h6m132 0h6m-323 1h6m391 0h6m-316 1h6m-197 1h6m80 0h6m33 0h6m-129 1h6m86 0h6m207 0h6m50 0h6m-213 1h6m127 0h6m-221 1h6m72 0h6m-118 1h6m372 0h6m-266 1h6m158 0h6m-258 2h6m-6 0h6m-57 2h6m142 0h6m60 0h6m-216 1h6m124 1h6m20 0h6m-199 1h6m386 0h6m-185 1h6m130 2h6m-292 1h6m96 0h6m34 0h6m-205 1h6m79 0h6m106 0h6m210 0h6m-555 1h6m288 0h6m15 0h6m-208 1h6m9 0h6m407 0h6m-263 1h6m-26 1h6m129 0h6m-13 1h6m-320 1h6m190 0h6m123 0h6m-158 1h6m18 0h6m-4 0h6m-6 0h6m79 0h6m22 0h6m-197 1h6m44 0h6m-5 2h6m177 0h6m186 0h6m-14 1h6m-365 1h6m132 0h6m20 0h6m-38 1h6m-255 1h6m42 0h6m-57 1h6m-53 1h6m159 1h6m42 0h6m-140 1h6m12 0h6m78 0h6m185 1h6m-386 1h6m45 0h6m10 2h6m64 0h6m28 0h6m25 0h6m-23 1h6m-3 0h6m2 0h6m3 0h6m-85 1h6m-17 1h6m53 0h6m80 0h6m-133 1h6m-3 0h6m-55 1h6m84 0h6m386 0h6m-515 1h6m161 0h6m120 0h6m-183 1h6m27 0h6m-5 0h6m16 0h6m-208 1h6m253 0h6m-121 1h6m-114 1h6m207 0h6m-227 1h6m14 0h6m83 0h6m-42 1h6m74 0h6m33 0h6m91 0h6m157 0h6m-505 1h6m332 0h6m168 1h6m-502 1h6m112 0h6m265 0h6m-488 1h6m38 1h6m35 0h6m137 0h6m16 0h6m29 0h6m81 0h6m1 0h6m-28 2h6m-317 1h6m151 0h6m2 0h6m506 0h6m-719 1h6m127 0h6m17 0h6m67 0h6m100 0h6m-2 0h6m-261 1h6m122 0h6m-107 1h6m521 0h6m-584 1h6m70 0h6m28 0h6m10 1h6m5 0h6m14 1h6m41 1h6m-217 1h6m83 0h6m70 0h6m176 0h6m145 0h6m-497 1h6m298 0h6m-188 1h6m94 1h6m278 0h6m-443 1h6m-5 0h6m21 1h6m58 0h6m1 0h6m-152 2h6m105 0h6m-113 1h6m102 0h6m-56 1h6m10 1h6m-36 1h6m138 0h6m-15 1h6m-45 2h6m52 0h6m-256 1h6m262 0h6m-224 1h6m166 0h6m-181 1h6m75 0h6m380 0h6m-418 1h6m21 0h6m49 0h6m-13 2h6m-132 1h6m60 0h6m-35 2h6m516 0h6m-457 1h6m17 0h6m92 0h6m-277 1h6m21 0h6m-69 2h6m41 0h6m103 1h6m-132 1h6m133 0h6m-159 1h6m206 2h6m-16 1h6m-159 1h6m119 0h6m4 0h6m24 0h6m-176 1h6m151 0h6m88 0h6m-81 1h6m47 0h6m-275 1h6m35 0h6m25 0h6m23 0h6m79 0h6m14 0h6m-221 1h6m96 0h6m77 0h6m-216 2h6m207 0h6m-104 1h6m-13 2h6m50 0h6m-55 2h6m172 0h6m-158 1h6m1 0h6m-55 1h6m234 0h6m-113 1h6m-192 1h6m71 1h6m52 1h6m-116 1h6m493 1h6m-314 1h6m11 0h6m-125 1h6m-85 1h6m68 2h6m51 0h6m32 2h6m-254 1h6m149 0h6m4 0h6m431 6h6m-476 1h6m388 0h6m-405 1h6m442 1h6m-444 2h6m481 1h6m-537 2h6m67 0h6m50 1h6m366 0h6m-588 1h6m80 4h6m50 0h6m184 0h6m-170 11h6m-182 6h6m187 2h6m-92 5h6m193 1h6m-219 3h6m122 0h6m-38 2h6m417 1h6m-430 6h6m-92 10h6m169 5h6m-319 60h6" stroke="#000" stroke-width="6" stroke-opacity="0.44" fill="none"/>
<path transform="scale(0.1)" d="M4706 466h6m-13 69h6m-103 12h6m62 7h6m-2 15h6m73 2h6m-68 5h6m-21 9h6m14 5h6m-21 1h6m77 0h6m-127 4h6m40 3h6m-70 6h6m133 7h6m-216 5h6m166 1h6m-221 1h6m210 0h6m-167 5h6m14 4h6m146 1h6m-174 1h6m-29 3h6m26 1h6m131 0h6m-126 1h6m18 0h6m-47 2h6m2 2h6m27 1h6m7 2h6m-143 1h6m77 0h6m8 0h6m-23 1h6m11 2h6m-78 2h6m-31 2h6m34 0h6m181 0h6m-242 1h6m44 0h6m91 0h6m-70 1h6m-69 1h6m209 1h6m-171 1h6m-5 0h6m87 1h6m47 0h6m-174 1h6m29 0h6m193 0h6m-193 2h6m-63 1h6m2 0h6m166 0h6m-84 1h6m-17 1h6m6 0h6m-119 2h6m35 0h6m159 0h6m-176 1h6m13 0h6m53 0h6m-163 2h6m106 2h6m0 0h6m37 1h6m-107 1h6m-1 0h6m-373 1h6m279 0h6m118 1h6m-5 0h6m24 0h6m67 0h6m-135 1h6m6 0h6m120 0h6m-130 1h6m4 0h6m-40 1h6m8 0h6m14 0h6m-24 1h6m-12 1h6m161 0h6m-166 1h6m-72 1h6m75 0h6m-111 2h6m9 0h6m60 0h6m-2 0h6m53 0h6m-129 1h6m54 0h6m59 0h6m38 0h6m-165 2h6m84 0h6m27 1h6m111 0h6m-215 1h6m75 0h6m58 1h6m-10 1h6m-64 1h6m100 0h6m-332 1h6m95 0h6m66 0h6m77 0h6m-204 1h6m193 0h6m-141 1h6m98 1h6m43 0h6m-117 1h6m43 1h6m90 2h6m-28 1h6m29 0h6m27 0h6m-94 1h6m18 0h6m-44 1h6m64 0h6m-49 1h6m-35 1h6m-141 1h6m-259 1h6m199 0h6m20 1h6m147 1h6m27 0h6m0 0h6m-140 1h6m41 0h6m112 0h6m-264 1h6m24 0h6m-4 0h6m273 0h6m-313 2h6m38 0h6m4 0h6m63 0h6m26 0h6m52 0h6m-41 1h6m-157 1h6m183 0h6m-116 1h6m111 0h6m-1 0h6m-136 1h6m126 0h6m32 1h6m4 0h6m-147 1h6m100 0h6m-120 1h6m-145 1h6m94 0h6m-37 1h6m51 0h6m53 0h6m11 0h6m-2 0h6m-108 1h6m97 0h6m-113 1h6m114 0h6m-168 2h6m130 0h6m-86 1h6m0 0h6m-77 1h6m4 0h6m40 0h6m-28 1h6m23 0h6m7 0h6m153 0h6m-84 1h6m-106 1h6m-1 0h6m185 0h6m-272 1h6m129 0h6m-69 1h6m57 0h6m49 0h6m54 0h6m-149 1h6m53 0h6m-169 1h6m48 0h6m32 0h6m-10 1h6m97 0h6m-149 1h6m68 1h6m80 0h6m-188 2h6m146 1h6m8 0h6m-106 1h6m6 0h6m92 0h6m-16 1h6m2 0h6m11 0h6m-123 1h6m20 0h6m-79 1h6m52 1h6m-50 2h6m109 0h6m-214 1h6m236 0h6m-200 1h6m-44 1h6m236 0h6m-5 0h6m-147 1h6m38 0h6m44 0h6m-68 1h6m17 0h6m-46 1h6m2 0h6m-59 1h6m2 0h6m12 0h6m61 1h6m20 0h6m-93 1h6m13 0h6m92 0h6m-197 1h6m221 0h6m-153 1h6m0 0h6m119 0h6m-226 1h6m64 0h6m105 0h6m-243 1h6m49 0h6m23 0h6m42 0h6m-11 1h6m99 0h6m-230 1h6m105 0h6m7 0h6m15 1h6m-151 1h6m110 0h6m46 0h6m29 0h6m12 0h6m-147 1h6m169 2h6m-167 1h6m-94 1h6m36 0h6m-51 1h6m51 0h6m30 1h6m34 0h6m-48 1h6m3 0h6m92 1h6m33 0h6m-260 1h6m188 0h6m-45 1h6m-64 1h6m23 0h6m71 0h6m-12 1h6m-194 1h6m44 0h6m83 0h6m33 1h6m-10 1h6m30 0h6m20 0h6m-106 1h6m13 0h6m-67 1h6m40 0h6m-74 1h6m61 0h6m-74 1h6m33 2h6m130 0h6m-282 1h6m119 0h6m61 0h6m-22 1h6m-162 1h6m57 0h6m47 0h6m26 1h6m13 0h6m41 0h6m-192 2h6m78 2h6m37 0h6m8 0h6m117 0h6m-288 1h6m187 0h6m26 1h6m-130 1h6m2 0h6m63 0h6m3 0h6m27 0h6m-224 1h6m1 0h6m120 1h6m-4 0h6m-56 1h6m-4 0h6m72 0h6m-136 3h6m40 0h6m54 0h6m-198 1h6m47 0h6m70 0h6m-119 1h6m82 1h6m-44 1h6m72 0h6m131 0h6m-137 1h6m14 1h6m-65 1h6m23 0h6m73 0h6m3 0h6m37 0h6m-85 1h6m-150 1h6m189 0h6m34 0h6m-132 1h6m36 0h6m-150 1h6m72 0h6m-5 0h6m15 0h6m38 0h6m25 1h6m106 1h6m-364 1h6m55 0h6m69 0h6m59 0h6m55 0h6m10 0h6m14 0h6m-256 1h6m-28 1h6m-2 0h6m75 0h6m52 0h6m27 0h6m-134 1h6m142 1h6m64 1h6m61 0h6m-234 1h6m118 0h6m-4 0h6m-259 2h6m97 0h6m43 0h6m7 0h6m-188 1h6m82 0h6m118 0h6m-179 1h6m32 0h6m29 0h6m107 0h6m55 0h6m-354 1h6m34 1h6m136 0h6m24 2h6m4 0h6m133 0h6m-110 1h6m-295 1h6m42 0h6m56 0h6m50 1h6m30 0h6m67 0h6m-2 0h6m-107 1h6m90 0h6m-69 1h6m126 0h6m26 0h6m-253 2h6m135 0h6m84 0h6m-380 1h6m216 0h6m71 0h6m-169 1h6m144 0h6m-244 1h6m43 0h6m139 0h6m-5 0h6m-4 0h6m70 0h6m-221 1h6m149 0h6m57 0h6m-269 1h6m48 0h6m9 0h6m-50 1h6m195 0h6m155 0h6m-300 1h6m223 0h6m-259 1h6m102 0h6m-48 1h6m-93 1h6m172 0h6m108 0h6m-65 1h6m60 0h6m-162 1h6m-4 0h6m122 0h6m-276 1h6m233 0h6m-218 1h6m45 0h6m4 0h6m22 0h6m226 0h6m-201 1h6m-191 1h6m163 0h6m48 0h6m147 1h6m-190 1h6m114 0h6m-149 1h6m18 0h6m16 0h6m-35 1h6m71 0h6m118 0h6m-238 1h6m41 0h6m-81 1h6m119 0h6m-24 1h6m9 0h6m-267 2h6m97 0h6m-104 1h6m147 1h6m-36 1h6m41 0h6m28 0h6m20 1h6m64 0h6m-381 1h6m302 0h6m-4 0h6m157 0h6m-318 2h6m254 0h6m-226 1h6m59 0h6m39 2h6m-466 1h6m176 0h6m65 0h6m182 0h6m55 0h6m-338 1h6m192 0h6m150 0h6m-334 1h6m15 1h6m80 0h6m35 0h6m211 0h6m-354 1h6m57 0h6m134 3h6m8 0h6m-61 1h6m-239 1h6m320 0h6m-177 1h6m187 1h6m-319 1h6m279 0h6m-248 1h6m101 0h6m-33 1h6m-3 1h6m-57 1h6m-150 1h6m117 0h6m48 0h6m-265 1h6m338 0h6m-324 1h6m192 0h6m71 0h6m-150 1h6m117 1h6m28 0h6m240 0h6m-376 1h6m38 0h6m-86 1h6m352 0h6m-351 1h6m408 0h6m-513 2h6m83 0h6m53 0h6m324 0h6m-417 1h6m249 0h6m82 0h6m17 1h6m-454 4h6m15 1h6m160 0h6m334 0h6m-349 1h6m113 0h6m-290 2h6m124 0h6m230 0h6m-340 2h6m97 0h6m0 0h6m-239 1h6m161 0h6m-1 0h6m35 0h6m59 0h6m0 0h6m78 0h6m-198 2h6m70 0h6m67 1h6m67 0h6m281 0h6m-399 2h6m-112 1h6m-77 1h6m11 1h6m477 0h6m-558 1h6m101 0h6m-60 1h6m21 0h6m60 0h6m328 0h6m69 0h6m-537 1h6m6 0h6m254 0h6m-268 1h6m24 0h6m431 1h6m-444 1h6m230 0h6m-401 1h6m80 0h6m43 0h6m208 1h6m-272 2h6m7 1h6m11 0h6m56 0h6m10 0h6m-56 1h6m234 0h6m232 0h6m-632 1h6m348 0h6m24 1h6m-363 1h6m64 0h6m118 0h6m412 0h6m-479 1h6m-50 1h6m74 0h6m-46 1h6m85 0h6m232 0h6m-313 1h6m336 0h6m43 0h6m-483 1h6m160 1h6m-189 1h6m97 0h6m26 0h6m34 0h6m16 0h6m36 1h6m-59 1h6m89 0h6m279 0h6m-398 1h6m28 0h6m-185 1h6m17 0h6m56 0h6m5 0h6m-61 1h6m250 0h6m-303 1h6m7 0h6m164 1h6m-224 1h6m91 0h6m-120 1h6m37 1h6m74 0h6m107 0h6m305 0h6m-293 1h6m-146 1h6m199 0h6m175 0h6m-432 1h6m58 0h6m-75 1h6m90 0h6m-177 1h6m119 0h6m34 1h6m-140 1h6m110 1h6m-55 1h6m-6 1h6m-132 1h6m13 0h6m29 0h6m88 0h6m122 0h6m-306 1h6m117 0h6m116 0h6m174 0h6m-403 1h6m37 0h6m9 0h6m-17 1h6m15 0h6m68 0h6m-89 1h6m22 0h6m2 0h6m20 0h6m-5 0h6m221 0h6m-318 1h6m63 0h6m26 0h6m-5 0h6m-18 1h6m6 0h6m166 0h6m-224 1h6m497 0h6m-596 2h6m81 0h6m-67 1h6m49 0h6m165 0h6m-255 1h6m300 0h6m55 0h6m-278 1h6m36 0h6m-132 2h6m86 0h6m40 1h6m7 0h6m-1 1h6m-102 2h6m-79 1h6m26 0h6m2 0h6m63 0h6m496 1h6m-682 1h6m57 0h6m101 1h6m50 1h6m53 2h6m-2 0h6m-219 2h6m92 0h6m47 1h6m-108 1h6m26 0h6m30 1h6m-92 1h6m104 0h6m-68 1h6m58 0h6m381 1h6m-459 1h6m99 0h6m399 0h6m-536 2h6m18 1h6m72 0h6m-82 1h6m103 0h6m-71 1h6m53 1h6m6 0h6m35 0h6m-262 1h6m58 1h6m62 3h6m-26 2h6m15 0h6m-41 1h6m-19 1h6m2 1h6m60 0h6m466 0h6m-486 1h6m-147 1h6m103 1h6m-62 2h6m16 0h6m448 3h6m-475 1h6m57 3h6m-118 2h6m-43 1h6m10 3h6m170 0h6m-17 4h6m-70 2h6m274 4h6m-340 1h6m-32 9h6m126 2h6m130 2h6m-143 3h6m-75 4h6m71 0h6m-147 3h6m77 0h6m-17 3h6m96 2h6m-115 1h6m-40 8h6m493 0h6m-528 2h6m-31 2h6m11 2h6m-127 1h6m149 6h6m109 29h6" stroke="#000" stroke-width="6" stroke-opacity="0.44" fill="none"/>
<circle cx="338.9" cy="75.5" r="13.1" fill="none" stroke="#222" stroke-width="1.0"/>
<path d="M343.6 63.4 V53.4 H369.7 V81.2 H349.6" fill="none" stroke="#444" stroke-width="0.9"/>
<path d="M365.7 81.2 H367.7 V113.4 H344.5 V87.2" fill="none" stroke="#444" stroke-width="0.9"/>
<circle cx="456.6" cy="74.8" r="13.4" fill="none" stroke="#222" stroke-width="1.0"/>
<path d="M461.2 63.0 V53.0 H487.6 V80.4 H467.2" fill="none" stroke="#444" stroke-width="0.9"/>
<path d="M483.8 80.4 H485.8 V113.4 H462.3 V86.4" fill="none" stroke="#444" stroke-width="0.9"/>
<text x="356.30" y="50.40" font-size="12" text-anchor="middle" fill="#111" stroke="#111" stroke-width="0.18">T2</text>
<text x="318.80" y="66.80" font-size="12" text-anchor="middle" fill="#111" stroke="#111" stroke-width="0.18">FO</text>
<text x="335.40" y="120.40" font-size="12" text-anchor="middle" fill="#111" stroke="#111" stroke-width="0.18">MZ</text>
<text x="467.60" y="50.40" font-size="12" text-anchor="middle" fill="#111" stroke="#111" stroke-width="0.18">T2</text>
<text x="429.10" y="66.80" font-size="12" text-anchor="middle" fill="#111" stroke="#111" stroke-width="0.18">FO</text>
<text x="449.90" y="120.40" font-size="12" text-anchor="middle" fill="#111" stroke="#111" stroke-width="0.18">MZ</text>
<text x="142.40" y="180.20" font-size="14" text-anchor="middle" fill="#111" stroke="#111" stroke-width="0.18">6–8 weeks old</text>
<text x="329.40" y="180.20" font-size="14" text-anchor="middle" fill="#111" stroke="#111" stroke-width="0.18">12–15 weeks old</text>
<text x="511.70" y="180.20" font-size="14" text-anchor="middle" fill="#111" stroke="#111" stroke-width="0.18">6–8 weeks old</text>
<text x="694.10" y="180.20" font-size="14" text-anchor="middle" fill="#111" stroke="#111" stroke-width="0.18">12–15 weeks old</text>
<text x="12.30" y="270.90" font-size="14" text-anchor="middle" fill="#111" stroke="#111" stroke-width="0.18" transform="rotate(-90 12.3 270.9)">MZ</text>
<text x="12.30" y="455.40" font-size="14" text-anchor="middle" fill="#111" stroke="#111" stroke-width="0.18" transform="rotate(-90 12.3 455.4)">T2</text>
<text x="12.30" y="650.30" font-size="14" text-anchor="middle" fill="#111" stroke="#111" stroke-width="0.18" transform="rotate(-90 12.3 650.3)">FO</text>
<text x="28.60" y="195.60" font-size="21" text-anchor="middle" font-weight="bold" fill="#000">b</text>
<text x="28.60" y="386.00" font-size="21" text-anchor="middle" font-weight="bold" fill="#000">c</text>
<text x="28.60" y="571.70" font-size="21" text-anchor="middle" font-weight="bold" fill="#000">d</text>
<text x="216.00" y="195.60" font-size="21" text-anchor="middle" font-weight="bold" fill="#000">e</text>
<text x="216.00" y="385.80" font-size="21" text-anchor="middle" font-weight="bold" fill="#000">f</text>
<text x="216.00" y="571.70" font-size="21" text-anchor="middle" font-weight="bold" fill="#000">g</text>
<text x="403.60" y="195.60" font-size="21" text-anchor="middle" font-weight="bold" fill="#000">h</text>
<text x="403.60" y="385.90" font-size="21" text-anchor="middle" font-weight="bold" fill="#000">i</text>
<text x="404.40" y="571.70" font-size="21" text-anchor="middle" font-weight="bold" fill="#000">j</text>
<text x="585.60" y="195.60" font-size="21" text-anchor="middle" font-weight="bold" fill="#000">k</text>
<text x="585.60" y="385.90" font-size="21" text-anchor="middle" font-weight="bold" fill="#000">l</text>
<text x="584.60" y="571.70" font-size="21" text-anchor="middle" font-weight="bold" fill="#000">m</text>
<g stroke="#3c3c3c" stroke-width="1.2" fill="none">
<path d="M94.5 235.5 V306 H190.5"/>
<path d="M92.5 306.00 H94.5"/>
<path d="M92.5 291.90 H94.5"/>
<path d="M92.5 277.80 H94.5"/>
<path d="M92.5 263.70 H94.5"/>
<path d="M92.5 249.60 H94.5"/>
<path d="M92.5 235.50 H94.5"/>
<path d="M110.7 306 V308"/>
<path d="M142.6 306 V308"/>
<path d="M174.3 306 V308"/>
</g>
<text x="85.80" y="310.00" font-size="12" text-anchor="end" fill="#111" stroke="#111" stroke-width="0.18">0</text>
<text x="91.00" y="295.90" font-size="12" text-anchor="end" fill="#111" stroke="#111" stroke-width="0.18">2×10<tspan font-size="9.3" dy="-5.1">6</tspan></text>
<text x="91.00" y="281.80" font-size="12" text-anchor="end" fill="#111" stroke="#111" stroke-width="0.18">4×10<tspan font-size="9.3" dy="-5.1">6</tspan></text>
<text x="91.00" y="267.70" font-size="12" text-anchor="end" fill="#111" stroke="#111" stroke-width="0.18">6×10<tspan font-size="9.3" dy="-5.1">6</tspan></text>
<text x="91.00" y="253.60" font-size="12" text-anchor="end" fill="#111" stroke="#111" stroke-width="0.18">8×10<tspan font-size="9.3" dy="-5.1">6</tspan></text>
<text x="91.00" y="239.50" font-size="12" text-anchor="end" fill="#111" stroke="#111" stroke-width="0.18">1×10<tspan font-size="9.3" dy="-5.1">7</tspan></text>
<polyline points="110.7,305.6 142.6,303.3 174.3,270.8" fill="none" stroke="#7a7a7a" stroke-width="1.1"/>
<rect x="108.9" y="303.8" width="3.6" height="3.6" fill="#7a7a7a"/>
<path d="M142.6 302.6 V304.0 M140.6 302.6 H144.6 M140.6 304.0 H144.6" stroke="#7a7a7a" stroke-width="1" fill="none"/>
<rect x="140.79999999999998" y="301.5" width="3.6" height="3.6" fill="#7a7a7a"/>
<path d="M174.3 267.2 V274.3 M172.3 267.2 H176.3 M172.3 274.3 H176.3" stroke="#7a7a7a" stroke-width="1" fill="none"/>
<rect x="172.5" y="268.9" width="3.6" height="3.6" fill="#7a7a7a"/>
<polyline points="110.7,281.7 142.6,286.4 174.3,262.5" fill="none" stroke="#111" stroke-width="1.3"/>
<circle cx="110.7" cy="281.7" r="1.9" fill="#111"/>
<circle cx="142.6" cy="286.4" r="1.9" fill="#111"/>
<path d="M174.3 259.0 V266.0 M172.3 259.0 H176.3 M172.3 266.0 H176.3" stroke="#111" stroke-width="1" fill="none"/>
<circle cx="174.3" cy="262.5" r="1.9" fill="#111"/>
<path d="M105.60 263.75 L106.25 265.41 L108.03 265.51 L106.65 266.64 L107.10 268.36 L105.60 267.40 L104.10 268.36 L104.55 266.64 L103.17 265.51 L104.95 265.41Z M110.70 263.75 L111.35 265.41 L113.13 265.51 L111.75 266.64 L112.20 268.36 L110.70 267.40 L109.20 268.36 L109.65 266.64 L108.27 265.51 L110.05 265.41Z M115.80 263.75 L116.45 265.41 L118.23 265.51 L116.85 266.64 L117.30 268.36 L115.80 267.40 L114.30 268.36 L114.75 266.64 L113.37 265.51 L115.15 265.41Z" fill="#111"/>
<path d="M137.50 263.75 L138.15 265.41 L139.93 265.51 L138.55 266.64 L139.00 268.36 L137.50 267.40 L136.00 268.36 L136.45 266.64 L135.07 265.51 L136.85 265.41Z M142.60 263.75 L143.25 265.41 L145.03 265.51 L143.65 266.64 L144.10 268.36 L142.60 267.40 L141.10 268.36 L141.55 266.64 L140.17 265.51 L141.95 265.41Z M147.70 263.75 L148.35 265.41 L150.13 265.51 L148.75 266.64 L149.20 268.36 L147.70 267.40 L146.20 268.36 L146.65 266.64 L145.27 265.51 L147.05 265.41Z" fill="#111"/>
<text x="33.60" y="271.90" font-size="14" text-anchor="middle" fill="#111" stroke="#111" stroke-width="0.18" transform="rotate(-90 33.6 271.9)">CD19<tspan font-size="9.2" dy="-4.8">+</tspan><tspan dy="4.8">CD21</tspan><tspan font-size="9.2" dy="-4.8">hi</tspan><tspan dy="4.8">CD23</tspan><tspan font-size="9.2" dy="-4.8">low</tspan></text>
<text x="50.50" y="271.90" font-size="14" text-anchor="middle" fill="#111" stroke="#111" stroke-width="0.18" transform="rotate(-90 50.5 271.9)">(number of cells)</text>
<text x="115.90" y="316.00" font-size="12" text-anchor="end" fill="#111" stroke="#111" stroke-width="0.18" transform="rotate(-45 115.9 316.0)">24 h</text>
<text x="145.70" y="317.90" font-size="12" text-anchor="end" fill="#111" stroke="#111" stroke-width="0.18" transform="rotate(-45 145.7 317.9)">8 weeks</text>
<text x="178.30" y="315.70" font-size="12" text-anchor="end" fill="#111" stroke="#111" stroke-width="0.18" transform="rotate(-45 178.3 315.7)">12 weeks</text>
<g stroke="#3c3c3c" stroke-width="1.2" fill="none">
<path d="M282.3 237.1 V305.5 H375.8"/>
<path d="M280.3 305.50 H282.3"/>
<path d="M280.3 291.82 H282.3"/>
<path d="M280.3 278.14 H282.3"/>
<path d="M280.3 264.46 H282.3"/>
<path d="M280.3 250.78 H282.3"/>
<path d="M280.3 237.10 H282.3"/>
<path d="M297.8 305.5 V307.5"/>
<path d="M329.4 305.5 V307.5"/>
<path d="M360.8 305.5 V307.5"/>
</g>
<text x="273.60" y="309.50" font-size="12" text-anchor="end" fill="#111" stroke="#111" stroke-width="0.18">0</text>
<text x="278.80" y="295.82" font-size="12" text-anchor="end" fill="#111" stroke="#111" stroke-width="0.18">2×10<tspan font-size="9.3" dy="-5.1">6</tspan></text>
<text x="278.80" y="282.14" font-size="12" text-anchor="end" fill="#111" stroke="#111" stroke-width="0.18">4×10<tspan font-size="9.3" dy="-5.1">6</tspan></text>
<text x="278.80" y="268.46" font-size="12" text-anchor="end" fill="#111" stroke="#111" stroke-width="0.18">6×10<tspan font-size="9.3" dy="-5.1">6</tspan></text>
<text x="278.80" y="254.78" font-size="12" text-anchor="end" fill="#111" stroke="#111" stroke-width="0.18">8×10<tspan font-size="9.3" dy="-5.1">6</tspan></text>
<text x="278.80" y="241.10" font-size="12" text-anchor="end" fill="#111" stroke="#111" stroke-width="0.18">1×10<tspan font-size="9.3" dy="-5.1">7</tspan></text>
<polyline points="297.8,305.3 329.4,298.0 360.8,280.3" fill="none" stroke="#7a7a7a" stroke-width="1.1"/>
<rect x="296.0" y="303.5" width="3.6" height="3.6" fill="#7a7a7a"/>
<path d="M329.4 295.9 V300.0 M327.4 295.9 H331.4 M327.4 300.0 H331.4" stroke="#7a7a7a" stroke-width="1" fill="none"/>
<rect x="327.59999999999997" y="296.2" width="3.6" height="3.6" fill="#7a7a7a"/>
<path d="M360.8 278.3 V282.4 M358.8 278.3 H362.8 M358.8 282.4 H362.8" stroke="#7a7a7a" stroke-width="1" fill="none"/>
<rect x="359.0" y="278.5" width="3.6" height="3.6" fill="#7a7a7a"/>
<polyline points="297.8,272.3 329.4,254.5 360.8,273.8" fill="none" stroke="#111" stroke-width="1.3"/>
<path d="M297.8 265.8 V278.8 M295.8 265.8 H299.8 M295.8 278.8 H299.8" stroke="#111" stroke-width="1" fill="none"/>
<circle cx="297.8" cy="272.3" r="1.9" fill="#111"/>
<path d="M329.4 248.7 V260.3 M327.4 248.7 H331.4 M327.4 260.3 H331.4" stroke="#111" stroke-width="1" fill="none"/>
<circle cx="329.4" cy="254.5" r="1.9" fill="#111"/>
<path d="M360.8 269.7 V277.9 M358.8 269.7 H362.8 M358.8 277.9 H362.8" stroke="#111" stroke-width="1" fill="none"/>
<circle cx="360.8" cy="273.8" r="1.9" fill="#111"/>
<path d="M295.25 254.75 L295.90 256.41 L297.68 256.51 L296.30 257.64 L296.75 259.36 L295.25 258.40 L293.75 259.36 L294.20 257.64 L292.82 256.51 L294.60 256.41Z M300.35 254.75 L301.00 256.41 L302.78 256.51 L301.40 257.64 L301.85 259.36 L300.35 258.40 L298.85 259.36 L299.30 257.64 L297.92 256.51 L299.70 256.41Z" fill="#111"/>
<path d="M324.30 239.75 L324.95 241.41 L326.73 241.51 L325.35 242.64 L325.80 244.36 L324.30 243.40 L322.80 244.36 L323.25 242.64 L321.87 241.51 L323.65 241.41Z M329.40 239.75 L330.05 241.41 L331.83 241.51 L330.45 242.64 L330.90 244.36 L329.40 243.40 L327.90 244.36 L328.35 242.64 L326.97 241.51 L328.75 241.41Z M334.50 239.75 L335.15 241.41 L336.93 241.51 L335.55 242.64 L336.00 244.36 L334.50 243.40 L333.00 244.36 L333.45 242.64 L332.07 241.51 L333.85 241.41Z" fill="#111"/>
<text x="221.60" y="271.90" font-size="14" text-anchor="middle" fill="#111" stroke="#111" stroke-width="0.18" transform="rotate(-90 221.6 271.9)">CD19<tspan font-size="9.2" dy="-4.8">+</tspan><tspan dy="4.8">CD21</tspan><tspan font-size="9.2" dy="-4.8">hi</tspan><tspan dy="4.8">CD23</tspan><tspan font-size="9.2" dy="-4.8">low</tspan></text>
<text x="238.50" y="271.90" font-size="14" text-anchor="middle" fill="#111" stroke="#111" stroke-width="0.18" transform="rotate(-90 238.5 271.9)">(number of cells)</text>
<text x="303.00" y="315.50" font-size="12" text-anchor="end" fill="#111" stroke="#111" stroke-width="0.18" transform="rotate(-45 303.0 315.5)">24 h</text>
<text x="333.20" y="315.30" font-size="12" text-anchor="end" fill="#111" stroke="#111" stroke-width="0.18" transform="rotate(-45 333.2 315.3)">8 weeks</text>
<text x="364.80" y="315.20" font-size="12" text-anchor="end" fill="#111" stroke="#111" stroke-width="0.18" transform="rotate(-45 364.8 315.2)">12 weeks</text>
<g stroke="#3c3c3c" stroke-width="1.2" fill="none">
<path d="M94.8 420.6 V491 H190.3"/>
<path d="M92.8 491.00 H94.8"/>
<path d="M92.8 467.53 H94.8"/>
<path d="M92.8 444.07 H94.8"/>
<path d="M92.8 420.60 H94.8"/>
<path d="M110.8 491 V493"/>
<path d="M142.7 491 V493"/>
<path d="M174.4 491 V493"/>
</g>
<text x="86.10" y="495.00" font-size="12" text-anchor="end" fill="#111" stroke="#111" stroke-width="0.18">0</text>
<text x="91.30" y="471.53" font-size="12" text-anchor="end" fill="#111" stroke="#111" stroke-width="0.18">1×10<tspan font-size="9.3" dy="-5.1">6</tspan></text>
<text x="91.30" y="448.07" font-size="12" text-anchor="end" fill="#111" stroke="#111" stroke-width="0.18">2×10<tspan font-size="9.3" dy="-5.1">6</tspan></text>
<text x="91.30" y="424.60" font-size="12" text-anchor="end" fill="#111" stroke="#111" stroke-width="0.18">3×10<tspan font-size="9.3" dy="-5.1">6</tspan></text>
<polyline points="110.8,490.5 142.7,481.6 174.4,449.5" fill="none" stroke="#7a7a7a" stroke-width="1.1"/>
<rect x="109.0" y="488.7" width="3.6" height="3.6" fill="#7a7a7a"/>
<path d="M142.7 480.6 V482.7 M140.7 480.6 H144.7 M140.7 482.7 H144.7" stroke="#7a7a7a" stroke-width="1" fill="none"/>
<rect x="140.89999999999998" y="479.8" width="3.6" height="3.6" fill="#7a7a7a"/>
<path d="M174.4 445.0 V453.9 M172.4 445.0 H176.4 M172.4 453.9 H176.4" stroke="#7a7a7a" stroke-width="1" fill="none"/>
<rect x="172.6" y="447.7" width="3.6" height="3.6" fill="#7a7a7a"/>
<polyline points="110.8,478.1 142.7,478.5 174.4,437.7" fill="none" stroke="#111" stroke-width="1.3"/>
<path d="M110.8 476.2 V480.0 M108.8 476.2 H112.8 M108.8 480.0 H112.8" stroke="#111" stroke-width="1" fill="none"/>
<circle cx="110.8" cy="478.1" r="1.9" fill="#111"/>
<circle cx="142.7" cy="478.5" r="1.9" fill="#111"/>
<path d="M174.4 427.9 V447.6 M172.4 427.9 H176.4 M172.4 447.6 H176.4" stroke="#111" stroke-width="1" fill="none"/>
<circle cx="174.4" cy="437.7" r="1.9" fill="#111"/>
<path d="M105.70 449.25 L106.35 450.91 L108.13 451.01 L106.75 452.14 L107.20 453.86 L105.70 452.90 L104.20 453.86 L104.65 452.14 L103.27 451.01 L105.05 450.91Z M110.80 449.25 L111.45 450.91 L113.23 451.01 L111.85 452.14 L112.30 453.86 L110.80 452.90 L109.30 453.86 L109.75 452.14 L108.37 451.01 L110.15 450.91Z M115.90 449.25 L116.55 450.91 L118.33 451.01 L116.95 452.14 L117.40 453.86 L115.90 452.90 L114.40 453.86 L114.85 452.14 L113.47 451.01 L115.25 450.91Z" fill="#111"/>
<text x="33.60" y="456.80" font-size="14" text-anchor="middle" fill="#111" stroke="#111" stroke-width="0.18" transform="rotate(-90 33.6 456.8)">CD19<tspan font-size="9.2" dy="-4.8">+</tspan><tspan dy="4.8">CD21</tspan><tspan font-size="9.2" dy="-4.8">hi</tspan><tspan dy="4.8">CD23</tspan><tspan font-size="9.2" dy="-4.8">hi</tspan></text>
<text x="50.50" y="456.80" font-size="14" text-anchor="middle" fill="#111" stroke="#111" stroke-width="0.18" transform="rotate(-90 50.5 456.8)">(number of cells)</text>
<text x="116.00" y="501.00" font-size="12" text-anchor="end" fill="#111" stroke="#111" stroke-width="0.18" transform="rotate(-45 116.0 501.0)">24 h</text>
<text x="146.50" y="500.80" font-size="12" text-anchor="end" fill="#111" stroke="#111" stroke-width="0.18" transform="rotate(-45 146.5 500.8)">8 weeks</text>
<text x="178.40" y="500.70" font-size="12" text-anchor="end" fill="#111" stroke="#111" stroke-width="0.18" transform="rotate(-45 178.4 500.7)">12 weeks</text>
<g stroke="#3c3c3c" stroke-width="1.2" fill="none">
<path d="M281.8 422.2 V491 H375.9"/>
<path d="M279.8 491.00 H281.8"/>
<path d="M279.8 468.07 H281.8"/>
<path d="M279.8 445.13 H281.8"/>
<path d="M279.8 422.20 H281.8"/>
<path d="M297.8 491 V493"/>
<path d="M329.5 491 V493"/>
<path d="M360.9 491 V493"/>
</g>
<text x="273.10" y="495.00" font-size="12" text-anchor="end" fill="#111" stroke="#111" stroke-width="0.18">0</text>
<text x="278.30" y="472.07" font-size="12" text-anchor="end" fill="#111" stroke="#111" stroke-width="0.18">1×10<tspan font-size="9.3" dy="-5.1">6</tspan></text>
<text x="278.30" y="449.13" font-size="12" text-anchor="end" fill="#111" stroke="#111" stroke-width="0.18">2×10<tspan font-size="9.3" dy="-5.1">6</tspan></text>
<text x="278.30" y="426.20" font-size="12" text-anchor="end" fill="#111" stroke="#111" stroke-width="0.18">3×10<tspan font-size="9.3" dy="-5.1">6</tspan></text>
<polyline points="297.8,490.6 329.5,487.0 360.9,470.7" fill="none" stroke="#7a7a7a" stroke-width="1.1"/>
<rect x="296.0" y="488.8" width="3.6" height="3.6" fill="#7a7a7a"/>
<path d="M329.5 486.3 V487.7 M327.5 486.3 H331.5 M327.5 487.7 H331.5" stroke="#7a7a7a" stroke-width="1" fill="none"/>
<rect x="327.7" y="485.2" width="3.6" height="3.6" fill="#7a7a7a"/>
<path d="M360.9 468.2 V473.2 M358.9 468.2 H362.9 M358.9 473.2 H362.9" stroke="#7a7a7a" stroke-width="1" fill="none"/>
<rect x="359.09999999999997" y="468.9" width="3.6" height="3.6" fill="#7a7a7a"/>
<polyline points="297.8,464.2 329.5,478.6 360.9,472.4" fill="none" stroke="#111" stroke-width="1.3"/>
<path d="M297.8 459.4 V469.1 M295.8 459.4 H299.8 M295.8 469.1 H299.8" stroke="#111" stroke-width="1" fill="none"/>
<circle cx="297.8" cy="464.2" r="1.9" fill="#111"/>
<path d="M329.5 477.2 V480.0 M327.5 477.2 H331.5 M327.5 480.0 H331.5" stroke="#111" stroke-width="1" fill="none"/>
<circle cx="329.5" cy="478.6" r="1.9" fill="#111"/>
<path d="M360.9 468.0 V476.8 M358.9 468.0 H362.9 M358.9 476.8 H362.9" stroke="#111" stroke-width="1" fill="none"/>
<circle cx="360.9" cy="472.4" r="1.9" fill="#111"/>
<path d="M292.70 449.75 L293.35 451.41 L295.13 451.51 L293.75 452.64 L294.20 454.36 L292.70 453.40 L291.20 454.36 L291.65 452.64 L290.27 451.51 L292.05 451.41Z M297.80 449.75 L298.45 451.41 L300.23 451.51 L298.85 452.64 L299.30 454.36 L297.80 453.40 L296.30 454.36 L296.75 452.64 L295.37 451.51 L297.15 451.41Z M302.90 449.75 L303.55 451.41 L305.33 451.51 L303.95 452.64 L304.40 454.36 L302.90 453.40 L301.40 454.36 L301.85 452.64 L300.47 451.51 L302.25 451.41Z" fill="#111"/>
<path d="M324.40 461.75 L325.05 463.41 L326.83 463.51 L325.45 464.64 L325.90 466.36 L324.40 465.40 L322.90 466.36 L323.35 464.64 L321.97 463.51 L323.75 463.41Z M329.50 461.75 L330.15 463.41 L331.93 463.51 L330.55 464.64 L331.00 466.36 L329.50 465.40 L328.00 466.36 L328.45 464.64 L327.07 463.51 L328.85 463.41Z M334.60 461.75 L335.25 463.41 L337.03 463.51 L335.65 464.64 L336.10 466.36 L334.60 465.40 L333.10 466.36 L333.55 464.64 L332.17 463.51 L333.95 463.41Z" fill="#111"/>
<text x="221.60" y="456.80" font-size="14" text-anchor="middle" fill="#111" stroke="#111" stroke-width="0.18" transform="rotate(-90 221.6 456.8)">CD19<tspan font-size="9.2" dy="-4.8">+</tspan><tspan dy="4.8">CD21</tspan><tspan font-size="9.2" dy="-4.8">hi</tspan><tspan dy="4.8">CD23</tspan><tspan font-size="9.2" dy="-4.8">hi</tspan></text>
<text x="238.50" y="456.80" font-size="14" text-anchor="middle" fill="#111" stroke="#111" stroke-width="0.18" transform="rotate(-90 238.5 456.8)">(number of cells)</text>
<text x="303.00" y="501.00" font-size="12" text-anchor="end" fill="#111" stroke="#111" stroke-width="0.18" transform="rotate(-45 303.0 501.0)">24 h</text>
<text x="333.30" y="500.80" font-size="12" text-anchor="end" fill="#111" stroke="#111" stroke-width="0.18" transform="rotate(-45 333.3 500.8)">8 weeks</text>
<text x="364.90" y="500.70" font-size="12" text-anchor="end" fill="#111" stroke="#111" stroke-width="0.18" transform="rotate(-45 364.9 500.7)">12 weeks</text>
<g stroke="#3c3c3c" stroke-width="1.2" fill="none">
<path d="M94.9 615 V685.3 H190.3"/>
<path d="M92.9 685.30 H94.9"/>
<path d="M92.9 667.72 H94.9"/>
<path d="M92.9 650.15 H94.9"/>
<path d="M92.9 632.58 H94.9"/>
<path d="M92.9 615.00 H94.9"/>
<path d="M110.5 685.3 V687.3"/>
<path d="M142.4 685.3 V687.3"/>
<path d="M174.1 685.3 V687.3"/>
</g>
<text x="86.20" y="689.30" font-size="12" text-anchor="end" fill="#111" stroke="#111" stroke-width="0.18">0</text>
<text x="91.40" y="671.72" font-size="12" text-anchor="end" fill="#111" stroke="#111" stroke-width="0.18">1×10<tspan font-size="9.3" dy="-5.1">7</tspan></text>
<text x="91.40" y="654.15" font-size="12" text-anchor="end" fill="#111" stroke="#111" stroke-width="0.18">2×10<tspan font-size="9.3" dy="-5.1">7</tspan></text>
<text x="91.40" y="636.58" font-size="12" text-anchor="end" fill="#111" stroke="#111" stroke-width="0.18">3×10<tspan font-size="9.3" dy="-5.1">7</tspan></text>
<text x="91.40" y="619.00" font-size="12" text-anchor="end" fill="#111" stroke="#111" stroke-width="0.18">4×10<tspan font-size="9.3" dy="-5.1">7</tspan></text>
<polyline points="110.5,683.5 142.4,677.9 174.1,656.5" fill="none" stroke="#7a7a7a" stroke-width="1.1"/>
<rect x="108.7" y="681.7" width="3.6" height="3.6" fill="#7a7a7a"/>
<path d="M142.4 677.2 V678.6 M140.4 677.2 H144.4 M140.4 678.6 H144.4" stroke="#7a7a7a" stroke-width="1" fill="none"/>
<rect x="140.6" y="676.1" width="3.6" height="3.6" fill="#7a7a7a"/>
<path d="M174.1 654.4 V658.6 M172.1 654.4 H176.1 M172.1 658.6 H176.1" stroke="#7a7a7a" stroke-width="1" fill="none"/>
<rect x="172.29999999999998" y="654.7" width="3.6" height="3.6" fill="#7a7a7a"/>
<polyline points="110.5,663.7 142.4,663.9 174.1,654.6" fill="none" stroke="#111" stroke-width="1.3"/>
<path d="M110.5 661.6 V665.8 M108.5 661.6 H112.5 M108.5 665.8 H112.5" stroke="#111" stroke-width="1" fill="none"/>
<circle cx="110.5" cy="663.7" r="1.9" fill="#111"/>
<circle cx="142.4" cy="663.9" r="1.9" fill="#111"/>
<path d="M174.1 650.1 V659.0 M172.1 650.1 H176.1 M172.1 659.0 H176.1" stroke="#111" stroke-width="1" fill="none"/>
<circle cx="174.1" cy="654.6" r="1.9" fill="#111"/>
<path d="M105.40 642.75 L106.05 644.41 L107.83 644.51 L106.45 645.64 L106.90 647.36 L105.40 646.40 L103.90 647.36 L104.35 645.64 L102.97 644.51 L104.75 644.41Z M110.50 642.75 L111.15 644.41 L112.93 644.51 L111.55 645.64 L112.00 647.36 L110.50 646.40 L109.00 647.36 L109.45 645.64 L108.07 644.51 L109.85 644.41Z M115.60 642.75 L116.25 644.41 L118.03 644.51 L116.65 645.64 L117.10 647.36 L115.60 646.40 L114.10 647.36 L114.55 645.64 L113.17 644.51 L114.95 644.41Z" fill="#111"/>
<path d="M137.30 642.75 L137.95 644.41 L139.73 644.51 L138.35 645.64 L138.80 647.36 L137.30 646.40 L135.80 647.36 L136.25 645.64 L134.87 644.51 L136.65 644.41Z M142.40 642.75 L143.05 644.41 L144.83 644.51 L143.45 645.64 L143.90 647.36 L142.40 646.40 L140.90 647.36 L141.35 645.64 L139.97 644.51 L141.75 644.41Z M147.50 642.75 L148.15 644.41 L149.93 644.51 L148.55 645.64 L149.00 647.36 L147.50 646.40 L146.00 647.36 L146.45 645.64 L145.07 644.51 L146.85 644.41Z" fill="#111"/>
<text x="33.60" y="650.80" font-size="14" text-anchor="middle" fill="#111" stroke="#111" stroke-width="0.18" transform="rotate(-90 33.6 650.8)">CD19<tspan font-size="9.2" dy="-4.8">+</tspan><tspan dy="4.8">CD21</tspan><tspan font-size="9.2" dy="-4.8">low</tspan><tspan dy="4.8">CD23</tspan><tspan font-size="9.2" dy="-4.8">hi</tspan></text>
<text x="50.50" y="650.80" font-size="14" text-anchor="middle" fill="#111" stroke="#111" stroke-width="0.18" transform="rotate(-90 50.5 650.8)">(number of cells)</text>
<text x="115.70" y="695.30" font-size="12" text-anchor="end" fill="#111" stroke="#111" stroke-width="0.18" transform="rotate(-45 115.7 695.3)">24 h</text>
<text x="146.20" y="695.10" font-size="12" text-anchor="end" fill="#111" stroke="#111" stroke-width="0.18" transform="rotate(-45 146.20000000000002 695.0999999999999)">8 weeks</text>
<text x="178.10" y="695.00" font-size="12" text-anchor="end" fill="#111" stroke="#111" stroke-width="0.18" transform="rotate(-45 178.1 695.0)">12 weeks</text>
<g stroke="#3c3c3c" stroke-width="1.2" fill="none">
<path d="M281.8 616 V685.3 H375.9"/>
<path d="M279.8 685.30 H281.8"/>
<path d="M279.8 667.97 H281.8"/>
<path d="M279.8 650.65 H281.8"/>
<path d="M279.8 633.33 H281.8"/>
<path d="M279.8 616.00 H281.8"/>
<path d="M297.8 685.3 V687.3"/>
<path d="M329.5 685.3 V687.3"/>
<path d="M360.4 685.3 V687.3"/>
</g>
<text x="273.10" y="689.30" font-size="12" text-anchor="end" fill="#111" stroke="#111" stroke-width="0.18">0</text>
<text x="278.30" y="671.97" font-size="12" text-anchor="end" fill="#111" stroke="#111" stroke-width="0.18">1×10<tspan font-size="9.3" dy="-5.1">7</tspan></text>
<text x="278.30" y="654.65" font-size="12" text-anchor="end" fill="#111" stroke="#111" stroke-width="0.18">2×10<tspan font-size="9.3" dy="-5.1">7</tspan></text>
<text x="278.30" y="637.33" font-size="12" text-anchor="end" fill="#111" stroke="#111" stroke-width="0.18">3×10<tspan font-size="9.3" dy="-5.1">7</tspan></text>
<text x="278.30" y="620.00" font-size="12" text-anchor="end" fill="#111" stroke="#111" stroke-width="0.18">4×10<tspan font-size="9.3" dy="-5.1">7</tspan></text>
<polyline points="297.8,683.9 329.5,670.2 360.4,648.6" fill="none" stroke="#7a7a7a" stroke-width="1.1"/>
<rect x="296.0" y="682.1" width="3.6" height="3.6" fill="#7a7a7a"/>
<path d="M329.5 666.4 V674.0 M327.5 666.4 H331.5 M327.5 674.0 H331.5" stroke="#7a7a7a" stroke-width="1" fill="none"/>
<rect x="327.7" y="668.4" width="3.6" height="3.6" fill="#7a7a7a"/>
<path d="M360.4 644.1 V653.1 M358.4 644.1 H362.4 M358.4 653.1 H362.4" stroke="#7a7a7a" stroke-width="1" fill="none"/>
<rect x="358.59999999999997" y="646.8" width="3.6" height="3.6" fill="#7a7a7a"/>
<polyline points="297.8,665.2 329.5,631.7 360.4,648.1" fill="none" stroke="#111" stroke-width="1.3"/>
<path d="M297.8 662.9 V667.5 M295.8 662.9 H299.8 M295.8 667.5 H299.8" stroke="#111" stroke-width="1" fill="none"/>
<circle cx="297.8" cy="665.2" r="1.9" fill="#111"/>
<path d="M329.5 627.4 V636.0 M327.5 627.4 H331.5 M327.5 636.0 H331.5" stroke="#111" stroke-width="1" fill="none"/>
<circle cx="329.5" cy="631.7" r="1.9" fill="#111"/>
<path d="M360.4 642.5 V653.6 M358.4 642.5 H362.4 M358.4 653.6 H362.4" stroke="#111" stroke-width="1" fill="none"/>
<circle cx="360.4" cy="648.1" r="1.9" fill="#111"/>
<path d="M295.25 643.45 L295.90 645.11 L297.68 645.21 L296.30 646.34 L296.75 648.06 L295.25 647.10 L293.75 648.06 L294.20 646.34 L292.82 645.21 L294.60 645.11Z M300.35 643.45 L301.00 645.11 L302.78 645.21 L301.40 646.34 L301.85 648.06 L300.35 647.10 L298.85 648.06 L299.30 646.34 L297.92 645.21 L299.70 645.11Z" fill="#111"/>
<path d="M324.40 615.55 L325.05 617.21 L326.83 617.31 L325.45 618.44 L325.90 620.16 L324.40 619.20 L322.90 620.16 L323.35 618.44 L321.97 617.31 L323.75 617.21Z M329.50 615.55 L330.15 617.21 L331.93 617.31 L330.55 618.44 L331.00 620.16 L329.50 619.20 L328.00 620.16 L328.45 618.44 L327.07 617.31 L328.85 617.21Z M334.60 615.55 L335.25 617.21 L337.03 617.31 L335.65 618.44 L336.10 620.16 L334.60 619.20 L333.10 620.16 L333.55 618.44 L332.17 617.31 L333.95 617.21Z" fill="#111"/>
<text x="221.60" y="650.80" font-size="14" text-anchor="middle" fill="#111" stroke="#111" stroke-width="0.18" transform="rotate(-90 221.6 650.8)">CD19<tspan font-size="9.2" dy="-4.8">+</tspan><tspan dy="4.8">CD21</tspan><tspan font-size="9.2" dy="-4.8">low</tspan><tspan dy="4.8">CD23</tspan><tspan font-size="9.2" dy="-4.8">hi</tspan></text>
<text x="238.50" y="650.80" font-size="14" text-anchor="middle" fill="#111" stroke="#111" stroke-width="0.18" transform="rotate(-90 238.5 650.8)">(number of cells)</text>
<text x="303.00" y="695.30" font-size="12" text-anchor="end" fill="#111" stroke="#111" stroke-width="0.18" transform="rotate(-45 303.0 695.3)">24 h</text>
<text x="333.30" y="695.10" font-size="12" text-anchor="end" fill="#111" stroke="#111" stroke-width="0.18" transform="rotate(-45 333.3 695.0999999999999)">8 weeks</text>
<text x="364.40" y="695.00" font-size="12" text-anchor="end" fill="#111" stroke="#111" stroke-width="0.18" transform="rotate(-45 364.4 695.0)">12 weeks</text>
<g stroke="#3c3c3c" stroke-width="1.2" fill="none">
<path d="M460 230.4 V305.6 H561.8"/>
<path d="M458 305.60 H460"/>
<path d="M458 286.80 H460"/>
<path d="M458 268.00 H460"/>
<path d="M458 249.20 H460"/>
<path d="M458 230.40 H460"/>
<path d="M477 305.6 V307.6"/>
<path d="M511 305.6 V307.6"/>
<path d="M545.2 305.6 V307.6"/>
</g>
<text x="454.50" y="309.70" font-size="12" text-anchor="end" fill="#111" stroke="#111" stroke-width="0.18">0</text>
<text x="454.50" y="290.90" font-size="12" text-anchor="end" fill="#111" stroke="#111" stroke-width="0.18">50</text>
<text x="454.50" y="272.10" font-size="12" text-anchor="end" fill="#111" stroke="#111" stroke-width="0.18">100</text>
<text x="454.50" y="253.30" font-size="12" text-anchor="end" fill="#111" stroke="#111" stroke-width="0.18">150</text>
<text x="454.50" y="234.50" font-size="12" text-anchor="end" fill="#111" stroke="#111" stroke-width="0.18">200</text>
<path d="M465.8 305.6 H488.2" stroke="#555" stroke-width="1.2"/>
<path d="M499.8 301.3 H522.2" stroke="#555" stroke-width="1.2"/>
<path d="M534.0 276.6 H556.4000000000001" stroke="#555" stroke-width="1.2"/>
<circle cx="469.3" cy="305.6" r="1.5" fill="#111"/>
<circle cx="471.5" cy="305.6" r="1.5" fill="#111"/>
<circle cx="473.7" cy="305.6" r="1.5" fill="#111"/>
<circle cx="475.9" cy="305.6" r="1.5" fill="#111"/>
<circle cx="478.1" cy="305.6" r="1.5" fill="#111"/>
<circle cx="480.3" cy="305.6" r="1.5" fill="#111"/>
<circle cx="482.5" cy="305.6" r="1.5" fill="#111"/>
<circle cx="484.7" cy="305.6" r="1.5" fill="#111"/>
<path d="M506.5 296.1 L508.1 299.1 L504.9 299.1Z M511.0 296.5 L512.6 299.4 L509.4 299.4Z M515.4 294.2 L517.0 297.2 L513.8 297.2Z M506.5 302.1 L508.1 305.1 L504.9 305.1Z M511.4 306.8 L513.0 303.9 L509.8 303.9Z M515.4 302.1 L517.0 305.1 L513.8 305.1Z M520.5 303.4 L522.1 300.5 L518.9 300.5Z M501.8 299.9 L503.4 302.8 L500.2 302.8Z M545.3 265.8 L546.9 262.9 L543.7 262.9Z M545.3 270.4 L546.9 267.4 L543.7 267.4Z M543.1 274.1 L544.7 271.2 L541.5 271.2Z M547.5 277.9 L549.1 274.9 L545.9 274.9Z M540.4 281.6 L542.0 278.7 L538.8 278.7Z M545.3 283.1 L546.9 280.2 L543.7 280.2Z M550.0 283.1 L551.6 280.2 L548.4 280.2Z" fill="#111"/>
<text x="408.00" y="268.00" font-size="14" text-anchor="middle" fill="#111" stroke="#111" stroke-width="0.18" transform="rotate(-90 408 268)">Repopulation</text>
<text x="425.00" y="268.00" font-size="14" text-anchor="middle" fill="#111" stroke="#111" stroke-width="0.18" transform="rotate(-90 425 268)">(% of control)</text>
<text x="482.20" y="315.60" font-size="12" text-anchor="end" fill="#111" stroke="#111" stroke-width="0.18" transform="rotate(-45 482.2 315.6)">24 h</text>
<text x="514.80" y="315.40" font-size="12" text-anchor="end" fill="#111" stroke="#111" stroke-width="0.18" transform="rotate(-45 514.8 315.40000000000003)">8 weeks</text>
<text x="549.20" y="315.30" font-size="12" text-anchor="end" fill="#111" stroke="#111" stroke-width="0.18" transform="rotate(-45 549.2 315.3)">12 weeks</text>
<g stroke="#3c3c3c" stroke-width="1.2" fill="none">
<path d="M641.9 230.4 V305.6 H743.8"/>
<path d="M639.9 305.60 H641.9"/>
<path d="M639.9 286.80 H641.9"/>
<path d="M639.9 268.00 H641.9"/>
<path d="M639.9 249.20 H641.9"/>
<path d="M639.9 230.40 H641.9"/>
<path d="M658.6 305.6 V307.6"/>
<path d="M692.7 305.6 V307.6"/>
<path d="M726.8 305.6 V307.6"/>
</g>
<text x="636.40" y="309.70" font-size="12" text-anchor="end" fill="#111" stroke="#111" stroke-width="0.18">0</text>
<text x="636.40" y="290.90" font-size="12" text-anchor="end" fill="#111" stroke="#111" stroke-width="0.18">50</text>
<text x="636.40" y="272.10" font-size="12" text-anchor="end" fill="#111" stroke="#111" stroke-width="0.18">100</text>
<text x="636.40" y="253.30" font-size="12" text-anchor="end" fill="#111" stroke="#111" stroke-width="0.18">150</text>
<text x="636.40" y="234.50" font-size="12" text-anchor="end" fill="#111" stroke="#111" stroke-width="0.18">200</text>
<path d="M647.4 305.6 H669.8000000000001" stroke="#555" stroke-width="1.2"/>
<path d="M681.5 301.1 H703.9000000000001" stroke="#555" stroke-width="1.2"/>
<path d="M715.5999999999999 274.4 H738.0" stroke="#555" stroke-width="1.2"/>
<circle cx="649.4" cy="305.6" r="1.5" fill="#111"/>
<circle cx="652.5" cy="305.6" r="1.5" fill="#111"/>
<circle cx="655.5" cy="305.6" r="1.5" fill="#111"/>
<circle cx="658.6" cy="305.6" r="1.5" fill="#111"/>
<circle cx="661.7" cy="305.6" r="1.5" fill="#111"/>
<circle cx="664.7" cy="305.6" r="1.5" fill="#111"/>
<circle cx="667.8" cy="305.6" r="1.5" fill="#111"/>
<circle cx="726.8" cy="274.0" r="1.5" fill="#111"/>
<path d="M692.7 288.2 L694.3 291.2 L691.1 291.2Z M690.5 294.6 L692.1 297.6 L688.9 297.6Z M683.8 299.1 L685.4 302.1 L682.2 302.1Z M694.9 298.4 L696.5 301.3 L693.3 301.3Z M701.8 303.4 L703.4 300.5 L700.2 300.5Z M688.3 302.9 L689.9 305.8 L686.7 305.8Z M692.7 306.8 L694.3 303.9 L691.1 303.9Z M697.4 302.9 L699.0 305.8 L695.8 305.8Z M722.1 267.7 L723.7 264.8 L720.5 264.8Z M726.8 267.7 L728.4 264.8 L725.2 264.8Z M731.3 267.0 L732.9 264.0 L729.7 264.0Z M724.6 283.1 L726.2 280.2 L723.0 280.2Z M729.0 283.9 L730.6 280.9 L727.4 280.9Z M726.8 290.7 L728.4 287.7 L725.2 287.7Z" fill="#111"/>
<text x="589.50" y="268.00" font-size="14" text-anchor="middle" fill="#111" stroke="#111" stroke-width="0.18" transform="rotate(-90 589.5 268)">Repopulation</text>
<text x="606.50" y="268.00" font-size="14" text-anchor="middle" fill="#111" stroke="#111" stroke-width="0.18" transform="rotate(-90 606.5 268)">(% of control)</text>
<text x="663.80" y="315.60" font-size="12" text-anchor="end" fill="#111" stroke="#111" stroke-width="0.18" transform="rotate(-45 663.8000000000001 315.6)">24 h</text>
<text x="696.50" y="315.40" font-size="12" text-anchor="end" fill="#111" stroke="#111" stroke-width="0.18" transform="rotate(-45 696.5 315.40000000000003)">8 weeks</text>
<text x="730.80" y="315.30" font-size="12" text-anchor="end" fill="#111" stroke="#111" stroke-width="0.18" transform="rotate(-45 730.8 315.3)">12 weeks</text>
<g stroke="#3c3c3c" stroke-width="1.2" fill="none">
<path d="M460 415.6 V491 H561.8"/>
<path d="M458 491.00 H460"/>
<path d="M458 472.15 H460"/>
<path d="M458 453.30 H460"/>
<path d="M458 434.45 H460"/>
<path d="M458 415.60 H460"/>
<path d="M477 491 V493"/>
<path d="M511 491 V493"/>
<path d="M545.1 491 V493"/>
</g>
<text x="454.50" y="495.10" font-size="12" text-anchor="end" fill="#111" stroke="#111" stroke-width="0.18">0</text>
<text x="454.50" y="476.25" font-size="12" text-anchor="end" fill="#111" stroke="#111" stroke-width="0.18">50</text>
<text x="454.50" y="457.40" font-size="12" text-anchor="end" fill="#111" stroke="#111" stroke-width="0.18">100</text>
<text x="454.50" y="438.55" font-size="12" text-anchor="end" fill="#111" stroke="#111" stroke-width="0.18">150</text>
<text x="454.50" y="419.70" font-size="12" text-anchor="end" fill="#111" stroke="#111" stroke-width="0.18">200</text>
<path d="M465.8 489.5 H488.2" stroke="#555" stroke-width="1.2"/>
<path d="M499.8 462.9 H522.2" stroke="#555" stroke-width="1.2"/>
<path d="M533.9 458.2 H556.3000000000001" stroke="#555" stroke-width="1.2"/>
<path d="M469.6 487.1 L471.2 490.1 L468.0 490.1Z M472.0 488.5 L473.6 491.4 L470.4 491.4Z M474.3 486.8 L475.9 489.7 L472.7 489.7Z M476.6 488.5 L478.2 491.4 L475.0 491.4Z M479.0 486.8 L480.6 489.7 L477.4 489.7Z M481.5 488.5 L483.1 491.4 L479.9 491.4Z M483.9 487.1 L485.5 490.1 L482.3 490.1Z M486.0 488.3 L487.6 491.2 L484.4 491.2Z M511.0 438.9 L512.6 441.8 L509.4 441.8Z M511.0 446.0 L512.6 449.0 L509.4 449.0Z M513.5 451.3 L515.1 454.3 L511.9 454.3Z M508.8 454.7 L510.4 457.7 L507.2 457.7Z M508.8 468.7 L510.4 471.6 L507.2 471.6Z M513.5 470.2 L515.1 473.1 L511.9 473.1Z M508.8 480.7 L510.4 483.7 L507.2 483.7Z M513.5 480.0 L515.1 482.9 L511.9 482.9Z M547.5 453.8 L549.1 450.8 L545.9 450.8Z M542.6 457.2 L544.2 454.2 L541.0 454.2Z M549.7 457.9 L551.3 455.0 L548.1 455.0Z M540.1 459.8 L541.7 456.8 L538.5 456.8Z M545.1 462.4 L546.7 459.5 L543.5 459.5Z M547.5 473.4 L549.1 470.4 L545.9 470.4Z M542.9 476.8 L544.5 473.8 L541.3 473.8Z" fill="#111"/>
<text x="408.00" y="453.30" font-size="14" text-anchor="middle" fill="#111" stroke="#111" stroke-width="0.18" transform="rotate(-90 408 453.3)">Repopulation</text>
<text x="425.00" y="453.30" font-size="14" text-anchor="middle" fill="#111" stroke="#111" stroke-width="0.18" transform="rotate(-90 425 453.3)">(% of control)</text>
<text x="482.20" y="501.00" font-size="12" text-anchor="end" fill="#111" stroke="#111" stroke-width="0.18" transform="rotate(-45 482.2 501.0)">24 h</text>
<text x="514.80" y="500.80" font-size="12" text-anchor="end" fill="#111" stroke="#111" stroke-width="0.18" transform="rotate(-45 514.8 500.8)">8 weeks</text>
<text x="549.10" y="500.70" font-size="12" text-anchor="end" fill="#111" stroke="#111" stroke-width="0.18" transform="rotate(-45 549.1 500.7)">12 weeks</text>
<g stroke="#3c3c3c" stroke-width="1.2" fill="none">
<path d="M641.4 415.9 V491 H743.8"/>
<path d="M639.4 491.00 H641.4"/>
<path d="M639.4 472.23 H641.4"/>
<path d="M639.4 453.45 H641.4"/>
<path d="M639.4 434.67 H641.4"/>
<path d="M639.4 415.90 H641.4"/>
<path d="M658.6 491 V493"/>
<path d="M692.7 491 V493"/>
<path d="M726.8 491 V493"/>
</g>
<text x="635.90" y="495.10" font-size="12" text-anchor="end" fill="#111" stroke="#111" stroke-width="0.18">0</text>
<text x="635.90" y="476.33" font-size="12" text-anchor="end" fill="#111" stroke="#111" stroke-width="0.18">50</text>
<text x="635.90" y="457.55" font-size="12" text-anchor="end" fill="#111" stroke="#111" stroke-width="0.18">100</text>
<text x="635.90" y="438.77" font-size="12" text-anchor="end" fill="#111" stroke="#111" stroke-width="0.18">150</text>
<text x="635.90" y="420.00" font-size="12" text-anchor="end" fill="#111" stroke="#111" stroke-width="0.18">200</text>
<path d="M647.4 490.6 H669.8000000000001" stroke="#555" stroke-width="1.2"/>
<path d="M681.5 482.0 H703.9000000000001" stroke="#555" stroke-width="1.2"/>
<path d="M715.5999999999999 452.7 H738.0" stroke="#555" stroke-width="1.2"/>
<circle cx="649.4" cy="490.2" r="1.5" fill="#111"/>
<circle cx="652.5" cy="490.6" r="1.5" fill="#111"/>
<circle cx="655.5" cy="491.0" r="1.5" fill="#111"/>
<circle cx="658.6" cy="491.0" r="1.5" fill="#111"/>
<circle cx="661.7" cy="490.6" r="1.5" fill="#111"/>
<circle cx="664.7" cy="490.2" r="1.5" fill="#111"/>
<circle cx="667.8" cy="489.5" r="1.5" fill="#111"/>
<circle cx="726.8" cy="452.7" r="1.5" fill="#111"/>
<path d="M688.3 470.6 L689.9 473.6 L686.7 473.6Z M692.7 472.9 L694.3 475.8 L691.1 475.8Z M697.4 471.8 L699.0 474.7 L695.8 474.7Z M692.7 479.3 L694.3 482.2 L691.1 482.2Z M686.0 483.8 L687.6 486.7 L684.4 486.7Z M690.8 484.3 L692.4 487.3 L689.2 487.3Z M695.2 484.3 L696.8 487.3 L693.6 487.3Z M699.6 482.6 L701.2 485.6 L698.0 485.6Z M726.8 429.1 L728.4 426.2 L725.2 426.2Z M724.6 444.9 L726.2 442.0 L723.0 442.0Z M729.0 443.8 L730.6 440.8 L727.4 440.8Z M722.1 459.9 L723.7 457.0 L720.5 457.0Z M731.5 459.9 L733.1 457.0 L729.9 457.0Z M726.8 463.3 L728.4 460.4 L725.2 460.4Z" fill="#111"/>
<text x="589.50" y="453.30" font-size="14" text-anchor="middle" fill="#111" stroke="#111" stroke-width="0.18" transform="rotate(-90 589.5 453.3)">Repopulation</text>
<text x="606.50" y="453.30" font-size="14" text-anchor="middle" fill="#111" stroke="#111" stroke-width="0.18" transform="rotate(-90 606.5 453.3)">(% of control)</text>
<text x="663.80" y="501.00" font-size="12" text-anchor="end" fill="#111" stroke="#111" stroke-width="0.18" transform="rotate(-45 663.8000000000001 501.0)">24 h</text>
<text x="696.50" y="500.80" font-size="12" text-anchor="end" fill="#111" stroke="#111" stroke-width="0.18" transform="rotate(-45 696.5 500.8)">8 weeks</text>
<text x="730.80" y="500.70" font-size="12" text-anchor="end" fill="#111" stroke="#111" stroke-width="0.18" transform="rotate(-45 730.8 500.7)">12 weeks</text>
<g stroke="#3c3c3c" stroke-width="1.2" fill="none">
<path d="M460 610.3 V685.1 H561.8"/>
<path d="M458 685.10 H460"/>
<path d="M458 666.40 H460"/>
<path d="M458 647.70 H460"/>
<path d="M458 629.00 H460"/>
<path d="M458 610.30 H460"/>
<path d="M477 685.1 V687.1"/>
<path d="M511.1 685.1 V687.1"/>
<path d="M545.4 685.1 V687.1"/>
</g>
<text x="454.50" y="689.20" font-size="12" text-anchor="end" fill="#111" stroke="#111" stroke-width="0.18">0</text>
<text x="454.50" y="670.50" font-size="12" text-anchor="end" fill="#111" stroke="#111" stroke-width="0.18">50</text>
<text x="454.50" y="651.80" font-size="12" text-anchor="end" fill="#111" stroke="#111" stroke-width="0.18">100</text>
<text x="454.50" y="633.10" font-size="12" text-anchor="end" fill="#111" stroke="#111" stroke-width="0.18">150</text>
<text x="454.50" y="614.40" font-size="12" text-anchor="end" fill="#111" stroke="#111" stroke-width="0.18">200</text>
<path d="M465.8 682.9 H488.2" stroke="#555" stroke-width="1.2"/>
<path d="M499.90000000000003 673.1 H522.3000000000001" stroke="#555" stroke-width="1.2"/>
<path d="M534.1999999999999 653.3 H556.6" stroke="#555" stroke-width="1.2"/>
<circle cx="469.8" cy="682.3" r="1.5" fill="#111"/>
<circle cx="472.2" cy="683.2" r="1.5" fill="#111"/>
<circle cx="474.8" cy="682.3" r="1.5" fill="#111"/>
<circle cx="477.0" cy="683.2" r="1.5" fill="#111"/>
<circle cx="479.4" cy="682.3" r="1.5" fill="#111"/>
<circle cx="482.0" cy="683.2" r="1.5" fill="#111"/>
<circle cx="484.4" cy="682.3" r="1.5" fill="#111"/>
<path d="M511.6 661.1 L513.2 664.0 L510.0 664.0Z M508.9 665.5 L510.5 668.5 L507.3 668.5Z M513.6 665.5 L515.2 668.5 L512.0 668.5Z M508.9 670.8 L510.5 673.7 L507.3 673.7Z M513.6 673.8 L515.2 676.7 L512.0 676.7Z M506.7 676.4 L508.3 679.4 L505.1 679.4Z M515.8 677.1 L517.4 680.1 L514.2 680.1Z M511.1 679.4 L512.7 682.3 L509.5 682.3Z M545.4 635.5 L547.0 632.5 L543.8 632.5Z M545.4 644.4 L547.0 641.5 L543.8 641.5Z M538.4 652.3 L540.0 649.3 L536.8 649.3Z M543.1 654.9 L544.7 651.9 L541.5 651.9Z M547.2 654.9 L548.8 651.9 L545.6 651.9Z M551.6 654.9 L553.2 651.9 L550.0 651.9Z M545.4 660.1 L547.0 657.2 L543.8 657.2Z" fill="#111"/>
<text x="408.00" y="647.70" font-size="14" text-anchor="middle" fill="#111" stroke="#111" stroke-width="0.18" transform="rotate(-90 408 647.7)">Repopulation</text>
<text x="425.00" y="647.70" font-size="14" text-anchor="middle" fill="#111" stroke="#111" stroke-width="0.18" transform="rotate(-90 425 647.7)">(% of control)</text>
<text x="482.20" y="695.10" font-size="12" text-anchor="end" fill="#111" stroke="#111" stroke-width="0.18" transform="rotate(-45 482.2 695.1)">24 h</text>
<text x="514.90" y="694.90" font-size="12" text-anchor="end" fill="#111" stroke="#111" stroke-width="0.18" transform="rotate(-45 514.9 694.9)">8 weeks</text>
<text x="549.40" y="694.80" font-size="12" text-anchor="end" fill="#111" stroke="#111" stroke-width="0.18" transform="rotate(-45 549.4 694.8000000000001)">12 weeks</text>
<g stroke="#3c3c3c" stroke-width="1.2" fill="none">
<path d="M641.4 610.3 V685.1 H743.8"/>
<path d="M639.4 685.10 H641.4"/>
<path d="M639.4 666.40 H641.4"/>
<path d="M639.4 647.70 H641.4"/>
<path d="M639.4 629.00 H641.4"/>
<path d="M639.4 610.30 H641.4"/>
<path d="M658.8 685.1 V687.1"/>
<path d="M692.7 685.1 V687.1"/>
<path d="M726.8 685.1 V687.1"/>
</g>
<text x="635.90" y="689.20" font-size="12" text-anchor="end" fill="#111" stroke="#111" stroke-width="0.18">0</text>
<text x="635.90" y="670.50" font-size="12" text-anchor="end" fill="#111" stroke="#111" stroke-width="0.18">50</text>
<text x="635.90" y="651.80" font-size="12" text-anchor="end" fill="#111" stroke="#111" stroke-width="0.18">100</text>
<text x="635.90" y="633.10" font-size="12" text-anchor="end" fill="#111" stroke="#111" stroke-width="0.18">150</text>
<text x="635.90" y="614.40" font-size="12" text-anchor="end" fill="#111" stroke="#111" stroke-width="0.18">200</text>
<path d="M647.5999999999999 682.5 H670.0" stroke="#555" stroke-width="1.2"/>
<path d="M681.5 675.2 H703.9000000000001" stroke="#555" stroke-width="1.2"/>
<path d="M715.5999999999999 650.3 H738.0" stroke="#555" stroke-width="1.2"/>
<circle cx="650.0" cy="680.2" r="1.5" fill="#111"/>
<circle cx="658.8" cy="678.0" r="1.5" fill="#111"/>
<circle cx="654.4" cy="682.9" r="1.5" fill="#111"/>
<circle cx="658.8" cy="684.4" r="1.5" fill="#111"/>
<circle cx="663.2" cy="683.2" r="1.5" fill="#111"/>
<circle cx="667.6" cy="682.5" r="1.5" fill="#111"/>
<circle cx="726.8" cy="650.3" r="1.5" fill="#111"/>
<path d="M690.8 664.1 L692.4 667.0 L689.2 667.0Z M695.2 661.8 L696.8 664.8 L693.6 664.8Z M688.3 673.0 L689.9 676.0 L686.7 676.0Z M697.4 671.2 L699.0 674.1 L695.8 674.1Z M693.0 674.9 L694.6 677.9 L691.4 677.9Z M688.3 679.0 L689.9 682.0 L686.7 682.0Z M693.0 682.0 L694.6 685.0 L691.4 685.0Z M697.4 681.6 L699.0 684.6 L695.8 684.6Z M726.8 623.9 L728.4 620.9 L725.2 620.9Z M724.6 638.1 L726.2 635.1 L723.0 635.1Z M729.0 641.4 L730.6 638.5 L727.4 638.5Z M726.8 656.8 L728.4 653.8 L725.2 653.8Z M724.6 661.6 L726.2 658.7 L723.0 658.7Z M729.0 660.9 L730.6 657.9 L727.4 657.9Z" fill="#111"/>
<text x="589.50" y="647.70" font-size="14" text-anchor="middle" fill="#111" stroke="#111" stroke-width="0.18" transform="rotate(-90 589.5 647.7)">Repopulation</text>
<text x="606.50" y="647.70" font-size="14" text-anchor="middle" fill="#111" stroke="#111" stroke-width="0.18" transform="rotate(-90 606.5 647.7)">(% of control)</text>
<text x="664.00" y="695.10" font-size="12" text-anchor="end" fill="#111" stroke="#111" stroke-width="0.18" transform="rotate(-45 664.0 695.1)">24 h</text>
<text x="696.50" y="694.90" font-size="12" text-anchor="end" fill="#111" stroke="#111" stroke-width="0.18" transform="rotate(-45 696.5 694.9)">8 weeks</text>
<text x="730.80" y="694.80" font-size="12" text-anchor="end" fill="#111" stroke="#111" stroke-width="0.18" transform="rotate(-45 730.8 694.8000000000001)">12 weeks</text>
</svg>
</body></html>
